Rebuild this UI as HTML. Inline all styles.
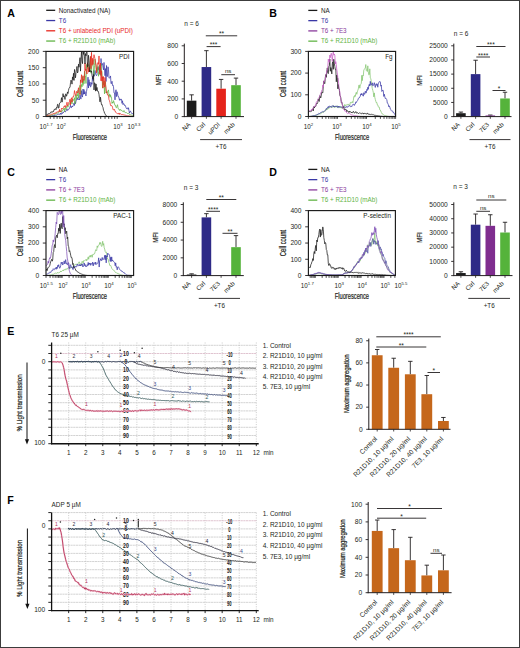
<!DOCTYPE html>
<html><head><meta charset="utf-8"><style>
html,body{margin:0;padding:0;background:#fff;}
svg{display:block;}
text{font-family:"Liberation Sans", sans-serif;}
</style></head><body>
<svg width="520" height="648" viewBox="0 0 520 648">
<rect x="0" y="0" width="520" height="648" fill="#fff"/>
<text x="7.3" y="17.2" font-size="10.6" text-anchor="start" fill="#000" font-weight="bold">A</text>
<line x1="46.2" y1="10.3" x2="55.2" y2="10.3" stroke="#1a1a1a" stroke-width="1.3"/>
<text x="58.8" y="12.6" font-size="6.3" text-anchor="start" fill="#1a1a1a" font-weight="normal">Nonactivated (NA)</text>
<line x1="46.2" y1="20.55" x2="55.2" y2="20.55" stroke="#3a38a6" stroke-width="1.3"/>
<text x="58.8" y="22.85" font-size="6.3" text-anchor="start" fill="#3a38a6" font-weight="normal">T6</text>
<line x1="46.2" y1="30.8" x2="55.2" y2="30.8" stroke="#e8291f" stroke-width="1.3"/>
<text x="58.8" y="33.1" font-size="6.3" text-anchor="start" fill="#e8291f" font-weight="normal">T6 + unlabeled PDI (uPDI)</text>
<line x1="46.2" y1="41.05" x2="55.2" y2="41.05" stroke="#62b446" stroke-width="1.3"/>
<text x="58.8" y="43.35" font-size="6.3" text-anchor="start" fill="#62b446" font-weight="normal">T6 + R21D10 (mAb)</text>
<polyline points="46.5,116.18 47,116.16 47.5,116.02 48,116.05 48.5,116.19 49,116 49.5,116.01 50,115.92 50.5,115.95 51,115.78 51.5,115.88 52,115.41 52.5,115.49 53,115.47 53.5,115.66 54,115.03 54.5,115.68 55,115 55.5,115.19 56,115.21 56.5,115.14 57,115.01 57.5,114.42 58,114.35 58.5,113.92 59,114.73 59.5,114.23 60,114.03 60.5,113.11 61,114.63 61.5,113.12 62,113.5 62.5,113.52 63,111.9 63.5,112.56 64,111.91 64.5,111.05 65,111.66 65.5,111.83 66,110.4 66.5,110.35 67,108.77 67.5,110.42 68,109.97 68.5,109.63 69,109.24 69.5,107.8 70,107.12 70.5,105.19 71,107.84 71.5,107.65 72,106.07 72.5,106.99 73,105.82 73.5,104.76 74,103.09 74.5,105.48 75,101.62 75.5,103.7 76,101.22 76.5,99.57 77,99.97 77.5,97.7 78,99.8 78.5,99.41 79,98.9 79.5,99.9 80,94.79 80.5,98.27 81,99.08 81.5,90.64 82,95.46 82.5,97.09 83,89.01 83.5,94.29 84,89.56 84.5,94 85,91.55 85.5,94.85 86,95.94 86.5,91.59 87,88.68 87.5,84.01 88,77.15 88.5,88.04 89,79.65 89.5,85.47 90,82.11 90.5,86.94 91,86.51 91.5,82.7 92,84.31 92.5,76.52 93,80.6 93.5,70.54 94,76.41 94.5,75.96 95,70.41 95.5,73.06 96,74.95 96.5,75.69 97,74.63 97.5,67.49 98,69.43 98.5,69.65 99,66.88 99.5,72.35 100,65.02 100.5,74.59 101,58.53 101.5,65.4 102,64.54 102.5,63.54 103,67.23 103.5,69.86 104,62.44 104.5,68.96 105,75.7 105.5,68.61 106,81.51 106.5,65.51 107,76.46 107.5,76.42 108,66.81 108.5,69.73 109,78.13 109.5,78.12 110,77.47 110.5,75.94 111,83.68 111.5,83.49 112,81.26 112.5,85.4 113,84.92 113.5,86.86 114,92.94 114.5,92.91 115,99.89 115.5,92.19 116,89.77 116.5,96.57 117,91.72 117.5,93.13 118,96.54 118.5,96.5 119,98.01 119.5,100.29 120,98.87 120.5,100.17 121,99.26 121.5,99.31 122,103.36 122.5,100.79 123,104.64 123.5,103.63 124,103.77 124.5,105.46 125,105.08 125.5,105.94 126,107.62 126.5,108.61 127,108.49 127.5,107.79 128,109.25 128.5,107.76 129,110.84 129.5,113.08 130,111.32 130.5,111.1 131,112.45 131.5,112.85 132,113.81 132.5,113.6 133,114.32" fill="none" stroke="#3a38a6" stroke-width="0.75" stroke-linejoin="round"/>
<polyline points="46.5,115.61 47,116.05 47.5,115.77 48,115.76 48.5,115.77 49,115.5 49.5,115.7 50,115.31 50.5,115.48 51,114.79 51.5,115.09 52,115 52.5,115.02 53,114.86 53.5,114.87 54,114.35 54.5,114.34 55,114.11 55.5,113.91 56,114.14 56.5,113.84 57,113.19 57.5,113 58,112.94 58.5,112.78 59,112.03 59.5,110.69 60,112 60.5,111.74 61,110.86 61.5,112.3 62,110.62 62.5,110.57 63,109.3 63.5,109.64 64,108.21 64.5,111.55 65,108 65.5,108.95 66,109.78 66.5,107.1 67,106.04 67.5,107.01 68,107.38 68.5,105.79 69,105.06 69.5,103.35 70,102.74 70.5,103.51 71,100.25 71.5,101.78 72,104.06 72.5,99.62 73,99.06 73.5,100.42 74,100.19 74.5,97.79 75,103.95 75.5,95.09 76,94.71 76.5,99.23 77,94.71 77.5,95.82 78,90.09 78.5,98.36 79,93.99 79.5,87.63 80,85.24 80.5,94.3 81,88.22 81.5,84.59 82,86.85 82.5,76.46 83,85.47 83.5,78.91 84,83.77 84.5,71.18 85,76.89 85.5,76.36 86,83.49 86.5,64.54 87,68.4 87.5,66.89 88,64.32 88.5,66.04 89,71.55 89.5,71.45 90,71.06 90.5,56.8 91,73.18 91.5,67.19 92,65.43 92.5,61.85 93,60.15 93.5,72.29 94,75.3 94.5,65.38 95,59.09 95.5,62.26 96,66.01 96.5,70.41 97,68.04 97.5,71.3 98,65.68 98.5,76.23 99,72.08 99.5,74.29 100,71.29 100.5,75.41 101,64.26 101.5,70.12 102,72.37 102.5,88.08 103,82.11 103.5,84.78 104,80.89 104.5,93.87 105,81.48 105.5,82.16 106,93.02 106.5,91.73 107,93.25 107.5,91.36 108,91.34 108.5,89.9 109,96.07 109.5,94.26 110,97.32 110.5,94.76 111,97.13 111.5,97.3 112,103.45 112.5,102.05 113,103.12 113.5,100.65 114,102.12 114.5,103.97 115,105.53 115.5,105.43 116,107.59 116.5,107.71 117,106.09 117.5,104.7 118,107.89 118.5,109.06 119,109.62 119.5,110.44 120,109.05 120.5,109.6 121,110.73 121.5,110.24 122,110.96 122.5,111.14 123,111.82 123.5,111.69 124,110.5 124.5,112 125,112.6 125.5,112.56 126,112.68 126.5,112.66 127,112.95 127.5,113.53 128,113.89 128.5,113.32 129,113.51 129.5,114.46 130,114.24 130.5,114.87 131,114.62 131.5,115.06 132,115.17 132.5,115.38 133,115.83" fill="none" stroke="#62b446" stroke-width="0.75" stroke-linejoin="round"/>
<polyline points="46.5,115.42 47,115.49 47.5,115.61 48,115.64 48.5,115.05 49,114.79 49.5,114.95 50,114.84 50.5,114.78 51,114.7 51.5,114.23 52,114.11 52.5,114.08 53,114.25 53.5,113.51 54,114.08 54.5,113.15 55,113.27 55.5,113.05 56,113.43 56.5,112.06 57,111.67 57.5,111.87 58,112.01 58.5,111.62 59,111.51 59.5,109.38 60,112.05 60.5,111.16 61,111.53 61.5,108.18 62,108.86 62.5,108.52 63,108.5 63.5,107.75 64,106.44 64.5,107.1 65,105.49 65.5,107.66 66,105.92 66.5,104.8 67,102.23 67.5,106.02 68,105 68.5,103.68 69,102 69.5,101.68 70,99.17 70.5,104.94 71,99.5 71.5,97.75 72,102.12 72.5,98.83 73,96.42 73.5,96.8 74,94.78 74.5,90.57 75,93.32 75.5,94.34 76,95.48 76.5,91.43 77,92.45 77.5,92.97 78,90.69 78.5,87.75 79,92.66 79.5,93.38 80,94.58 80.5,79.83 81,82.61 81.5,74.71 82,80.41 82.5,82.47 83,75.68 83.5,76.31 84,80.54 84.5,78.22 85,63.07 85.5,70.5 86,68.99 86.5,72.18 87,74.04 87.5,62.81 88,68.27 88.5,72.18 89,67.7 89.5,71.22 90,64.27 90.5,56.38 91,68.7 91.5,52.3 92,65.36 92.5,58.33 93,64.44 93.5,58.71 94,54.69 94.5,56.91 95,58.96 95.5,62.12 96,65.87 96.5,72.8 97,66.5 97.5,63.37 98,62.51 98.5,64.36 99,55.95 99.5,69.98 100,74.17 100.5,63 101,80.8 101.5,70.78 102,81.14 102.5,76.74 103,88.15 103.5,76.57 104,81.98 104.5,86.97 105,77.47 105.5,84.44 106,88.14 106.5,92.96 107,92.42 107.5,95.02 108,94.72 108.5,95.75 109,99.87 109.5,100.71 110,102.6 110.5,105.31 111,106.06 111.5,105.47 112,105.81 112.5,107.16 113,109.76 113.5,109.73 114,109.98 114.5,109.35 115,111.5 115.5,111.49 116,112.65 116.5,113.15 117,113.17 117.5,113.61 118,113.6 118.5,113.95 119,112.94 119.5,114.42 120,113.34 120.5,114.04 121,114 121.5,114.6 122,114.44 122.5,114.53 123,114.82 123.5,114.74 124,114.88 124.5,115.03 125,115.23 125.5,115.25 126,115.37 126.5,115.71 127,115.72 127.5,115.84 128,116.01 128.5,115.85 129,116.03 129.5,116.04 130,116.13 130.5,116.23 131,116.32 131.5,116.36 132,116.41 132.5,116.45 133,116.5" fill="none" stroke="#e8291f" stroke-width="0.75" stroke-linejoin="round"/>
<polyline points="46.5,114.72 47,114.12 47.5,114.31 48,114.68 48.5,113.56 49,113.31 49.5,113.56 50,113 50.5,113.08 51,111.7 51.5,112.01 52,112.02 52.5,112.19 53,111.11 53.5,111.59 54,109.61 54.5,109.82 55,108.78 55.5,108.84 56,109.66 56.5,107.51 57,108.03 57.5,104.36 58,104.45 58.5,108.23 59,107.47 59.5,103.13 60,102.74 60.5,102.6 61,101.16 61.5,97.65 62,102.18 62.5,100.71 63,93.64 63.5,96.9 64,95.66 64.5,97.04 65,99.48 65.5,94.24 66,93.76 66.5,96.26 67,94.7 67.5,91.96 68,93.51 68.5,90.26 69,88.39 69.5,87.46 70,87.38 70.5,82.73 71,80.11 71.5,81.09 72,84.13 72.5,76.91 73,79.81 73.5,73.28 74,80.47 74.5,69.46 75,72.54 75.5,77.79 76,72.79 76.5,68.59 77,66.42 77.5,72.99 78,71.72 78.5,64.15 79,67.22 79.5,61.6 80,57.65 80.5,71.13 81,59.51 81.5,51.4 82,60.73 82.5,63.64 83,51.51 83.5,54.37 84,51.4 84.5,56.82 85,63.88 85.5,53.61 86,55.85 86.5,51.4 87,51.92 87.5,66.73 88,65.58 88.5,55.26 89,60.74 89.5,71.85 90,70.31 90.5,71 91,72.02 91.5,70.91 92,75.54 92.5,77.45 93,79.23 93.5,74.5 94,89.93 94.5,82.84 95,83.2 95.5,91.14 96,83.93 96.5,90.46 97,87.44 97.5,91.09 98,90.93 98.5,92.04 99,94.49 99.5,98.62 100,101.87 100.5,97.17 101,101.61 101.5,104.61 102,104.3 102.5,106.46 103,107.55 103.5,110.31 104,111.29 104.5,113.17 105,113.45 105.5,114.9 106,115.42 106.5,116.17 107,116.5 107.5,116.5 108,116.5 108.5,116.5 109,116.5 109.5,116.5 110,116.5 110.5,116.5 111,116.5 111.5,116.5 112,116.5 112.5,116.5 113,116.5 113.5,116.5 114,116.5 114.5,116.5 115,116.5 115.5,116.5 116,116.5 116.5,116.5 117,116.5 117.5,116.5 118,116.5 118.5,116.5 119,116.5 119.5,116.5 120,116.5 120.5,116.5 121,116.5 121.5,116.5 122,116.5 122.5,116.5 123,116.5 123.5,116.5 124,116.5 124.5,116.5 125,116.5 125.5,116.5 126,116.5 126.5,116.5 127,116.5 127.5,116.5 128,116.5 128.5,116.5 129,116.5 129.5,116.5 130,116.5 130.5,116.5 131,116.5 131.5,116.5 132,116.5 132.5,116.5 133,116.5" fill="none" stroke="#1a1a1a" stroke-width="0.75" stroke-linejoin="round"/>
<rect x="46" y="51.4" width="87.6" height="65.1" fill="none" stroke="#1a1a1a" stroke-width="1.15"/>
<line x1="42.8" y1="116.5" x2="46" y2="116.5" stroke="#231f20" stroke-width="0.9"/>
<text x="39.1" y="118.8" font-size="6.65" text-anchor="end" fill="#231f20" font-weight="normal">0</text>
<line x1="42.8" y1="100.22" x2="46" y2="100.22" stroke="#231f20" stroke-width="0.9"/>
<text x="39.1" y="102.52" font-size="6.65" text-anchor="end" fill="#231f20" font-weight="normal">50</text>
<line x1="42.8" y1="83.95" x2="46" y2="83.95" stroke="#231f20" stroke-width="0.9"/>
<text x="39.1" y="86.25" font-size="6.65" text-anchor="end" fill="#231f20" font-weight="normal">100</text>
<line x1="42.8" y1="67.68" x2="46" y2="67.68" stroke="#231f20" stroke-width="0.9"/>
<text x="39.1" y="69.98" font-size="6.65" text-anchor="end" fill="#231f20" font-weight="normal">150</text>
<line x1="42.8" y1="51.4" x2="46" y2="51.4" stroke="#231f20" stroke-width="0.9"/>
<text x="39.1" y="53.7" font-size="6.65" text-anchor="end" fill="#231f20" font-weight="normal">200</text>
<line x1="50.28" y1="116.5" x2="50.28" y2="118.9" stroke="#111" stroke-width="0.75"/>
<line x1="53.94" y1="116.5" x2="53.94" y2="118.9" stroke="#111" stroke-width="0.75"/>
<line x1="57.12" y1="116.5" x2="57.12" y2="118.9" stroke="#111" stroke-width="0.75"/>
<line x1="59.92" y1="116.5" x2="59.92" y2="118.9" stroke="#111" stroke-width="0.75"/>
<line x1="62.43" y1="116.5" x2="62.43" y2="118.9" stroke="#111" stroke-width="0.75"/>
<line x1="78.91" y1="116.5" x2="78.91" y2="118.9" stroke="#111" stroke-width="0.75"/>
<line x1="88.55" y1="116.5" x2="88.55" y2="118.9" stroke="#111" stroke-width="0.75"/>
<line x1="95.39" y1="116.5" x2="95.39" y2="118.9" stroke="#111" stroke-width="0.75"/>
<line x1="100.69" y1="116.5" x2="100.69" y2="118.9" stroke="#111" stroke-width="0.75"/>
<line x1="105.03" y1="116.5" x2="105.03" y2="118.9" stroke="#111" stroke-width="0.75"/>
<line x1="108.69" y1="116.5" x2="108.69" y2="118.9" stroke="#111" stroke-width="0.75"/>
<line x1="111.87" y1="116.5" x2="111.87" y2="118.9" stroke="#111" stroke-width="0.75"/>
<line x1="114.67" y1="116.5" x2="114.67" y2="118.9" stroke="#111" stroke-width="0.75"/>
<line x1="117.18" y1="116.5" x2="117.18" y2="118.9" stroke="#111" stroke-width="0.75"/>
<text x="39.6" y="128.8" font-size="6.3" fill="#231f20">10<tspan font-size="4.3" dy="-2.4">1.7</tspan></text>
<text x="56.5" y="128.8" font-size="6.3" fill="#231f20">10<tspan font-size="4.3" dy="-2.4">2</tspan></text>
<text x="113.2" y="128.8" font-size="6.3" fill="#231f20">10<tspan font-size="4.3" dy="-2.4">3</tspan></text>
<text x="127.5" y="128.8" font-size="6.3" fill="#231f20">10<tspan font-size="4.3" dy="-2.4">3.3</tspan></text>
<text x="129.5" y="59" font-size="6.3" text-anchor="end" fill="#231f20" font-weight="normal">PDI</text>
<text x="0" y="0" font-size="8.4" text-anchor="middle" fill="#231f20" font-weight="normal" transform="translate(89.8 140.2) scale(0.68 1)" stroke="#231f20" stroke-width="0.22">Fluorescence</text>
<text x="0" y="0" font-size="8.2" text-anchor="middle" fill="#231f20" font-weight="normal" transform="translate(22.8 83.95) rotate(-90) scale(0.72 1)" stroke="#231f20" stroke-width="0.22">Cell count</text>
<line x1="191.6" y1="100.67" x2="191.6" y2="94.83" stroke="#231f20" stroke-width="0.9"/>
<line x1="189.4" y1="94.83" x2="193.8" y2="94.83" stroke="#231f20" stroke-width="0.9"/>
<rect x="186.8" y="100.67" width="9.6" height="15.93" fill="#1c1c1c"/>
<line x1="206.4" y1="67.04" x2="206.4" y2="50.67" stroke="#231f20" stroke-width="0.9"/>
<line x1="204.2" y1="50.67" x2="208.6" y2="50.67" stroke="#231f20" stroke-width="0.9"/>
<rect x="201.6" y="67.04" width="9.6" height="49.56" fill="#2e2a87"/>
<line x1="221.1" y1="88.72" x2="221.1" y2="79.43" stroke="#231f20" stroke-width="0.9"/>
<line x1="218.9" y1="79.43" x2="223.3" y2="79.43" stroke="#231f20" stroke-width="0.9"/>
<rect x="216.3" y="88.72" width="9.6" height="27.88" fill="#e5231b"/>
<line x1="236" y1="85.18" x2="236" y2="78.1" stroke="#231f20" stroke-width="0.9"/>
<line x1="233.8" y1="78.1" x2="238.2" y2="78.1" stroke="#231f20" stroke-width="0.9"/>
<rect x="231.2" y="85.18" width="9.6" height="31.42" fill="#55b33b"/>
<line x1="184.3" y1="117.05" x2="184.3" y2="43.6" stroke="#231f20" stroke-width="1"/>
<line x1="183.8" y1="116.6" x2="244" y2="116.6" stroke="#231f20" stroke-width="1"/>
<line x1="181.7" y1="116.6" x2="184.3" y2="116.6" stroke="#231f20" stroke-width="0.9"/>
<text x="178.3" y="118.9" font-size="6.65" text-anchor="end" fill="#231f20" font-weight="normal">0</text>
<line x1="181.7" y1="98.9" x2="184.3" y2="98.9" stroke="#231f20" stroke-width="0.9"/>
<text x="178.3" y="101.2" font-size="6.65" text-anchor="end" fill="#231f20" font-weight="normal">200</text>
<line x1="181.7" y1="81.2" x2="184.3" y2="81.2" stroke="#231f20" stroke-width="0.9"/>
<text x="178.3" y="83.5" font-size="6.65" text-anchor="end" fill="#231f20" font-weight="normal">400</text>
<line x1="181.7" y1="63.5" x2="184.3" y2="63.5" stroke="#231f20" stroke-width="0.9"/>
<text x="178.3" y="65.8" font-size="6.65" text-anchor="end" fill="#231f20" font-weight="normal">600</text>
<line x1="181.7" y1="45.8" x2="184.3" y2="45.8" stroke="#231f20" stroke-width="0.9"/>
<text x="178.3" y="48.1" font-size="6.65" text-anchor="end" fill="#231f20" font-weight="normal">800</text>
<line x1="191.6" y1="116.6" x2="191.6" y2="118.8" stroke="#231f20" stroke-width="0.8"/>
<line x1="206.4" y1="116.6" x2="206.4" y2="118.8" stroke="#231f20" stroke-width="0.8"/>
<line x1="221.1" y1="116.6" x2="221.1" y2="118.8" stroke="#231f20" stroke-width="0.8"/>
<line x1="236" y1="116.6" x2="236" y2="118.8" stroke="#231f20" stroke-width="0.8"/>
<line x1="205.8" y1="35.8" x2="237.2" y2="35.8" stroke="#231f20" stroke-width="0.9"/>
<text x="221.5" y="36.4" font-size="6.6" text-anchor="middle" fill="#231f20" font-weight="normal">**</text>
<line x1="206.6" y1="46.6" x2="220.6" y2="46.6" stroke="#231f20" stroke-width="0.9"/>
<text x="213.6" y="47.2" font-size="6.6" text-anchor="middle" fill="#231f20" font-weight="normal">***</text>
<line x1="221.3" y1="74.7" x2="235" y2="74.7" stroke="#231f20" stroke-width="0.9"/>
<text x="228.15" y="73.1" font-size="6.2" text-anchor="middle" fill="#231f20" font-weight="normal">ns</text>
<text x="184.3" y="25.8" font-size="6.5" text-anchor="start" fill="#231f20" font-weight="normal">n = 6</text>
<text x="0" y="0" font-size="8.1" text-anchor="middle" fill="#231f20" font-weight="normal" transform="translate(160.6 80) rotate(-90) scale(0.75 1)" stroke="#231f20" stroke-width="0.22">MFI</text>
<text x="0" y="0" font-size="6.3" text-anchor="end" fill="#231f20" font-weight="normal" transform="translate(190.9 125.1) rotate(-45)">NA</text>
<text x="0" y="0" font-size="6.3" text-anchor="end" fill="#231f20" font-weight="normal" transform="translate(205.7 125.1) rotate(-45)">Ctrl</text>
<text x="0" y="0" font-size="6.3" text-anchor="end" fill="#231f20" font-weight="normal" transform="translate(220.4 125.1) rotate(-45)">uPDI</text>
<text x="0" y="0" font-size="6.3" text-anchor="end" fill="#231f20" font-weight="normal" transform="translate(235.3 125.1) rotate(-45)">mAb</text>
<line x1="200.1" y1="139.6" x2="242" y2="139.6" stroke="#231f20" stroke-width="0.9"/>
<text x="221.05" y="148.8" font-size="6.3" text-anchor="middle" fill="#231f20" font-weight="normal">+T6</text>
<text x="269.3" y="17.2" font-size="10.6" text-anchor="start" fill="#000" font-weight="bold">B</text>
<line x1="308.3" y1="10.4" x2="317.3" y2="10.4" stroke="#1a1a1a" stroke-width="1.3"/>
<text x="320.9" y="12.7" font-size="6.3" text-anchor="start" fill="#1a1a1a" font-weight="normal">NA</text>
<line x1="308.3" y1="20.65" x2="317.3" y2="20.65" stroke="#3a38a6" stroke-width="1.3"/>
<text x="320.9" y="22.95" font-size="6.3" text-anchor="start" fill="#3a38a6" font-weight="normal">T6</text>
<line x1="308.3" y1="30.9" x2="317.3" y2="30.9" stroke="#8a3b9c" stroke-width="1.3"/>
<text x="320.9" y="33.2" font-size="6.3" text-anchor="start" fill="#8a3b9c" font-weight="normal">T6 + 7E3</text>
<line x1="308.3" y1="41.15" x2="317.3" y2="41.15" stroke="#62b446" stroke-width="1.3"/>
<text x="320.9" y="43.45" font-size="6.3" text-anchor="start" fill="#62b446" font-weight="normal">T6 + R21D10 (mAb)</text>
<polyline points="308.8,116.5 309.3,116.49 309.8,116.46 310.3,116.42 310.8,116.36 311.3,116.27 311.8,116.19 312.3,116.14 312.8,116.03 313.3,115.95 313.8,115.92 314.3,115.91 314.8,115.61 315.3,115.48 315.8,115.32 316.3,115.34 316.8,115.09 317.3,114.84 317.8,114.46 318.3,114.66 318.8,114.13 319.3,113.68 319.8,113.68 320.3,113.84 320.8,113.78 321.3,113.08 321.8,112.76 322.3,112.16 322.8,112.83 323.3,112.24 323.8,111.33 324.3,111.28 324.8,111.29 325.3,111.01 325.8,110.63 326.3,108.8 326.8,109.72 327.3,108.93 327.8,109.33 328.3,107.4 328.8,108.47 329.3,107.53 329.8,107.43 330.3,106.66 330.8,106.65 331.3,107.27 331.8,106.58 332.3,107.48 332.8,106.57 333.3,105.67 333.8,106.62 334.3,105.95 334.8,107.76 335.3,106.68 335.8,106.29 336.3,106.89 336.8,106.94 337.3,105.67 337.8,107.12 338.3,107.77 338.8,107.5 339.3,106.82 339.8,107.7 340.3,107.76 340.8,106.86 341.3,107.04 341.8,106.67 342.3,108.72 342.8,107.08 343.3,106.93 343.8,107.22 344.3,106.01 344.8,104.44 345.3,105.75 345.8,105.59 346.3,104.77 346.8,105 347.3,104.64 347.8,105.06 348.3,103.96 348.8,104.55 349.3,105.4 349.8,105.48 350.3,102.57 350.8,102.17 351.3,102.99 351.8,102.69 352.3,101.57 352.8,102.77 353.3,100.56 353.8,96.61 354.3,97.16 354.8,95.32 355.3,96.44 355.8,93.41 356.3,92.32 356.8,94.29 357.3,91.88 357.8,90.35 358.3,88.91 358.8,85.22 359.3,84.94 359.8,88.23 360.3,84.95 360.8,84.47 361.3,83.23 361.8,75.32 362.3,80.65 362.8,75.23 363.3,75.86 363.8,70.16 364.3,69.3 364.8,68.55 365.3,68.04 365.8,64.52 366.3,70.35 366.8,69.79 367.3,71.53 367.8,65.84 368.3,71.72 368.8,74.87 369.3,74.53 369.8,68.82 370.3,77.94 370.8,78.71 371.3,81.75 371.8,85.73 372.3,88.53 372.8,90.32 373.3,92.42 373.8,96.87 374.3,92.88 374.8,97.32 375.3,99.43 375.8,101.27 376.3,102.77 376.8,102.39 377.3,104.82 377.8,104.86 378.3,106.83 378.8,107.26 379.3,107.12 379.8,109.9 380.3,110.18 380.8,110.98 381.3,112.55 381.8,113.04 382.3,114.01 382.8,114.22 383.3,114.49 383.8,115.05 384.3,115.28 384.8,115.64 385.3,115.57 385.8,115.82 386.3,115.87 386.8,116.05 387.3,116.13 387.8,116.27 388.3,116.36 388.8,116.43 389.3,116.48 389.8,116.5 390.3,116.5 390.8,116.5 391.3,116.5 391.8,116.5 392.3,116.5 392.8,116.5 393.3,116.5 393.8,116.5 394.3,116.5 394.8,116.5" fill="none" stroke="#86c672" stroke-width="0.75" stroke-linejoin="round"/>
<polyline points="308.8,116.5 309.3,116.48 309.8,116.44 310.3,116.4 310.8,116.33 311.3,116.25 311.8,116.19 312.3,116.03 312.8,115.86 313.3,115.81 313.8,115.59 314.3,115.7 314.8,115.47 315.3,115.27 315.8,115.34 316.3,114.86 316.8,114.88 317.3,114.49 317.8,114.66 318.3,113.95 318.8,113.29 319.3,113.73 319.8,113.48 320.3,113.19 320.8,112.39 321.3,112.18 321.8,112.26 322.3,111.74 322.8,111.58 323.3,112.07 323.8,111.58 324.3,110.92 324.8,110.8 325.3,110.44 325.8,110.1 326.3,108.55 326.8,108.93 327.3,107.73 327.8,107.99 328.3,106.51 328.8,107.54 329.3,105.99 329.8,106.09 330.3,106.66 330.8,106.62 331.3,107.47 331.8,106.27 332.3,105.63 332.8,106.29 333.3,105.72 333.8,107.13 334.3,106.01 334.8,106.58 335.3,106.1 335.8,106.92 336.3,106.4 336.8,105.95 337.3,107.39 337.8,107.35 338.3,106.04 338.8,107.37 339.3,107.28 339.8,106.16 340.3,106.85 340.8,107.18 341.3,106.97 341.8,107.64 342.3,107.5 342.8,107.09 343.3,106.82 343.8,106.72 344.3,106.66 344.8,107.54 345.3,107.08 345.8,107.61 346.3,106.53 346.8,106.8 347.3,107.4 347.8,106.4 348.3,106.66 348.8,105.75 349.3,105.54 349.8,106.31 350.3,106.69 350.8,105.9 351.3,106.33 351.8,106.69 352.3,105.21 352.8,104.41 353.3,104.35 353.8,104.3 354.3,105.46 354.8,104.16 355.3,104.02 355.8,101.9 356.3,102.52 356.8,101.44 357.3,100.79 357.8,100.36 358.3,98.4 358.8,98.01 359.3,97.87 359.8,96.88 360.3,96.16 360.8,93.85 361.3,95 361.8,93.32 362.3,95.12 362.8,94.78 363.3,96.2 363.8,92.7 364.3,94.15 364.8,94.29 365.3,91.18 365.8,92.83 366.3,92.85 366.8,89.45 367.3,90.38 367.8,87.25 368.3,89.33 368.8,85.59 369.3,84.25 369.8,86.02 370.3,81.34 370.8,85.01 371.3,84.82 371.8,84.54 372.3,82.81 372.8,85.96 373.3,85.5 373.8,84.23 374.3,82.7 374.8,85.5 375.3,87.41 375.8,84.18 376.3,83.63 376.8,85.47 377.3,84.23 377.8,87.24 378.3,82.99 378.8,82.59 379.3,81.59 379.8,81.77 380.3,81.77 380.8,86.17 381.3,85.15 381.8,91.48 382.3,90.84 382.8,89.96 383.3,91.05 383.8,96.47 384.3,94.23 384.8,96.6 385.3,98.6 385.8,98.24 386.3,99.05 386.8,99.46 387.3,103.09 387.8,103.28 388.3,104.57 388.8,106.8 389.3,105.85 389.8,106.98 390.3,109 390.8,109.41 391.3,110.65 391.8,111.15 392.3,110.95 392.8,111.26 393.3,112.81 393.8,112.56 394.3,113.45 394.8,114.05 395.3,115.55" fill="none" stroke="#3a38a6" stroke-width="0.75" stroke-linejoin="round"/>
<polyline points="308.8,112.04 309.3,111.3 309.8,111.25 310.3,112.07 310.8,111.56 311.3,111.43 311.8,110.01 312.3,110.06 312.8,108.72 313.3,110.88 313.8,106.6 314.3,108 314.8,106.53 315.3,106.55 315.8,106.29 316.3,104.2 316.8,103.03 317.3,103.6 317.8,102.34 318.3,98.96 318.8,100.92 319.3,101.41 319.8,95.68 320.3,97.23 320.8,97.97 321.3,95.01 321.8,92.06 322.3,92.73 322.8,92.92 323.3,85.83 323.8,80.85 324.3,83.36 324.8,83.77 325.3,77.39 325.8,74.56 326.3,77.36 326.8,72.22 327.3,67.91 327.8,72.74 328.3,73.63 328.8,66.38 329.3,65.59 329.8,59.07 330.3,71.28 330.8,67.53 331.3,69.02 331.8,73.91 332.3,63.82 332.8,61.75 333.3,69.32 333.8,59.22 334.3,63.06 334.8,66.35 335.3,69.44 335.8,69.18 336.3,81.8 336.8,75.13 337.3,77.3 337.8,88.77 338.3,84.44 338.8,88.86 339.3,89.04 339.8,95.33 340.3,96.08 340.8,97.74 341.3,102.53 341.8,101.94 342.3,104.52 342.8,105.62 343.3,108.18 343.8,107.35 344.3,108.74 344.8,110.06 345.3,109.45 345.8,109.17 346.3,109.89 346.8,111.84 347.3,110.58 347.8,111.11 348.3,111.48 348.8,112.56 349.3,111.19 349.8,112.08 350.3,111.67 350.8,111.84 351.3,112.84 351.8,112.07 352.3,112.84 352.8,112.45 353.3,111.26 353.8,111.92 354.3,113.11 354.8,112.76 355.3,112.58 355.8,111.53 356.3,112.34 356.8,113.33 357.3,112.46 357.8,112.96 358.3,113.5 358.8,113.46 359.3,112.87 359.8,112.89 360.3,113.23 360.8,113.38 361.3,113.71 361.8,113.65 362.3,112.82 362.8,113.56 363.3,113.97 363.8,113.06 364.3,113.69 364.8,113.15 365.3,113.35 365.8,113.79 366.3,114.25 366.8,113.33 367.3,113.17 367.8,114.06 368.3,114.24 368.8,113.78 369.3,114.58 369.8,113.98 370.3,114.41 370.8,114.54 371.3,114.21 371.8,114.58 372.3,114.42 372.8,114.96 373.3,114.71 373.8,114.88 374.3,115.42 374.8,115.02 375.3,115.4 375.8,115.33 376.3,115.61 376.8,115.59 377.3,115.64 377.8,115.75 378.3,115.82 378.8,116.03 379.3,116.05 379.8,116.02 380.3,116.22 380.8,116.25 381.3,116.27 381.8,116.32 382.3,116.37 382.8,116.43 383.3,116.45 383.8,116.47 384.3,116.49 384.8,116.5 385.3,116.5 385.8,116.5 386.3,116.5 386.8,116.5 387.3,116.5 387.8,116.5 388.3,116.5 388.8,116.5 389.3,116.5 389.8,116.5 390.3,116.5 390.8,116.5 391.3,116.5 391.8,116.5 392.3,116.5 392.8,116.5 393.3,116.5 393.8,116.5 394.3,116.5 394.8,116.5" fill="none" stroke="#1a1a1a" stroke-width="0.75" stroke-linejoin="round"/>
<polyline points="308.8,110.81 309.3,110.91 309.8,110.56 310.3,110.56 310.8,110.44 311.3,110.92 311.8,109.04 312.3,109.92 312.8,109.2 313.3,107.51 313.8,106.75 314.3,106.31 314.8,107.01 315.3,105.24 315.8,105.24 316.3,102.04 316.8,101.92 317.3,101.07 317.8,100.5 318.3,98.53 318.8,97.55 319.3,97.15 319.8,95.96 320.3,94.34 320.8,93 321.3,92 321.8,90.15 322.3,89.63 322.8,85.11 323.3,86.87 323.8,81.1 324.3,81.72 324.8,79.95 325.3,79.73 325.8,74.93 326.3,73.8 326.8,70.63 327.3,70.54 327.8,66.6 328.3,59.1 328.8,61.39 329.3,62.34 329.8,55.12 330.3,57.67 330.8,54.43 331.3,53.23 331.8,56.34 332.3,61.38 332.8,54.58 333.3,51.61 333.8,55.17 334.3,54.06 334.8,55.01 335.3,64 335.8,61.66 336.3,64.73 336.8,69.99 337.3,72.61 337.8,77.57 338.3,78.25 338.8,85.76 339.3,89.39 339.8,91.67 340.3,96.46 340.8,99.81 341.3,101.08 341.8,103.17 342.3,104.39 342.8,107.05 343.3,108.82 343.8,109.67 344.3,110.18 344.8,111.1 345.3,110.91 345.8,111.03 346.3,112.15 346.8,113.02 347.3,113.2 347.8,113.66 348.3,113.26 348.8,113.22 349.3,113.73 349.8,113.65 350.3,113.94 350.8,114.27 351.3,114.97 351.8,114.87 352.3,115.09 352.8,114.96 353.3,115.36 353.8,115.2 354.3,115.52 354.8,115.76 355.3,115.67 355.8,115.73 356.3,115.87 356.8,115.98 357.3,116.08 357.8,116.14 358.3,116.22 358.8,116.32 359.3,116.35 359.8,116.36 360.3,116.43 360.8,116.47 361.3,116.49 361.8,116.5 362.3,116.5 362.8,116.5 363.3,116.5 363.8,116.5 364.3,116.5 364.8,116.5 365.3,116.5 365.8,116.5 366.3,116.5 366.8,116.5 367.3,116.5 367.8,116.5 368.3,116.5 368.8,116.5 369.3,116.5 369.8,116.5 370.3,116.5 370.8,116.5 371.3,116.5 371.8,116.5 372.3,116.5 372.8,116.5 373.3,116.5 373.8,116.5 374.3,116.5 374.8,116.5 375.3,116.5 375.8,116.5 376.3,116.5 376.8,116.5 377.3,116.5 377.8,116.5 378.3,116.5 378.8,116.5 379.3,116.5 379.8,116.5 380.3,116.5 380.8,116.5 381.3,116.5 381.8,116.5 382.3,116.5 382.8,116.5 383.3,116.5 383.8,116.5 384.3,116.5 384.8,116.5 385.3,116.5 385.8,116.5 386.3,116.5 386.8,116.5 387.3,116.5 387.8,116.5 388.3,116.5 388.8,116.5 389.3,116.5 389.8,116.5 390.3,116.5 390.8,116.5 391.3,116.5 391.8,116.5 392.3,116.5 392.8,116.5 393.3,116.5 393.8,116.5 394.3,116.5 394.8,116.5" fill="none" stroke="#c65cc4" stroke-width="0.75" stroke-linejoin="round"/>
<rect x="308.4" y="51.4" width="87.2" height="65.1" fill="none" stroke="#1a1a1a" stroke-width="1.15"/>
<line x1="305.2" y1="116.5" x2="308.4" y2="116.5" stroke="#231f20" stroke-width="0.9"/>
<text x="301.5" y="118.8" font-size="6.65" text-anchor="end" fill="#231f20" font-weight="normal">0</text>
<line x1="305.2" y1="94.8" x2="308.4" y2="94.8" stroke="#231f20" stroke-width="0.9"/>
<text x="301.5" y="97.1" font-size="6.65" text-anchor="end" fill="#231f20" font-weight="normal">100</text>
<line x1="305.2" y1="73.1" x2="308.4" y2="73.1" stroke="#231f20" stroke-width="0.9"/>
<text x="301.5" y="75.4" font-size="6.65" text-anchor="end" fill="#231f20" font-weight="normal">200</text>
<line x1="305.2" y1="51.4" x2="308.4" y2="51.4" stroke="#231f20" stroke-width="0.9"/>
<text x="301.5" y="53.7" font-size="6.65" text-anchor="end" fill="#231f20" font-weight="normal">300</text>
<line x1="308.4" y1="116.5" x2="308.4" y2="118.9" stroke="#111" stroke-width="0.75"/>
<line x1="317.15" y1="116.5" x2="317.15" y2="118.9" stroke="#111" stroke-width="0.75"/>
<line x1="322.27" y1="116.5" x2="322.27" y2="118.9" stroke="#111" stroke-width="0.75"/>
<line x1="325.9" y1="116.5" x2="325.9" y2="118.9" stroke="#111" stroke-width="0.75"/>
<line x1="328.72" y1="116.5" x2="328.72" y2="118.9" stroke="#111" stroke-width="0.75"/>
<line x1="331.02" y1="116.5" x2="331.02" y2="118.9" stroke="#111" stroke-width="0.75"/>
<line x1="332.96" y1="116.5" x2="332.96" y2="118.9" stroke="#111" stroke-width="0.75"/>
<line x1="334.65" y1="116.5" x2="334.65" y2="118.9" stroke="#111" stroke-width="0.75"/>
<line x1="336.14" y1="116.5" x2="336.14" y2="118.9" stroke="#111" stroke-width="0.75"/>
<line x1="337.47" y1="116.5" x2="337.47" y2="118.9" stroke="#111" stroke-width="0.75"/>
<line x1="346.22" y1="116.5" x2="346.22" y2="118.9" stroke="#111" stroke-width="0.75"/>
<line x1="351.33" y1="116.5" x2="351.33" y2="118.9" stroke="#111" stroke-width="0.75"/>
<line x1="354.97" y1="116.5" x2="354.97" y2="118.9" stroke="#111" stroke-width="0.75"/>
<line x1="357.78" y1="116.5" x2="357.78" y2="118.9" stroke="#111" stroke-width="0.75"/>
<line x1="360.08" y1="116.5" x2="360.08" y2="118.9" stroke="#111" stroke-width="0.75"/>
<line x1="362.03" y1="116.5" x2="362.03" y2="118.9" stroke="#111" stroke-width="0.75"/>
<line x1="363.72" y1="116.5" x2="363.72" y2="118.9" stroke="#111" stroke-width="0.75"/>
<line x1="365.2" y1="116.5" x2="365.2" y2="118.9" stroke="#111" stroke-width="0.75"/>
<line x1="366.53" y1="116.5" x2="366.53" y2="118.9" stroke="#111" stroke-width="0.75"/>
<line x1="375.28" y1="116.5" x2="375.28" y2="118.9" stroke="#111" stroke-width="0.75"/>
<line x1="380.4" y1="116.5" x2="380.4" y2="118.9" stroke="#111" stroke-width="0.75"/>
<line x1="384.03" y1="116.5" x2="384.03" y2="118.9" stroke="#111" stroke-width="0.75"/>
<line x1="386.85" y1="116.5" x2="386.85" y2="118.9" stroke="#111" stroke-width="0.75"/>
<line x1="389.15" y1="116.5" x2="389.15" y2="118.9" stroke="#111" stroke-width="0.75"/>
<line x1="391.1" y1="116.5" x2="391.1" y2="118.9" stroke="#111" stroke-width="0.75"/>
<line x1="392.78" y1="116.5" x2="392.78" y2="118.9" stroke="#111" stroke-width="0.75"/>
<line x1="394.27" y1="116.5" x2="394.27" y2="118.9" stroke="#111" stroke-width="0.75"/>
<line x1="395.6" y1="116.5" x2="395.6" y2="118.9" stroke="#111" stroke-width="0.75"/>
<text x="303.8" y="128.8" font-size="6.3" fill="#231f20">10<tspan font-size="4.3" dy="-2.4">2</tspan></text>
<text x="332.3" y="128.8" font-size="6.3" fill="#231f20">10<tspan font-size="4.3" dy="-2.4">3</tspan></text>
<text x="362.3" y="128.8" font-size="6.3" fill="#231f20">10<tspan font-size="4.3" dy="-2.4">4</tspan></text>
<text x="391.3" y="128.8" font-size="6.3" fill="#231f20">10<tspan font-size="4.3" dy="-2.4">5</tspan></text>
<text x="392.5" y="59" font-size="6.3" text-anchor="end" fill="#231f20" font-weight="normal">Fg</text>
<text x="0" y="0" font-size="8.4" text-anchor="middle" fill="#231f20" font-weight="normal" transform="translate(352 140.2) scale(0.68 1)" stroke="#231f20" stroke-width="0.22">Fluorescence</text>
<text x="0" y="0" font-size="8.2" text-anchor="middle" fill="#231f20" font-weight="normal" transform="translate(285.6 83.95) rotate(-90) scale(0.72 1)" stroke="#231f20" stroke-width="0.22">Cell count</text>
<line x1="460.9" y1="113.2" x2="460.9" y2="112.07" stroke="#231f20" stroke-width="0.9"/>
<line x1="458.7" y1="112.07" x2="463.1" y2="112.07" stroke="#231f20" stroke-width="0.9"/>
<rect x="456.1" y="113.2" width="9.6" height="3.4" fill="#1c1c1c"/>
<line x1="475.6" y1="74.12" x2="475.6" y2="60.24" stroke="#231f20" stroke-width="0.9"/>
<line x1="473.4" y1="60.24" x2="477.8" y2="60.24" stroke="#231f20" stroke-width="0.9"/>
<rect x="470.8" y="74.12" width="9.6" height="42.48" fill="#2e2a87"/>
<line x1="490.3" y1="115.47" x2="490.3" y2="115.04" stroke="#231f20" stroke-width="0.9"/>
<line x1="488.1" y1="115.04" x2="492.5" y2="115.04" stroke="#231f20" stroke-width="0.9"/>
<rect x="485.5" y="115.47" width="9.6" height="1.13" fill="#7f2d8f"/>
<line x1="505" y1="98.48" x2="505" y2="92.24" stroke="#231f20" stroke-width="0.9"/>
<line x1="502.8" y1="92.24" x2="507.2" y2="92.24" stroke="#231f20" stroke-width="0.9"/>
<rect x="500.2" y="98.48" width="9.6" height="18.12" fill="#55b33b"/>
<line x1="453.8" y1="117.05" x2="453.8" y2="43.6" stroke="#231f20" stroke-width="1"/>
<line x1="453.3" y1="116.6" x2="511.5" y2="116.6" stroke="#231f20" stroke-width="1"/>
<line x1="451.2" y1="116.6" x2="453.8" y2="116.6" stroke="#231f20" stroke-width="0.9"/>
<text x="447.8" y="118.9" font-size="6.65" text-anchor="end" fill="#231f20" font-weight="normal">0</text>
<line x1="451.2" y1="102.44" x2="453.8" y2="102.44" stroke="#231f20" stroke-width="0.9"/>
<text x="447.8" y="104.74" font-size="6.65" text-anchor="end" fill="#231f20" font-weight="normal">5000</text>
<line x1="451.2" y1="88.28" x2="453.8" y2="88.28" stroke="#231f20" stroke-width="0.9"/>
<text x="447.8" y="90.58" font-size="6.65" text-anchor="end" fill="#231f20" font-weight="normal">10000</text>
<line x1="451.2" y1="74.12" x2="453.8" y2="74.12" stroke="#231f20" stroke-width="0.9"/>
<text x="447.8" y="76.42" font-size="6.65" text-anchor="end" fill="#231f20" font-weight="normal">15000</text>
<line x1="451.2" y1="59.96" x2="453.8" y2="59.96" stroke="#231f20" stroke-width="0.9"/>
<text x="447.8" y="62.26" font-size="6.65" text-anchor="end" fill="#231f20" font-weight="normal">20000</text>
<line x1="451.2" y1="45.8" x2="453.8" y2="45.8" stroke="#231f20" stroke-width="0.9"/>
<text x="447.8" y="48.1" font-size="6.65" text-anchor="end" fill="#231f20" font-weight="normal">25000</text>
<line x1="460.9" y1="116.6" x2="460.9" y2="118.8" stroke="#231f20" stroke-width="0.8"/>
<line x1="475.6" y1="116.6" x2="475.6" y2="118.8" stroke="#231f20" stroke-width="0.8"/>
<line x1="490.3" y1="116.6" x2="490.3" y2="118.8" stroke="#231f20" stroke-width="0.8"/>
<line x1="505" y1="116.6" x2="505" y2="118.8" stroke="#231f20" stroke-width="0.8"/>
<line x1="476.3" y1="46.5" x2="505.5" y2="46.5" stroke="#231f20" stroke-width="0.9"/>
<text x="490.9" y="47.1" font-size="6.6" text-anchor="middle" fill="#231f20" font-weight="normal">***</text>
<line x1="476.3" y1="57" x2="490" y2="57" stroke="#231f20" stroke-width="0.9"/>
<text x="483.15" y="57.6" font-size="6.6" text-anchor="middle" fill="#231f20" font-weight="normal">****</text>
<line x1="492.5" y1="90.5" x2="505.5" y2="90.5" stroke="#231f20" stroke-width="0.9"/>
<text x="499" y="91.1" font-size="6.6" text-anchor="middle" fill="#231f20" font-weight="normal">*</text>
<text x="453.8" y="36.3" font-size="6.5" text-anchor="start" fill="#231f20" font-weight="normal">n = 6</text>
<text x="0" y="0" font-size="8.1" text-anchor="middle" fill="#231f20" font-weight="normal" transform="translate(421.5 80.5) rotate(-90) scale(0.75 1)" stroke="#231f20" stroke-width="0.22">MFI</text>
<text x="0" y="0" font-size="6.3" text-anchor="end" fill="#231f20" font-weight="normal" transform="translate(460.2 125.1) rotate(-45)">NA</text>
<text x="0" y="0" font-size="6.3" text-anchor="end" fill="#231f20" font-weight="normal" transform="translate(474.9 125.1) rotate(-45)">Ctrl</text>
<text x="0" y="0" font-size="6.3" text-anchor="end" fill="#231f20" font-weight="normal" transform="translate(489.6 125.1) rotate(-45)">7E3</text>
<text x="0" y="0" font-size="6.3" text-anchor="end" fill="#231f20" font-weight="normal" transform="translate(504.3 125.1) rotate(-45)">mAb</text>
<line x1="469.5" y1="139.6" x2="510.5" y2="139.6" stroke="#231f20" stroke-width="0.9"/>
<text x="490" y="148.8" font-size="6.3" text-anchor="middle" fill="#231f20" font-weight="normal">+T6</text>
<text x="7.3" y="176" font-size="10.6" text-anchor="start" fill="#000" font-weight="bold">C</text>
<line x1="46.2" y1="169.4" x2="55.2" y2="169.4" stroke="#1a1a1a" stroke-width="1.3"/>
<text x="58.8" y="171.7" font-size="6.3" text-anchor="start" fill="#1a1a1a" font-weight="normal">NA</text>
<line x1="46.2" y1="179.65" x2="55.2" y2="179.65" stroke="#3a38a6" stroke-width="1.3"/>
<text x="58.8" y="181.95" font-size="6.3" text-anchor="start" fill="#3a38a6" font-weight="normal">T6</text>
<line x1="46.2" y1="189.9" x2="55.2" y2="189.9" stroke="#8a3b9c" stroke-width="1.3"/>
<text x="58.8" y="192.2" font-size="6.3" text-anchor="start" fill="#8a3b9c" font-weight="normal">T6 + 7E3</text>
<line x1="46.2" y1="200.15" x2="55.2" y2="200.15" stroke="#62b446" stroke-width="1.3"/>
<text x="58.8" y="202.45" font-size="6.3" text-anchor="start" fill="#62b446" font-weight="normal">T6 + R21D10 (mAb)</text>
<polyline points="46.2,275.5 46.7,275.49 47.2,275.47 47.7,275.45 48.2,275.39 48.7,275.35 49.2,275.25 49.7,275.2 50.2,275.12 50.7,275.01 51.2,274.93 51.7,274.75 52.2,274.51 52.7,274.28 53.2,274.08 53.7,274.3 54.2,273.88 54.7,273.4 55.2,273.33 55.7,273.01 56.2,273.16 56.7,273.28 57.2,273.06 57.7,272.4 58.2,273.22 58.7,272.65 59.2,272.44 59.7,272.4 60.2,272.04 60.7,270.94 61.2,271.93 61.7,271.23 62.2,270.91 62.7,270.26 63.2,269.99 63.7,270.85 64.2,269.6 64.7,269.08 65.2,269.59 65.7,270.13 66.2,268.57 66.7,269.27 67.2,268.76 67.7,268.95 68.2,267.61 68.7,267.4 69.2,268.34 69.7,267.87 70.2,267.31 70.7,268.17 71.2,267.41 71.7,267.14 72.2,267.73 72.7,267.44 73.2,267.04 73.7,266.13 74.2,265.91 74.7,264.66 75.2,264.85 75.7,264.29 76.2,264.73 76.7,263.96 77.2,264.27 77.7,264.66 78.2,263.12 78.7,262.89 79.2,261.79 79.7,263.44 80.2,263.25 80.7,263.99 81.2,265.43 81.7,262.92 82.2,261.19 82.7,262.46 83.2,263.39 83.7,260.59 84.2,260.82 84.7,260.5 85.2,260.39 85.7,260.11 86.2,259.23 86.7,260.84 87.2,259.18 87.7,259.18 88.2,256.9 88.7,259.29 89.2,256.25 89.7,256.73 90.2,255.22 90.7,257.18 91.2,255.18 91.7,255.07 92.2,257.31 92.7,254.43 93.2,254.36 93.7,254.72 94.2,253.49 94.7,253.52 95.2,251.49 95.7,249.69 96.2,250.33 96.7,250.65 97.2,245.91 97.7,247.47 98.2,245.75 98.7,245.14 99.2,244.98 99.7,242.5 100.2,243.8 100.7,242.49 101.2,245.61 101.7,246.5 102.2,244.75 102.7,241.27 103.2,245.26 103.7,243.6 104.2,247.82 104.7,249.06 105.2,251.55 105.7,252.4 106.2,251.88 106.7,253.9 107.2,257.48 107.7,259.1 108.2,259.27 108.7,262.17 109.2,262.94 109.7,265.41 110.2,265.58 110.7,265.43 111.2,266.67 111.7,268.3 112.2,268.91 112.7,269.63 113.2,270 113.7,270.04 114.2,270.62 114.7,271.4 115.2,272.23 115.7,272.51 116.2,273.01 116.7,272.78 117.2,273.41 117.7,273.27 118.2,273.38 118.7,274.17 119.2,274.24 119.7,274.29 120.2,274.63 120.7,274.85 121.2,274.97 121.7,275.06 122.2,275.24 122.7,275.34 123.2,275.45 123.7,275.49 124.2,275.5 124.7,275.5 125.2,275.5 125.7,275.5 126.2,275.5 126.7,275.5 127.2,275.5 127.7,275.5 128.2,275.5 128.7,275.5 129.2,275.5 129.7,275.5 130.2,275.5 130.7,275.5 131.2,275.5 131.7,275.5 132.2,275.5 132.7,275.5" fill="none" stroke="#86c672" stroke-width="0.75" stroke-linejoin="round"/>
<polyline points="46.2,274.49 46.7,274.21 47.2,274.25 47.7,273.94 48.2,273.22 48.7,273.13 49.2,273.16 49.7,272.8 50.2,271.82 50.7,272.5 51.2,271.7 51.7,270.59 52.2,270.5 52.7,270.67 53.2,268.74 53.7,269.29 54.2,269.76 54.7,268.67 55.2,268.77 55.7,267.63 56.2,269.29 56.7,267.05 57.2,268.57 57.7,265.38 58.2,266.54 58.7,264.69 59.2,266.98 59.7,268.28 60.2,267.49 60.7,265.84 61.2,262.31 61.7,263.56 62.2,262.05 62.7,265.06 63.2,264.06 63.7,263.36 64.2,260.83 64.7,263.96 65.2,262.98 65.7,259.62 66.2,263.6 66.7,262.93 67.2,264.82 67.7,264.58 68.2,262.53 68.7,263.01 69.2,266.63 69.7,268.67 70.2,265.56 70.7,264.65 71.2,267.53 71.7,267.06 72.2,266.87 72.7,269.32 73.2,269.61 73.7,266.87 74.2,266 74.7,267.84 75.2,266.58 75.7,266.44 76.2,266.99 76.7,266.91 77.2,264.23 77.7,265.36 78.2,265.73 78.7,265.54 79.2,264.31 79.7,265.9 80.2,264.82 80.7,266.01 81.2,264.45 81.7,265.16 82.2,263.83 82.7,266.93 83.2,266.38 83.7,266.31 84.2,262.93 84.7,265.65 85.2,264.57 85.7,266.62 86.2,265.93 86.7,266.6 87.2,264.65 87.7,265.63 88.2,262.42 88.7,265.21 89.2,262.98 89.7,264.26 90.2,262.99 90.7,265.35 91.2,263.65 91.7,263.67 92.2,264.39 92.7,262.09 93.2,265.99 93.7,263.2 94.2,263.32 94.7,262.62 95.2,264.57 95.7,262.06 96.2,264.37 96.7,263.96 97.2,263.9 97.7,263.38 98.2,261.85 98.7,257.84 99.2,267.04 99.7,260.66 100.2,260.4 100.7,258.7 101.2,260.85 101.7,260.35 102.2,257.43 102.7,259.78 103.2,259.32 103.7,259.32 104.2,258.05 104.7,255.31 105.2,259.89 105.7,255.15 106.2,262.88 106.7,255.88 107.2,257.04 107.7,253.2 108.2,254.07 108.7,254 109.2,254.72 109.7,255.74 110.2,261.45 110.7,257.23 111.2,261.52 111.7,256.88 112.2,260.91 112.7,260.07 113.2,261.45 113.7,261.66 114.2,262.22 114.7,262.38 115.2,265.81 115.7,262.9 116.2,267.19 116.7,266.56 117.2,269.86 117.7,267.16 118.2,266.72 118.7,267.15 119.2,268.41 119.7,269.46 120.2,270.06 120.7,270.29 121.2,270.96 121.7,270.82 122.2,271.9 122.7,271.65 123.2,272.26 123.7,272.59 124.2,272.48 124.7,273.54 125.2,273.65 125.7,274.19 126.2,274.56 126.7,275.04 127.2,275.17 127.7,275.28 128.2,275.25 128.7,275.38 129.2,275.37 129.7,275.41 130.2,275.44 130.7,275.46 131.2,275.48 131.7,275.49 132.2,275.5 132.7,275.5" fill="none" stroke="#3a38a6" stroke-width="0.75" stroke-linejoin="round"/>
<polyline points="46.2,270.52 46.7,269.08 47.2,270.58 47.7,267.83 48.2,267.91 48.7,267.46 49.2,266.6 49.7,265.81 50.2,263.77 50.7,261.51 51.2,260.54 51.7,259.29 52.2,261.23 52.7,260.04 53.2,252.56 53.7,251.75 54.2,246.05 54.7,244.55 55.2,247.81 55.7,237.54 56.2,236.16 56.7,235.16 57.2,237.81 57.7,233.52 58.2,233.63 58.7,228.21 59.2,231.1 59.7,224.19 60.2,233.46 60.7,226.04 61.2,223.17 61.7,227.93 62.2,228.79 62.7,216.6 63.2,220.12 63.7,225.09 64.2,223.78 64.7,230.23 65.2,227.67 65.7,233.7 66.2,232.83 66.7,231.12 67.2,238.81 67.7,237.09 68.2,246.06 68.7,246.44 69.2,251.57 69.7,250.66 70.2,252.62 70.7,255.22 71.2,257.57 71.7,257.33 72.2,259.07 72.7,264.48 73.2,263.41 73.7,267.48 74.2,267.39 74.7,268.28 75.2,268.61 75.7,270.07 76.2,271.01 76.7,270.91 77.2,271.31 77.7,272.21 78.2,272.24 78.7,272.36 79.2,273.11 79.7,273.31 80.2,273.29 80.7,273.7 81.2,273.85 81.7,274.13 82.2,274.24 82.7,274.49 83.2,274.7 83.7,274.87 84.2,275 84.7,275.06 85.2,275.22 85.7,275.29 86.2,275.35 86.7,275.42 87.2,275.47 87.7,275.5 88.2,275.5 88.7,275.5 89.2,275.5 89.7,275.5 90.2,275.5 90.7,275.5 91.2,275.5 91.7,275.5 92.2,275.5 92.7,275.5 93.2,275.5 93.7,275.5 94.2,275.5 94.7,275.5 95.2,275.5 95.7,275.5 96.2,275.5 96.7,275.5 97.2,275.5 97.7,275.5 98.2,275.5 98.7,275.5 99.2,275.5 99.7,275.5 100.2,275.5 100.7,275.5 101.2,275.5 101.7,275.5 102.2,275.5 102.7,275.5 103.2,275.5 103.7,275.5 104.2,275.5 104.7,275.5 105.2,275.5 105.7,275.5 106.2,275.5 106.7,275.5 107.2,275.5 107.7,275.5 108.2,275.5 108.7,275.5 109.2,275.5 109.7,275.5 110.2,275.5 110.7,275.5 111.2,275.5 111.7,275.5 112.2,275.5 112.7,275.5 113.2,275.5 113.7,275.5 114.2,275.5 114.7,275.5 115.2,275.5 115.7,275.5 116.2,275.5 116.7,275.5 117.2,275.5 117.7,275.5 118.2,275.5 118.7,275.5 119.2,275.5 119.7,275.5 120.2,275.5 120.7,275.5 121.2,275.5 121.7,275.5 122.2,275.5 122.7,275.5 123.2,275.5 123.7,275.5 124.2,275.5 124.7,275.5 125.2,275.5 125.7,275.5 126.2,275.5 126.7,275.5 127.2,275.5 127.7,275.5 128.2,275.5 128.7,275.5 129.2,275.5 129.7,275.5 130.2,275.5 130.7,275.5 131.2,275.5 131.7,275.5 132.2,275.5 132.7,275.5" fill="none" stroke="#1a1a1a" stroke-width="0.75" stroke-linejoin="round"/>
<polyline points="46.2,265.75 46.7,265.1 47.2,264.78 47.7,263.9 48.2,261.16 48.7,263.1 49.2,259.37 49.7,257.73 50.2,258.46 50.7,256.98 51.2,253.82 51.7,250.15 52.2,245.18 52.7,244.99 53.2,239.98 53.7,242.04 54.2,239.73 54.7,238.3 55.2,233.24 55.7,227.35 56.2,222.01 56.7,223.93 57.2,212.32 57.7,213.36 58.2,214.65 58.7,214.57 59.2,210.6 59.7,210.6 60.2,213.91 60.7,214.54 61.2,210.6 61.7,213.61 62.2,210.6 62.7,210.6 63.2,227.01 63.7,215.56 64.2,226.27 64.7,234.33 65.2,237.97 65.7,240.21 66.2,246.34 66.7,251.52 67.2,257.99 67.7,260.04 68.2,264.05 68.7,266.7 69.2,270.13 69.7,271.76 70.2,273.29 70.7,274.2 71.2,274.64 71.7,274.98 72.2,275.32 72.7,275.47 73.2,275.5 73.7,275.5 74.2,275.5 74.7,275.5 75.2,275.5 75.7,275.5 76.2,275.5 76.7,275.5 77.2,275.5 77.7,275.5 78.2,275.5 78.7,275.5 79.2,275.5 79.7,275.5 80.2,275.5 80.7,275.5 81.2,275.5 81.7,275.5 82.2,275.5 82.7,275.5 83.2,275.5 83.7,275.5 84.2,275.5 84.7,275.5 85.2,275.5 85.7,275.5 86.2,275.5 86.7,275.5 87.2,275.5 87.7,275.5 88.2,275.5 88.7,275.5 89.2,275.5 89.7,275.5 90.2,275.5 90.7,275.5 91.2,275.5 91.7,275.5 92.2,275.5 92.7,275.5 93.2,275.5 93.7,275.5 94.2,275.5 94.7,275.5 95.2,275.5 95.7,275.5 96.2,275.5 96.7,275.5 97.2,275.5 97.7,275.5 98.2,275.5 98.7,275.5 99.2,275.5 99.7,275.5 100.2,275.5 100.7,275.5 101.2,275.5 101.7,275.5 102.2,275.5 102.7,275.5 103.2,275.5 103.7,275.5 104.2,275.5 104.7,275.5 105.2,275.5 105.7,275.5 106.2,275.5 106.7,275.5 107.2,275.5 107.7,275.5 108.2,275.5 108.7,275.5 109.2,275.5 109.7,275.5 110.2,275.5 110.7,275.5 111.2,275.5 111.7,275.5 112.2,275.5 112.7,275.5 113.2,275.5 113.7,275.5 114.2,275.5 114.7,275.5 115.2,275.5 115.7,275.5 116.2,275.5 116.7,275.5 117.2,275.5 117.7,275.5 118.2,275.5 118.7,275.5 119.2,275.5 119.7,275.5 120.2,275.5 120.7,275.5 121.2,275.5 121.7,275.5 122.2,275.5 122.7,275.5 123.2,275.5 123.7,275.5 124.2,275.5 124.7,275.5 125.2,275.5 125.7,275.5 126.2,275.5 126.7,275.5 127.2,275.5 127.7,275.5 128.2,275.5 128.7,275.5 129.2,275.5 129.7,275.5 130.2,275.5 130.7,275.5 131.2,275.5 131.7,275.5 132.2,275.5 132.7,275.5" fill="none" stroke="#7d4fb4" stroke-width="0.75" stroke-linejoin="round"/>
<rect x="46" y="210.6" width="87.6" height="64.9" fill="none" stroke="#1a1a1a" stroke-width="1.15"/>
<line x1="42.8" y1="275.5" x2="46" y2="275.5" stroke="#231f20" stroke-width="0.9"/>
<text x="39.1" y="277.8" font-size="6.65" text-anchor="end" fill="#231f20" font-weight="normal">0</text>
<line x1="42.8" y1="259.27" x2="46" y2="259.27" stroke="#231f20" stroke-width="0.9"/>
<text x="39.1" y="261.57" font-size="6.65" text-anchor="end" fill="#231f20" font-weight="normal">100</text>
<line x1="42.8" y1="243.05" x2="46" y2="243.05" stroke="#231f20" stroke-width="0.9"/>
<text x="39.1" y="245.35" font-size="6.65" text-anchor="end" fill="#231f20" font-weight="normal">200</text>
<line x1="42.8" y1="226.82" x2="46" y2="226.82" stroke="#231f20" stroke-width="0.9"/>
<text x="39.1" y="229.12" font-size="6.65" text-anchor="end" fill="#231f20" font-weight="normal">300</text>
<line x1="42.8" y1="210.6" x2="46" y2="210.6" stroke="#231f20" stroke-width="0.9"/>
<text x="39.1" y="212.9" font-size="6.65" text-anchor="end" fill="#231f20" font-weight="normal">400</text>
<line x1="46.02" y1="275.5" x2="46.02" y2="277.9" stroke="#111" stroke-width="0.75"/>
<line x1="50.08" y1="275.5" x2="50.08" y2="277.9" stroke="#111" stroke-width="0.75"/>
<line x1="52.96" y1="275.5" x2="52.96" y2="277.9" stroke="#111" stroke-width="0.75"/>
<line x1="55.2" y1="275.5" x2="55.2" y2="277.9" stroke="#111" stroke-width="0.75"/>
<line x1="57.02" y1="275.5" x2="57.02" y2="277.9" stroke="#111" stroke-width="0.75"/>
<line x1="58.57" y1="275.5" x2="58.57" y2="277.9" stroke="#111" stroke-width="0.75"/>
<line x1="59.9" y1="275.5" x2="59.9" y2="277.9" stroke="#111" stroke-width="0.75"/>
<line x1="61.08" y1="275.5" x2="61.08" y2="277.9" stroke="#111" stroke-width="0.75"/>
<line x1="62.14" y1="275.5" x2="62.14" y2="277.9" stroke="#111" stroke-width="0.75"/>
<line x1="69.08" y1="275.5" x2="69.08" y2="277.9" stroke="#111" stroke-width="0.75"/>
<line x1="73.14" y1="275.5" x2="73.14" y2="277.9" stroke="#111" stroke-width="0.75"/>
<line x1="76.02" y1="275.5" x2="76.02" y2="277.9" stroke="#111" stroke-width="0.75"/>
<line x1="78.25" y1="275.5" x2="78.25" y2="277.9" stroke="#111" stroke-width="0.75"/>
<line x1="80.08" y1="275.5" x2="80.08" y2="277.9" stroke="#111" stroke-width="0.75"/>
<line x1="81.62" y1="275.5" x2="81.62" y2="277.9" stroke="#111" stroke-width="0.75"/>
<line x1="82.96" y1="275.5" x2="82.96" y2="277.9" stroke="#111" stroke-width="0.75"/>
<line x1="84.13" y1="275.5" x2="84.13" y2="277.9" stroke="#111" stroke-width="0.75"/>
<line x1="85.19" y1="275.5" x2="85.19" y2="277.9" stroke="#111" stroke-width="0.75"/>
<line x1="92.13" y1="275.5" x2="92.13" y2="277.9" stroke="#111" stroke-width="0.75"/>
<line x1="96.19" y1="275.5" x2="96.19" y2="277.9" stroke="#111" stroke-width="0.75"/>
<line x1="99.07" y1="275.5" x2="99.07" y2="277.9" stroke="#111" stroke-width="0.75"/>
<line x1="101.3" y1="275.5" x2="101.3" y2="277.9" stroke="#111" stroke-width="0.75"/>
<line x1="103.13" y1="275.5" x2="103.13" y2="277.9" stroke="#111" stroke-width="0.75"/>
<line x1="104.67" y1="275.5" x2="104.67" y2="277.9" stroke="#111" stroke-width="0.75"/>
<line x1="106.01" y1="275.5" x2="106.01" y2="277.9" stroke="#111" stroke-width="0.75"/>
<line x1="107.19" y1="275.5" x2="107.19" y2="277.9" stroke="#111" stroke-width="0.75"/>
<line x1="108.24" y1="275.5" x2="108.24" y2="277.9" stroke="#111" stroke-width="0.75"/>
<line x1="115.18" y1="275.5" x2="115.18" y2="277.9" stroke="#111" stroke-width="0.75"/>
<line x1="119.24" y1="275.5" x2="119.24" y2="277.9" stroke="#111" stroke-width="0.75"/>
<line x1="122.12" y1="275.5" x2="122.12" y2="277.9" stroke="#111" stroke-width="0.75"/>
<line x1="124.36" y1="275.5" x2="124.36" y2="277.9" stroke="#111" stroke-width="0.75"/>
<line x1="126.18" y1="275.5" x2="126.18" y2="277.9" stroke="#111" stroke-width="0.75"/>
<line x1="127.72" y1="275.5" x2="127.72" y2="277.9" stroke="#111" stroke-width="0.75"/>
<line x1="129.06" y1="275.5" x2="129.06" y2="277.9" stroke="#111" stroke-width="0.75"/>
<line x1="130.24" y1="275.5" x2="130.24" y2="277.9" stroke="#111" stroke-width="0.75"/>
<line x1="131.29" y1="275.5" x2="131.29" y2="277.9" stroke="#111" stroke-width="0.75"/>
<text x="39.8" y="287.8" font-size="6.3" fill="#231f20">10<tspan font-size="4.3" dy="-2.4">1.5</tspan></text>
<text x="58.2" y="287.8" font-size="6.3" fill="#231f20">10<tspan font-size="4.3" dy="-2.4">2</tspan></text>
<text x="81.3" y="287.8" font-size="6.3" fill="#231f20">10<tspan font-size="4.3" dy="-2.4">3</tspan></text>
<text x="104.3" y="287.8" font-size="6.3" fill="#231f20">10<tspan font-size="4.3" dy="-2.4">4</tspan></text>
<text x="127.3" y="287.8" font-size="6.3" fill="#231f20">10<tspan font-size="4.3" dy="-2.4">5</tspan></text>
<text x="131.3" y="218.2" font-size="6.3" text-anchor="end" fill="#231f20" font-weight="normal">PAC-1</text>
<text x="0" y="0" font-size="8.4" text-anchor="middle" fill="#231f20" font-weight="normal" transform="translate(89.8 299.2) scale(0.68 1)" stroke="#231f20" stroke-width="0.22">Fluorescence</text>
<text x="0" y="0" font-size="8.2" text-anchor="middle" fill="#231f20" font-weight="normal" transform="translate(22.8 243.05) rotate(-90) scale(0.72 1)" stroke="#231f20" stroke-width="0.22">Cell count</text>
<line x1="191.6" y1="274.53" x2="191.6" y2="273.82" stroke="#231f20" stroke-width="0.9"/>
<line x1="189.4" y1="273.82" x2="193.8" y2="273.82" stroke="#231f20" stroke-width="0.9"/>
<rect x="186.8" y="274.53" width="9.6" height="1.07" fill="#1c1c1c"/>
<line x1="206.4" y1="217.39" x2="206.4" y2="213.65" stroke="#231f20" stroke-width="0.9"/>
<line x1="204.2" y1="213.65" x2="208.6" y2="213.65" stroke="#231f20" stroke-width="0.9"/>
<rect x="201.6" y="217.39" width="9.6" height="58.21" fill="#2e2a87"/>
<rect x="216.3" y="275.33" width="9.6" height="0.27" fill="#7f2d8f"/>
<line x1="236" y1="247.16" x2="236" y2="235.61" stroke="#231f20" stroke-width="0.9"/>
<line x1="233.8" y1="235.61" x2="238.2" y2="235.61" stroke="#231f20" stroke-width="0.9"/>
<rect x="231.2" y="247.16" width="9.6" height="28.44" fill="#55b33b"/>
<line x1="183.3" y1="276.05" x2="183.3" y2="202.3" stroke="#231f20" stroke-width="1"/>
<line x1="182.8" y1="275.6" x2="243.8" y2="275.6" stroke="#231f20" stroke-width="1"/>
<line x1="180.7" y1="275.6" x2="183.3" y2="275.6" stroke="#231f20" stroke-width="0.9"/>
<text x="177.3" y="277.9" font-size="6.65" text-anchor="end" fill="#231f20" font-weight="normal">0</text>
<line x1="180.7" y1="257.83" x2="183.3" y2="257.83" stroke="#231f20" stroke-width="0.9"/>
<text x="177.3" y="260.13" font-size="6.65" text-anchor="end" fill="#231f20" font-weight="normal">2000</text>
<line x1="180.7" y1="240.05" x2="183.3" y2="240.05" stroke="#231f20" stroke-width="0.9"/>
<text x="177.3" y="242.35" font-size="6.65" text-anchor="end" fill="#231f20" font-weight="normal">4000</text>
<line x1="180.7" y1="222.28" x2="183.3" y2="222.28" stroke="#231f20" stroke-width="0.9"/>
<text x="177.3" y="224.58" font-size="6.65" text-anchor="end" fill="#231f20" font-weight="normal">6000</text>
<line x1="180.7" y1="204.5" x2="183.3" y2="204.5" stroke="#231f20" stroke-width="0.9"/>
<text x="177.3" y="206.8" font-size="6.65" text-anchor="end" fill="#231f20" font-weight="normal">8000</text>
<line x1="191.6" y1="275.6" x2="191.6" y2="277.8" stroke="#231f20" stroke-width="0.8"/>
<line x1="206.4" y1="275.6" x2="206.4" y2="277.8" stroke="#231f20" stroke-width="0.8"/>
<line x1="221.1" y1="275.6" x2="221.1" y2="277.8" stroke="#231f20" stroke-width="0.8"/>
<line x1="236" y1="275.6" x2="236" y2="277.8" stroke="#231f20" stroke-width="0.8"/>
<line x1="206.3" y1="199.5" x2="236.3" y2="199.5" stroke="#231f20" stroke-width="0.9"/>
<text x="221.3" y="200.1" font-size="6.6" text-anchor="middle" fill="#231f20" font-weight="normal">**</text>
<line x1="206.3" y1="211.3" x2="220" y2="211.3" stroke="#231f20" stroke-width="0.9"/>
<text x="213.15" y="211.9" font-size="6.6" text-anchor="middle" fill="#231f20" font-weight="normal">****</text>
<line x1="222.5" y1="233.3" x2="237.5" y2="233.3" stroke="#231f20" stroke-width="0.9"/>
<text x="230" y="233.9" font-size="6.6" text-anchor="middle" fill="#231f20" font-weight="normal">**</text>
<text x="183.8" y="190.2" font-size="6.5" text-anchor="start" fill="#231f20" font-weight="normal">n = 3</text>
<text x="0" y="0" font-size="8.1" text-anchor="middle" fill="#231f20" font-weight="normal" transform="translate(157.5 237.5) rotate(-90) scale(0.75 1)" stroke="#231f20" stroke-width="0.22">MFI</text>
<text x="0" y="0" font-size="6.3" text-anchor="end" fill="#231f20" font-weight="normal" transform="translate(190.9 284.1) rotate(-45)">NA</text>
<text x="0" y="0" font-size="6.3" text-anchor="end" fill="#231f20" font-weight="normal" transform="translate(205.7 284.1) rotate(-45)">Ctrl</text>
<text x="0" y="0" font-size="6.3" text-anchor="end" fill="#231f20" font-weight="normal" transform="translate(220.4 284.1) rotate(-45)">7E3</text>
<text x="0" y="0" font-size="6.3" text-anchor="end" fill="#231f20" font-weight="normal" transform="translate(235.3 284.1) rotate(-45)">mAb</text>
<line x1="198.8" y1="298.4" x2="240" y2="298.4" stroke="#231f20" stroke-width="0.9"/>
<text x="219.4" y="307.6" font-size="6.3" text-anchor="middle" fill="#231f20" font-weight="normal">+T6</text>
<text x="269.3" y="176.3" font-size="10.6" text-anchor="start" fill="#000" font-weight="bold">D</text>
<line x1="308.3" y1="169.4" x2="317.3" y2="169.4" stroke="#1a1a1a" stroke-width="1.3"/>
<text x="320.9" y="171.7" font-size="6.3" text-anchor="start" fill="#1a1a1a" font-weight="normal">NA</text>
<line x1="308.3" y1="179.65" x2="317.3" y2="179.65" stroke="#3a38a6" stroke-width="1.3"/>
<text x="320.9" y="181.95" font-size="6.3" text-anchor="start" fill="#3a38a6" font-weight="normal">T6</text>
<line x1="308.3" y1="189.9" x2="317.3" y2="189.9" stroke="#8a3b9c" stroke-width="1.3"/>
<text x="320.9" y="192.2" font-size="6.3" text-anchor="start" fill="#8a3b9c" font-weight="normal">T6 + 7E3</text>
<line x1="308.3" y1="200.15" x2="317.3" y2="200.15" stroke="#62b446" stroke-width="1.3"/>
<text x="320.9" y="202.45" font-size="6.3" text-anchor="start" fill="#62b446" font-weight="normal">T6 + R21D10 (mAb)</text>
<polyline points="308.8,275.5 309.3,275.4 309.8,275.31 310.3,275.16 310.8,275.1 311.3,274.95 311.8,274.89 312.3,274.76 312.8,274.63 313.3,274.46 313.8,274.39 314.3,274.27 314.8,274.06 315.3,274.16 315.8,274.01 316.3,273.85 316.8,273.99 317.3,273.43 317.8,273.46 318.3,273.25 318.8,273.41 319.3,272.93 319.8,273.23 320.3,273.31 320.8,273.3 321.3,273.75 321.8,274.02 322.3,274.02 322.8,273.8 323.3,274.05 323.8,274.22 324.3,273.97 324.8,274.39 325.3,274.46 325.8,274.48 326.3,274.36 326.8,274.51 327.3,274.74 327.8,274.58 328.3,274.77 328.8,274.72 329.3,274.76 329.8,274.87 330.3,274.82 330.8,274.94 331.3,274.95 331.8,274.9 332.3,274.96 332.8,275.03 333.3,274.91 333.8,274.91 334.3,274.97 334.8,274.94 335.3,275.04 335.8,275.02 336.3,275.02 336.8,275.12 337.3,274.93 337.8,274.95 338.3,274.85 338.8,275.01 339.3,274.88 339.8,274.84 340.3,274.94 340.8,274.76 341.3,274.74 341.8,274.7 342.3,274.54 342.8,274.49 343.3,274.15 343.8,273.67 344.3,273.41 344.8,273.04 345.3,273.13 345.8,272.8 346.3,273.01 346.8,272.61 347.3,272.77 347.8,272.67 348.3,272.33 348.8,272.96 349.3,272.23 349.8,272.15 350.3,271.43 350.8,272.17 351.3,270.96 351.8,270.53 352.3,269.78 352.8,270 353.3,268.93 353.8,268.21 354.3,266.58 354.8,266.73 355.3,264.98 355.8,264.73 356.3,264.12 356.8,263.71 357.3,262.03 357.8,261.22 358.3,262.08 358.8,262.13 359.3,260.98 359.8,260.74 360.3,260.9 360.8,258.91 361.3,258.54 361.8,256.69 362.3,256.46 362.8,255.14 363.3,254.54 363.8,255.47 364.3,254.69 364.8,253.95 365.3,252.76 365.8,250.36 366.3,250.99 366.8,250.53 367.3,250.1 367.8,244.74 368.3,246.51 368.8,245.38 369.3,245.2 369.8,242.28 370.3,243.98 370.8,243.71 371.3,245.49 371.8,244.73 372.3,240.55 372.8,238.76 373.3,243.77 373.8,239.01 374.3,239.29 374.8,232.8 375.3,242.08 375.8,242 376.3,244.14 376.8,241.55 377.3,242.65 377.8,246.13 378.3,244.32 378.8,244.43 379.3,250.29 379.8,249.55 380.3,252.34 380.8,254.44 381.3,255.32 381.8,255.85 382.3,258.66 382.8,258.31 383.3,259.17 383.8,261.41 384.3,261.99 384.8,263.37 385.3,263.36 385.8,265.12 386.3,265.63 386.8,267.17 387.3,268.05 387.8,268.04 388.3,269.07 388.8,269.64 389.3,270.21 389.8,272.33 390.3,272.25 390.8,272.71 391.3,273.16 391.8,273.54 392.3,273.62 392.8,273.86 393.3,274.22 393.8,274.5 394.3,274.86 394.8,275.33" fill="none" stroke="#86c672" stroke-width="0.75" stroke-linejoin="round"/>
<polyline points="308.8,275.5 309.3,275.4 309.8,275.24 310.3,275.09 310.8,274.99 311.3,274.87 311.8,274.76 312.3,274.7 312.8,274.5 313.3,274.4 313.8,274.2 314.3,273.95 314.8,274 315.3,273.73 315.8,274.04 316.3,273.6 316.8,273.31 317.3,273.12 317.8,272.67 318.3,273.05 318.8,272.73 319.3,273.05 319.8,272.92 320.3,272.9 320.8,273.15 321.3,273.27 321.8,273.32 322.3,273.64 322.8,273.46 323.3,273.79 323.8,273.87 324.3,274.18 324.8,274.08 325.3,274.34 325.8,274.36 326.3,274.51 326.8,274.61 327.3,274.56 327.8,274.63 328.3,274.81 328.8,274.74 329.3,274.7 329.8,274.84 330.3,274.75 330.8,274.88 331.3,274.85 331.8,274.95 332.3,274.93 332.8,275.06 333.3,274.94 333.8,275.02 334.3,275.01 334.8,275.1 335.3,275.01 335.8,275 336.3,275.01 336.8,274.98 337.3,274.98 337.8,274.97 338.3,274.92 338.8,274.81 339.3,274.93 339.8,274.92 340.3,274.82 340.8,274.95 341.3,274.96 341.8,274.79 342.3,274.65 342.8,274.41 343.3,274.09 343.8,274.28 344.3,273.04 344.8,273.34 345.3,273.24 345.8,272.78 346.3,272.87 346.8,273.06 347.3,272.66 347.8,272.14 348.3,272.67 348.8,272.66 349.3,272.56 349.8,272.97 350.3,271.78 350.8,271.5 351.3,271.11 351.8,270.33 352.3,270.1 352.8,268.93 353.3,268.42 353.8,266.78 354.3,267.45 354.8,266.11 355.3,265.64 355.8,265.45 356.3,264.94 356.8,263.4 357.3,262.7 357.8,262.86 358.3,261.65 358.8,263 359.3,258.64 359.8,259.06 360.3,259.35 360.8,257.56 361.3,258 361.8,258.02 362.3,257.61 362.8,256.83 363.3,255.9 363.8,252.34 364.3,254.59 364.8,250.7 365.3,251.47 365.8,248 366.3,251.71 366.8,251.7 367.3,250.34 367.8,253.28 368.3,246.39 368.8,246.06 369.3,246.02 369.8,245.08 370.3,242.49 370.8,246.53 371.3,242.65 371.8,242.22 372.3,240.54 372.8,238.57 373.3,240.33 373.8,244.19 374.3,240.31 374.8,242.16 375.3,241.3 375.8,244.44 376.3,243.26 376.8,243.26 377.3,244.37 377.8,243.04 378.3,240.66 378.8,246.32 379.3,249.1 379.8,248.52 380.3,246.87 380.8,249.78 381.3,248.88 381.8,252.01 382.3,252.09 382.8,255.9 383.3,254.33 383.8,257.02 384.3,257.56 384.8,258.06 385.3,263.41 385.8,260.6 386.3,261.11 386.8,264.89 387.3,265.7 387.8,266.61 388.3,266.8 388.8,268.63 389.3,269.98 389.8,270.49 390.3,271.59 390.8,272.06 391.3,272.59 391.8,273.34 392.3,273.16 392.8,273.92 393.3,273.89 393.8,274.52 394.3,274.8 394.8,275.02" fill="none" stroke="#5a5aa8" stroke-width="0.75" stroke-linejoin="round"/>
<polyline points="308.8,275.5 309.3,275.37 309.8,275.28 310.3,275.12 310.8,275.01 311.3,274.92 311.8,274.6 312.3,274.65 312.8,274.58 313.3,274.44 313.8,274.31 314.3,273.95 314.8,273.87 315.3,273.47 315.8,274 316.3,273.16 316.8,273.3 317.3,273.23 317.8,272.87 318.3,272.8 318.8,272.17 319.3,272.36 319.8,272.84 320.3,272.96 320.8,273.1 321.3,273.31 321.8,273.47 322.3,273.31 322.8,273.65 323.3,274.07 323.8,273.74 324.3,274.06 324.8,274.17 325.3,274.26 325.8,274.36 326.3,274.43 326.8,274.61 327.3,274.59 327.8,274.69 328.3,274.61 328.8,274.66 329.3,274.85 329.8,274.88 330.3,274.85 330.8,274.85 331.3,274.94 331.8,274.83 332.3,274.97 332.8,274.97 333.3,275 333.8,274.99 334.3,275.01 334.8,274.99 335.3,275.06 335.8,274.99 336.3,274.94 336.8,275.04 337.3,274.96 337.8,274.95 338.3,274.93 338.8,274.94 339.3,274.91 339.8,274.85 340.3,274.74 340.8,274.82 341.3,274.86 341.8,274.77 342.3,274.57 342.8,274.38 343.3,273.86 343.8,273.84 344.3,273.48 344.8,273.33 345.3,273.25 345.8,272.84 346.3,272.77 346.8,273.07 347.3,273.12 347.8,272.78 348.3,272.47 348.8,272.1 349.3,272.03 349.8,272.31 350.3,271.92 350.8,271.68 351.3,271.38 351.8,270.96 352.3,270.26 352.8,268.96 353.3,268.52 353.8,267.56 354.3,266.57 354.8,265.95 355.3,266.25 355.8,264.86 356.3,264.85 356.8,263.44 357.3,262.95 357.8,262.58 358.3,261.5 358.8,261.71 359.3,261.05 359.8,260.05 360.3,259.05 360.8,258.7 361.3,257.03 361.8,258.26 362.3,254.65 362.8,255.06 363.3,253.89 363.8,255.39 364.3,253.39 364.8,252.25 365.3,249.73 365.8,250.56 366.3,248.05 366.8,249.51 367.3,245.49 367.8,247.18 368.3,247.43 368.8,246.95 369.3,241.58 369.8,240.87 370.3,238.96 370.8,238.58 371.3,236.32 371.8,232.6 372.3,235.23 372.8,233.13 373.3,232.67 373.8,234.59 374.3,230.68 374.8,226.71 375.3,232.43 375.8,228.24 376.3,234.4 376.8,237.33 377.3,239.15 377.8,243.16 378.3,244.95 378.8,244.56 379.3,249.13 379.8,250.32 380.3,253.21 380.8,252.76 381.3,251.27 381.8,255.07 382.3,258.58 382.8,260.29 383.3,260.12 383.8,260.89 384.3,262.88 384.8,262.56 385.3,264.35 385.8,265.83 386.3,265.92 386.8,267.05 387.3,269.11 387.8,269.83 388.3,269.37 388.8,270.89 389.3,271.18 389.8,271.82 390.3,272.59 390.8,272.17 391.3,272.25 391.8,273.19 392.3,273.47 392.8,273.99 393.3,274.18 393.8,274.6 394.3,274.87 394.8,275.3" fill="none" stroke="#7d4fb4" stroke-width="0.75" stroke-linejoin="round"/>
<polyline points="308.8,268 309.3,267.7 309.8,266.9 310.3,267.48 310.8,264.7 311.3,263.98 311.8,262.07 312.3,261.18 312.8,258.62 313.3,260.46 313.8,253.26 314.3,251.46 314.8,253.67 315.3,248.05 315.8,245.4 316.3,250.85 316.8,240.07 317.3,241.83 317.8,237.6 318.3,237.49 318.8,234.69 319.3,230.77 319.8,229.09 320.3,237.05 320.8,229.69 321.3,235.36 321.8,234.7 322.3,231.46 322.8,226.92 323.3,229.66 323.8,237.57 324.3,240.36 324.8,243.92 325.3,242.5 325.8,243.55 326.3,249.59 326.8,250.4 327.3,254.87 327.8,254.78 328.3,263.36 328.8,265.5 329.3,263.64 329.8,263.98 330.3,265.88 330.8,265.88 331.3,268.11 331.8,268.18 332.3,268.23 332.8,267.13 333.3,267.37 333.8,268.66 334.3,268.27 334.8,269.49 335.3,268.5 335.8,269.54 336.3,268.28 336.8,268.97 337.3,267.85 337.8,268.38 338.3,268.49 338.8,267.48 339.3,268.29 339.8,267.4 340.3,268 340.8,267.61 341.3,268.69 341.8,267.77 342.3,267.72 342.8,269.36 343.3,268.13 343.8,268.29 344.3,269.75 344.8,271.11 345.3,271.6 345.8,271.15 346.3,270.21 346.8,271.33 347.3,271.7 347.8,271.88 348.3,271.97 348.8,271.95 349.3,272.3 349.8,272.11 350.3,272.27 350.8,272.17 351.3,272.15 351.8,272.34 352.3,272.83 352.8,272.09 353.3,272.84 353.8,273.04 354.3,272.52 354.8,272.39 355.3,272.47 355.8,272.37 356.3,272.34 356.8,272.48 357.3,272.32 357.8,272.85 358.3,273.43 358.8,272.32 359.3,272.78 359.8,272.86 360.3,272.78 360.8,273.18 361.3,273.53 361.8,272.6 362.3,272.79 362.8,272.78 363.3,272.96 363.8,273 364.3,273.07 364.8,273.28 365.3,273.5 365.8,273.67 366.3,273.54 366.8,273.09 367.3,273.93 367.8,273.65 368.3,273.66 368.8,274.05 369.3,273.55 369.8,273.95 370.3,273.94 370.8,274.22 371.3,274.25 371.8,273.6 372.3,273.84 372.8,273.76 373.3,274.39 373.8,274.15 374.3,274.29 374.8,274.39 375.3,274.37 375.8,274.22 376.3,274.42 376.8,274.63 377.3,274.66 377.8,274.45 378.3,274.64 378.8,274.66 379.3,274.53 379.8,274.61 380.3,274.62 380.8,274.73 381.3,274.48 381.8,274.93 382.3,274.73 382.8,274.73 383.3,274.88 383.8,274.92 384.3,274.82 384.8,274.99 385.3,275.02 385.8,274.98 386.3,275.19 386.8,275.17 387.3,275.22 387.8,275.26 388.3,275.29 388.8,275.35 389.3,275.36 389.8,275.42 390.3,275.44 390.8,275.47 391.3,275.49 391.8,275.5 392.3,275.5 392.8,275.5 393.3,275.5 393.8,275.5 394.3,275.5 394.8,275.5" fill="none" stroke="#1a1a1a" stroke-width="0.75" stroke-linejoin="round"/>
<rect x="308.4" y="210.6" width="87" height="64.9" fill="none" stroke="#1a1a1a" stroke-width="1.15"/>
<line x1="305.2" y1="275.5" x2="308.4" y2="275.5" stroke="#231f20" stroke-width="0.9"/>
<text x="301.5" y="277.8" font-size="6.65" text-anchor="end" fill="#231f20" font-weight="normal">0</text>
<line x1="305.2" y1="259.27" x2="308.4" y2="259.27" stroke="#231f20" stroke-width="0.9"/>
<text x="301.5" y="261.57" font-size="6.65" text-anchor="end" fill="#231f20" font-weight="normal">100</text>
<line x1="305.2" y1="243.05" x2="308.4" y2="243.05" stroke="#231f20" stroke-width="0.9"/>
<text x="301.5" y="245.35" font-size="6.65" text-anchor="end" fill="#231f20" font-weight="normal">200</text>
<line x1="305.2" y1="226.82" x2="308.4" y2="226.82" stroke="#231f20" stroke-width="0.9"/>
<text x="301.5" y="229.12" font-size="6.65" text-anchor="end" fill="#231f20" font-weight="normal">300</text>
<line x1="305.2" y1="210.6" x2="308.4" y2="210.6" stroke="#231f20" stroke-width="0.9"/>
<text x="301.5" y="212.9" font-size="6.65" text-anchor="end" fill="#231f20" font-weight="normal">400</text>
<line x1="310.19" y1="275.5" x2="310.19" y2="277.9" stroke="#111" stroke-width="0.75"/>
<line x1="311.72" y1="275.5" x2="311.72" y2="277.9" stroke="#111" stroke-width="0.75"/>
<line x1="313.05" y1="275.5" x2="313.05" y2="277.9" stroke="#111" stroke-width="0.75"/>
<line x1="314.22" y1="275.5" x2="314.22" y2="277.9" stroke="#111" stroke-width="0.75"/>
<line x1="315.27" y1="275.5" x2="315.27" y2="277.9" stroke="#111" stroke-width="0.75"/>
<line x1="322.16" y1="275.5" x2="322.16" y2="277.9" stroke="#111" stroke-width="0.75"/>
<line x1="326.19" y1="275.5" x2="326.19" y2="277.9" stroke="#111" stroke-width="0.75"/>
<line x1="329.05" y1="275.5" x2="329.05" y2="277.9" stroke="#111" stroke-width="0.75"/>
<line x1="331.27" y1="275.5" x2="331.27" y2="277.9" stroke="#111" stroke-width="0.75"/>
<line x1="333.08" y1="275.5" x2="333.08" y2="277.9" stroke="#111" stroke-width="0.75"/>
<line x1="334.62" y1="275.5" x2="334.62" y2="277.9" stroke="#111" stroke-width="0.75"/>
<line x1="335.94" y1="275.5" x2="335.94" y2="277.9" stroke="#111" stroke-width="0.75"/>
<line x1="337.12" y1="275.5" x2="337.12" y2="277.9" stroke="#111" stroke-width="0.75"/>
<line x1="338.16" y1="275.5" x2="338.16" y2="277.9" stroke="#111" stroke-width="0.75"/>
<line x1="345.06" y1="275.5" x2="345.06" y2="277.9" stroke="#111" stroke-width="0.75"/>
<line x1="349.09" y1="275.5" x2="349.09" y2="277.9" stroke="#111" stroke-width="0.75"/>
<line x1="351.95" y1="275.5" x2="351.95" y2="277.9" stroke="#111" stroke-width="0.75"/>
<line x1="354.17" y1="275.5" x2="354.17" y2="277.9" stroke="#111" stroke-width="0.75"/>
<line x1="355.98" y1="275.5" x2="355.98" y2="277.9" stroke="#111" stroke-width="0.75"/>
<line x1="357.51" y1="275.5" x2="357.51" y2="277.9" stroke="#111" stroke-width="0.75"/>
<line x1="358.84" y1="275.5" x2="358.84" y2="277.9" stroke="#111" stroke-width="0.75"/>
<line x1="360.01" y1="275.5" x2="360.01" y2="277.9" stroke="#111" stroke-width="0.75"/>
<line x1="361.06" y1="275.5" x2="361.06" y2="277.9" stroke="#111" stroke-width="0.75"/>
<line x1="367.95" y1="275.5" x2="367.95" y2="277.9" stroke="#111" stroke-width="0.75"/>
<line x1="371.98" y1="275.5" x2="371.98" y2="277.9" stroke="#111" stroke-width="0.75"/>
<line x1="374.84" y1="275.5" x2="374.84" y2="277.9" stroke="#111" stroke-width="0.75"/>
<line x1="377.06" y1="275.5" x2="377.06" y2="277.9" stroke="#111" stroke-width="0.75"/>
<line x1="378.87" y1="275.5" x2="378.87" y2="277.9" stroke="#111" stroke-width="0.75"/>
<line x1="380.41" y1="275.5" x2="380.41" y2="277.9" stroke="#111" stroke-width="0.75"/>
<line x1="381.73" y1="275.5" x2="381.73" y2="277.9" stroke="#111" stroke-width="0.75"/>
<line x1="382.91" y1="275.5" x2="382.91" y2="277.9" stroke="#111" stroke-width="0.75"/>
<line x1="383.95" y1="275.5" x2="383.95" y2="277.9" stroke="#111" stroke-width="0.75"/>
<line x1="390.84" y1="275.5" x2="390.84" y2="277.9" stroke="#111" stroke-width="0.75"/>
<line x1="394.88" y1="275.5" x2="394.88" y2="277.9" stroke="#111" stroke-width="0.75"/>
<text x="300.8" y="287.8" font-size="6.3" fill="#231f20">10<tspan font-size="4.3" dy="-2.4">1.7</tspan></text>
<text x="334.5" y="287.8" font-size="6.3" fill="#231f20">10<tspan font-size="4.3" dy="-2.4">3</tspan></text>
<text x="357.5" y="287.8" font-size="6.3" fill="#231f20">10<tspan font-size="4.3" dy="-2.4">4</tspan></text>
<text x="380.5" y="287.8" font-size="6.3" fill="#231f20">10<tspan font-size="4.3" dy="-2.4">5</tspan></text>
<text x="394.5" y="287.8" font-size="6.3" fill="#231f20">10<tspan font-size="4.3" dy="-2.4">5.5</tspan></text>
<text x="391" y="218.2" font-size="6.3" text-anchor="end" fill="#231f20" font-weight="normal">P-selectin</text>
<text x="0" y="0" font-size="8.4" text-anchor="middle" fill="#231f20" font-weight="normal" transform="translate(351.9 299.2) scale(0.68 1)" stroke="#231f20" stroke-width="0.22">Fluorescence</text>
<text x="0" y="0" font-size="8.2" text-anchor="middle" fill="#231f20" font-weight="normal" transform="translate(285.6 243.05) rotate(-90) scale(0.72 1)" stroke="#231f20" stroke-width="0.22">Cell count</text>
<line x1="460.9" y1="273.04" x2="460.9" y2="271.76" stroke="#231f20" stroke-width="0.9"/>
<line x1="458.7" y1="271.76" x2="463.1" y2="271.76" stroke="#231f20" stroke-width="0.9"/>
<rect x="456.1" y="273.04" width="9.6" height="2.56" fill="#1c1c1c"/>
<line x1="475.6" y1="224.69" x2="475.6" y2="214.03" stroke="#231f20" stroke-width="0.9"/>
<line x1="473.4" y1="214.03" x2="477.8" y2="214.03" stroke="#231f20" stroke-width="0.9"/>
<rect x="470.8" y="224.69" width="9.6" height="50.91" fill="#2e2a87"/>
<line x1="490.3" y1="225.83" x2="490.3" y2="214.74" stroke="#231f20" stroke-width="0.9"/>
<line x1="488.1" y1="214.74" x2="492.5" y2="214.74" stroke="#231f20" stroke-width="0.9"/>
<rect x="485.5" y="225.83" width="9.6" height="49.77" fill="#7f2d8f"/>
<line x1="505" y1="232.51" x2="505" y2="222.28" stroke="#231f20" stroke-width="0.9"/>
<line x1="502.8" y1="222.28" x2="507.2" y2="222.28" stroke="#231f20" stroke-width="0.9"/>
<rect x="500.2" y="232.51" width="9.6" height="43.09" fill="#55b33b"/>
<line x1="453.8" y1="276.05" x2="453.8" y2="202.3" stroke="#231f20" stroke-width="1"/>
<line x1="453.3" y1="275.6" x2="512.5" y2="275.6" stroke="#231f20" stroke-width="1"/>
<line x1="451.2" y1="275.6" x2="453.8" y2="275.6" stroke="#231f20" stroke-width="0.9"/>
<text x="447.8" y="277.9" font-size="6.65" text-anchor="end" fill="#231f20" font-weight="normal">0</text>
<line x1="451.2" y1="261.38" x2="453.8" y2="261.38" stroke="#231f20" stroke-width="0.9"/>
<text x="447.8" y="263.68" font-size="6.65" text-anchor="end" fill="#231f20" font-weight="normal">10000</text>
<line x1="451.2" y1="247.16" x2="453.8" y2="247.16" stroke="#231f20" stroke-width="0.9"/>
<text x="447.8" y="249.46" font-size="6.65" text-anchor="end" fill="#231f20" font-weight="normal">20000</text>
<line x1="451.2" y1="232.94" x2="453.8" y2="232.94" stroke="#231f20" stroke-width="0.9"/>
<text x="447.8" y="235.24" font-size="6.65" text-anchor="end" fill="#231f20" font-weight="normal">30000</text>
<line x1="451.2" y1="218.72" x2="453.8" y2="218.72" stroke="#231f20" stroke-width="0.9"/>
<text x="447.8" y="221.02" font-size="6.65" text-anchor="end" fill="#231f20" font-weight="normal">40000</text>
<line x1="451.2" y1="204.5" x2="453.8" y2="204.5" stroke="#231f20" stroke-width="0.9"/>
<text x="447.8" y="206.8" font-size="6.65" text-anchor="end" fill="#231f20" font-weight="normal">50000</text>
<line x1="460.9" y1="275.6" x2="460.9" y2="277.8" stroke="#231f20" stroke-width="0.8"/>
<line x1="475.6" y1="275.6" x2="475.6" y2="277.8" stroke="#231f20" stroke-width="0.8"/>
<line x1="490.3" y1="275.6" x2="490.3" y2="277.8" stroke="#231f20" stroke-width="0.8"/>
<line x1="505" y1="275.6" x2="505" y2="277.8" stroke="#231f20" stroke-width="0.8"/>
<line x1="476.3" y1="200" x2="506.3" y2="200" stroke="#231f20" stroke-width="0.9"/>
<text x="491.3" y="198.4" font-size="6.2" text-anchor="middle" fill="#231f20" font-weight="normal">ns</text>
<line x1="476.3" y1="211.3" x2="490" y2="211.3" stroke="#231f20" stroke-width="0.9"/>
<text x="483.15" y="209.7" font-size="6.2" text-anchor="middle" fill="#231f20" font-weight="normal">ns</text>
<text x="453.3" y="189.2" font-size="6.5" text-anchor="start" fill="#231f20" font-weight="normal">n = 3</text>
<text x="0" y="0" font-size="8.1" text-anchor="middle" fill="#231f20" font-weight="normal" transform="translate(421.5 237.5) rotate(-90) scale(0.75 1)" stroke="#231f20" stroke-width="0.22">MFI</text>
<text x="0" y="0" font-size="6.3" text-anchor="end" fill="#231f20" font-weight="normal" transform="translate(460.2 284.1) rotate(-45)">NA</text>
<text x="0" y="0" font-size="6.3" text-anchor="end" fill="#231f20" font-weight="normal" transform="translate(474.9 284.1) rotate(-45)">Ctrl</text>
<text x="0" y="0" font-size="6.3" text-anchor="end" fill="#231f20" font-weight="normal" transform="translate(489.6 284.1) rotate(-45)">7E3</text>
<text x="0" y="0" font-size="6.3" text-anchor="end" fill="#231f20" font-weight="normal" transform="translate(504.3 284.1) rotate(-45)">mAb</text>
<line x1="468.3" y1="298.4" x2="510" y2="298.4" stroke="#231f20" stroke-width="0.9"/>
<text x="489.15" y="307.6" font-size="6.3" text-anchor="middle" fill="#231f20" font-weight="normal">+T6</text>
<text x="7.3" y="335.2" font-size="10.6" text-anchor="start" fill="#000" font-weight="bold">E</text>
<line x1="68.66" y1="342.5" x2="68.66" y2="443.75" stroke="#a8a8a8" stroke-width="0.6" stroke-dasharray="1 1.4"/>
<line x1="85.72" y1="342.5" x2="85.72" y2="443.75" stroke="#a8a8a8" stroke-width="0.6" stroke-dasharray="1 1.4"/>
<line x1="102.78" y1="342.5" x2="102.78" y2="443.75" stroke="#a8a8a8" stroke-width="0.6" stroke-dasharray="1 1.4"/>
<line x1="119.83" y1="342.5" x2="119.83" y2="443.75" stroke="#a8a8a8" stroke-width="0.6" stroke-dasharray="1 1.4"/>
<line x1="136.89" y1="342.5" x2="136.89" y2="443.75" stroke="#a8a8a8" stroke-width="0.6" stroke-dasharray="1 1.4"/>
<line x1="153.95" y1="342.5" x2="153.95" y2="443.75" stroke="#a8a8a8" stroke-width="0.6" stroke-dasharray="1 1.4"/>
<line x1="171.01" y1="342.5" x2="171.01" y2="443.75" stroke="#a8a8a8" stroke-width="0.6" stroke-dasharray="1 1.4"/>
<line x1="188.07" y1="342.5" x2="188.07" y2="443.75" stroke="#a8a8a8" stroke-width="0.6" stroke-dasharray="1 1.4"/>
<line x1="205.12" y1="342.5" x2="205.12" y2="443.75" stroke="#a8a8a8" stroke-width="0.6" stroke-dasharray="1 1.4"/>
<line x1="222.18" y1="342.5" x2="222.18" y2="443.75" stroke="#a8a8a8" stroke-width="0.6" stroke-dasharray="1 1.4"/>
<line x1="239.24" y1="342.5" x2="239.24" y2="443.75" stroke="#a8a8a8" stroke-width="0.6" stroke-dasharray="1 1.4"/>
<line x1="256.3" y1="342.5" x2="256.3" y2="443.75" stroke="#a8a8a8" stroke-width="0.6" stroke-dasharray="1 1.4"/>
<line x1="51.6" y1="345.3" x2="256.3" y2="345.3" stroke="#c4c4c4" stroke-width="0.75" stroke-dasharray="2.2 0.5"/>
<line x1="51.6" y1="353.5" x2="256.3" y2="353.5" stroke="#d6b0c0" stroke-width="0.75" stroke-dasharray="2.2 0.5"/>
<line x1="51.6" y1="361.7" x2="256.3" y2="361.7" stroke="#c4c4c4" stroke-width="0.75" stroke-dasharray="2.2 0.5"/>
<line x1="51.6" y1="369.9" x2="256.3" y2="369.9" stroke="#c4c4c4" stroke-width="0.75" stroke-dasharray="2.2 0.5"/>
<line x1="51.6" y1="378.1" x2="256.3" y2="378.1" stroke="#c4c4c4" stroke-width="0.75" stroke-dasharray="2.2 0.5"/>
<line x1="51.6" y1="386.3" x2="256.3" y2="386.3" stroke="#c4c4c4" stroke-width="0.75" stroke-dasharray="2.2 0.5"/>
<line x1="51.6" y1="394.5" x2="256.3" y2="394.5" stroke="#c4c4c4" stroke-width="0.75" stroke-dasharray="2.2 0.5"/>
<line x1="51.6" y1="402.7" x2="256.3" y2="402.7" stroke="#c4c4c4" stroke-width="0.75" stroke-dasharray="2.2 0.5"/>
<line x1="51.6" y1="410.9" x2="256.3" y2="410.9" stroke="#c4c4c4" stroke-width="0.75" stroke-dasharray="2.2 0.5"/>
<line x1="51.6" y1="419.1" x2="256.3" y2="419.1" stroke="#c4c4c4" stroke-width="0.75" stroke-dasharray="2.2 0.5"/>
<line x1="51.6" y1="427.3" x2="256.3" y2="427.3" stroke="#c4c4c4" stroke-width="0.75" stroke-dasharray="2.2 0.5"/>
<line x1="51.6" y1="435.5" x2="256.3" y2="435.5" stroke="#c4c4c4" stroke-width="0.75" stroke-dasharray="2.2 0.5"/>
<line x1="51.6" y1="443.7" x2="256.3" y2="443.7" stroke="#c4c4c4" stroke-width="0.75" stroke-dasharray="2.2 0.5"/>
<text x="0" y="0" font-size="6.6" text-anchor="middle" fill="#151515" font-weight="bold" transform="translate(125.9 356.05) scale(0.78 1)">10</text>
<text x="0" y="0" font-size="6.6" text-anchor="middle" fill="#151515" font-weight="bold" transform="translate(125.9 364.25) scale(0.78 1)">0</text>
<text x="0" y="0" font-size="6.6" text-anchor="middle" fill="#151515" font-weight="bold" transform="translate(125.9 372.45) scale(0.78 1)">10</text>
<text x="0" y="0" font-size="6.6" text-anchor="middle" fill="#151515" font-weight="bold" transform="translate(125.9 380.65) scale(0.78 1)">20</text>
<text x="0" y="0" font-size="6.6" text-anchor="middle" fill="#151515" font-weight="bold" transform="translate(125.9 388.85) scale(0.78 1)">30</text>
<text x="0" y="0" font-size="6.6" text-anchor="middle" fill="#151515" font-weight="bold" transform="translate(125.9 397.05) scale(0.78 1)">40</text>
<text x="0" y="0" font-size="6.6" text-anchor="middle" fill="#151515" font-weight="bold" transform="translate(125.9 405.25) scale(0.78 1)">50</text>
<text x="0" y="0" font-size="6.6" text-anchor="middle" fill="#151515" font-weight="bold" transform="translate(125.9 413.45) scale(0.78 1)">60</text>
<text x="0" y="0" font-size="6.6" text-anchor="middle" fill="#151515" font-weight="bold" transform="translate(125.9 421.65) scale(0.78 1)">70</text>
<text x="0" y="0" font-size="6.6" text-anchor="middle" fill="#151515" font-weight="bold" transform="translate(125.9 429.85) scale(0.78 1)">80</text>
<text x="0" y="0" font-size="6.6" text-anchor="middle" fill="#151515" font-weight="bold" transform="translate(125.9 438.05) scale(0.78 1)">90</text>
<text x="0" y="0" font-size="6.3" text-anchor="middle" fill="#151515" font-weight="bold" transform="translate(229.6 356.65) scale(0.66 1)">-10</text>
<text x="0" y="0" font-size="6.3" text-anchor="middle" fill="#151515" font-weight="bold" transform="translate(229.6 364.85) scale(0.66 1)">0</text>
<text x="0" y="0" font-size="6.3" text-anchor="middle" fill="#151515" font-weight="bold" transform="translate(229.6 373.05) scale(0.66 1)">10</text>
<text x="0" y="0" font-size="6.3" text-anchor="middle" fill="#151515" font-weight="bold" transform="translate(229.6 381.25) scale(0.66 1)">20</text>
<text x="0" y="0" font-size="6.3" text-anchor="middle" fill="#151515" font-weight="bold" transform="translate(229.6 389.45) scale(0.66 1)">30</text>
<text x="0" y="0" font-size="6.3" text-anchor="middle" fill="#151515" font-weight="bold" transform="translate(229.6 397.65) scale(0.66 1)">40</text>
<text x="0" y="0" font-size="6.3" text-anchor="middle" fill="#151515" font-weight="bold" transform="translate(229.6 405.85) scale(0.66 1)">50</text>
<text x="0" y="0" font-size="6.3" text-anchor="middle" fill="#151515" font-weight="bold" transform="translate(229.6 414.05) scale(0.66 1)">60</text>
<text x="0" y="0" font-size="6.3" text-anchor="middle" fill="#151515" font-weight="bold" transform="translate(229.6 422.25) scale(0.66 1)">70</text>
<text x="0" y="0" font-size="6.3" text-anchor="middle" fill="#151515" font-weight="bold" transform="translate(229.6 430.45) scale(0.66 1)">80</text>
<text x="0" y="0" font-size="6.3" text-anchor="middle" fill="#151515" font-weight="bold" transform="translate(229.6 438.65) scale(0.66 1)">90</text>
<polyline points="68.5,361.48 69,361.75 69.5,361.7 70,361.79 70.5,361.46 71,361.9 71.5,361.72 72,361.49 72.5,361.46 73,361.46 73.5,361.57 74,361.91 74.5,361.86 75,361.6 75.5,361.6 76,362.05 76.5,361.86 77,361.56 77.5,361.67 78,361.62 78.5,361.73 79,361.86 79.5,361.65 80,361.77 80.5,361.8 81,361.84 81.5,361.59 82,361.66 82.5,362.06 83,361.67 83.5,361.71 84,361.78 84.5,361.6 85,361.63 85.5,362 86,361.93 86.5,361.5 87,361.71 87.5,361.47 88,361.42 88.5,361.7 89,361.97 89.5,361.69 90,361.96 90.5,361.51 91,361.72 91.5,361.71 92,361.72 92.5,361.88 93,361.8 93.5,361.6 94,361.46 94.5,361.6 95,361.7 95.5,361.6 96,361.43 96.5,361.38 97,361.85 97.5,361.75 98,361.59 98.5,361.9 99,362.21 99.5,362.5 100,362.92 100.5,363.76 101,364.42 101.5,365.37 102,366.22 102.5,367.06 103,367.92 103.5,368.99 104,370.12 104.5,371.49 105,372.76 105.5,374.13 106,375.24 106.5,375.98 107,376.99 107.5,377.62 108,378.58 108.5,379.35 109,380.4 109.5,381.09 110,381.86 110.5,382.8 111,383.27 111.5,384.39 112,385.26 112.5,386.16 113,386.45 113.5,387.27 114,387.63 114.5,388.87 115,389.22 115.5,389.92 116,390.19 116.5,390.97 117,391.4 117.5,391.72 118,392.08 118.5,392.42 119,392.7 119.5,392.79 120,393.58 120.5,393.55 121,393.77 121.5,393.95 122,394.06 122.5,394.25 123,394.52 123.5,394.53 124,394.96 124.5,394.84 125,395.23 125.5,395 126,395.36 126.5,395.56 127,395.81 127.5,395.94 128,395.65 128.5,395.83 129,396.34 129.5,396.11 130,396.02 130.5,396.6 131,396.61 131.5,396.4 132,396.61 132.5,397.04 133,396.83 133.5,396.91 134,397.02 134.5,397.42 135,396.98 135.5,397.42 136,397.46 136.5,397.61 137,397.74 137.5,397.69 138,397.87 138.5,397.93 139,398.18 139.5,397.61 140,398.06 140.5,398.18 141,398 141.5,398.55 142,398.47 142.5,398.16 143,398.48 143.5,398.71 144,398.68 144.5,398.59 145,398.89 145.5,398.9 146,398.75 146.5,398.93 147,399.26 147.5,399.29 148,398.97 148.5,399.08 149,399.49 149.5,399.41 150,399.36 150.5,399.35 151,399.49 151.5,399.67 152,399.15 152.5,399.75 153,399.49 153.5,399.47 154,399.63 154.5,399.59 155,399.65 155.5,399.88 156,399.84 156.5,400.13 157,399.72 157.5,400.17 158,399.86 158.5,400.13 159,400.08 159.5,400.33 160,399.98 160.5,400.25 161,400.54 161.5,400.52 162,400.27 162.5,400.49 163,400.57 163.5,400.5 164,400.65 164.5,400.64 165,400.09 165.5,400.63 166,401.17 166.5,400.5 167,400.54 167.5,400.63 168,400.5 168.5,400.61 169,400.67 169.5,401.07 170,400.69 170.5,400.86 171,400.74 171.5,400.63 172,400.7 172.5,400.64 173,401.1 173.5,400.83 174,400.64 174.5,400.91 175,401.3 175.5,401 176,400.96 176.5,401.04 177,400.94 177.5,400.84 178,401.27 178.5,400.46 179,400.98 179.5,400.93 180,401.07 180.5,400.99 181,401.34 181.5,401.43 182,401.19 182.5,400.95 183,401.06 183.5,401.14 184,401.06 184.5,401.01 185,401.56 185.5,401.43 186,401.1 186.5,401.13 187,401.31 187.5,401.19 188,401.42 188.5,401.47 189,401.35 189.5,401.19 190,401.31 190.5,401.08 191,401.32 191.5,401.72 192,401.31 192.5,401.54 193,401.65 193.5,401.73 194,401.21 194.5,401.43 195,401.37 195.5,401.73 196,401.69 196.5,401.32 197,401.42 197.5,401.6 198,401.92 198.5,401.5 199,401.79 199.5,401.44 200,401.38 200.5,401.76 201,401.49 201.5,401.36 202,401.88 202.5,401.78 203,401.46 203.5,401.86 204,401.79 204.5,401.83 205,401.56 205.5,401.69 206,401.4 206.5,401.41 207,401.95 207.5,401.74 208,401.88 208.5,401.82 209,401.78 209.5,401.8" fill="none" stroke="#3b5c5e" stroke-width="0.9" stroke-linejoin="round"/>
<polyline points="120.8,361.75 121.3,361.79 121.8,362.43 122.3,362.81 122.8,362.66 123.3,363.17 123.8,363.85 124.3,364.21 124.8,364.76 125.3,365.14 125.8,366.01 126.3,366.59 126.8,367.07 127.3,367.89 127.8,368.41 128.3,368.86 128.8,369.83 129.3,370.35 129.8,371.45 130.3,372.03 130.8,372.71 131.3,373.26 131.8,374.22 132.3,374.57 132.8,375.11 133.3,375.7 133.8,376.42 134.3,376.94 134.8,377.48 135.3,378.01 135.8,378.82 136.3,378.85 136.8,379.31 137.3,379.73 137.8,380.44 138.3,380.97 138.8,381.17 139.3,381.44 139.8,381.81 140.3,382.42 140.8,382.77 141.3,383.06 141.8,383.15 142.3,383.62 142.8,383.89 143.3,384.18 143.8,384.57 144.3,384.72 144.8,385.05 145.3,385.19 145.8,385.46 146.3,385.75 146.8,385.6 147.3,386.02 147.8,386.21 148.3,386.39 148.8,386.66 149.3,387.17 149.8,386.94 150.3,387.46 150.8,387.16 151.3,387.58 151.8,387.84 152.3,388.07 152.8,388.25 153.3,388.41 153.8,388.34 154.3,388.45 154.8,388.81 155.3,388.75 155.8,388.68 156.3,388.83 156.8,388.99 157.3,389.37 157.8,389.42 158.3,389.63 158.8,389.54 159.3,389.76 159.8,389.95 160.3,389.89 160.8,390.13 161.3,390.03 161.8,390.18 162.3,390.27 162.8,390.22 163.3,390.61 163.8,390.53 164.3,390.7 164.8,390.86 165.3,390.93 165.8,391.05 166.3,390.98 166.8,390.99 167.3,391.11 167.8,390.89 168.3,390.99 168.8,391.06 169.3,391.17 169.8,391.47 170.3,391.28 170.8,391.42 171.3,391.77 171.8,391.51 172.3,391.75 172.8,391.49 173.3,391.66 173.8,391.56 174.3,391.7 174.8,391.95 175.3,391.52 175.8,391.94 176.3,391.94 176.8,391.82 177.3,391.7 177.8,392 178.3,391.92 178.8,392.09 179.3,392.08 179.8,392.39 180.3,392.09 180.8,391.98 181.3,392.23 181.8,392.26 182.3,392.5 182.8,392.43 183.3,392.38 183.8,392.61 184.3,392.17 184.8,392.3 185.3,392.28 185.8,392.42 186.3,392.27 186.8,392.67 187.3,392.56 187.8,392.37 188.3,392.49 188.8,392.77 189.3,392.9 189.8,393.15 190.3,393.35 190.8,392.94 191.3,392.73 191.8,392.56 192.3,393.03 192.8,392.88 193.3,392.99 193.8,393 194.3,393.12 194.8,393.38 195.3,393.25 195.8,393.24 196.3,393.12 196.8,393.04 197.3,393.3 197.8,393.42 198.3,393.78 198.8,393.53 199.3,393.72 199.8,393.49 200.3,393.41 200.8,393.49 201.3,393.57 201.8,394.12 202.3,393.63 202.8,393.97 203.3,393.7 203.8,394.07 204.3,394.01 204.8,393.95 205.3,394.01 205.8,393.94 206.3,394.18 206.8,394.05 207.3,393.95 207.8,393.98 208.3,394.28 208.8,394.58 209.3,394.36 209.8,394.35 210.3,394.46 210.8,394.68 211.3,394.53 211.8,394.45 212.3,394.77 212.8,394.68 213.3,394.92 213.8,394.72 214.3,394.5 214.8,394.52 215.3,395.1 215.8,395.15 216.3,394.85 216.8,394.85 217.3,395.22 217.8,394.8 218.3,394.88 218.8,395.19 219.3,395.05 219.8,395.15 220.3,395.17 220.8,395.3 221.3,395.53 221.8,395.33 222.3,395.47 222.8,395.02 223.3,395.42 223.8,395.32 224.3,395.29 224.8,395.39 225.3,395.53 225.8,395.79 226.3,395.43 226.8,395.71 227.3,395.66 227.8,395.73" fill="none" stroke="#3a4a78" stroke-width="0.9" stroke-linejoin="round"/>
<polyline points="133.4,361.74 133.9,362.11 134.4,362.21 134.9,362.46 135.4,362.57 135.9,363.28 136.4,363.38 136.9,363.63 137.4,363.68 137.9,364.15 138.4,364.26 138.9,364.23 139.4,364.29 139.9,364.44 140.4,364.49 140.9,364.71 141.4,364.72 141.9,364.99 142.4,364.94 142.9,365.02 143.4,365.39 143.9,365.14 144.4,365.09 144.9,365.47 145.4,365.18 145.9,365.62 146.4,365.82 146.9,365.77 147.4,365.84 147.9,365.61 148.4,366.08 148.9,366.14 149.4,365.98 149.9,366.51 150.4,366.12 150.9,366.12 151.4,366.18 151.9,366.52 152.4,366.64 152.9,366.73 153.4,366.68 153.9,366.68 154.4,367 154.9,366.82 155.4,366.85 155.9,367.31 156.4,367.21 156.9,367.33 157.4,367.43 157.9,367.34 158.4,367.43 158.9,367.69 159.4,367.59 159.9,367.83 160.4,367.87 160.9,367.8 161.4,368.23 161.9,368.01 162.4,368.35 162.9,368.45 163.4,368.75 163.9,368.52 164.4,368.74 164.9,368.94 165.4,369.11 165.9,369.35 166.4,369.4 166.9,369.5 167.4,369.78 167.9,370.08 168.4,369.7 168.9,370.04 169.4,370.29 169.9,370.32 170.4,370.65 170.9,370.51 171.4,370.54 171.9,370.94 172.4,370.51 172.9,370.97 173.4,371.51 173.9,371.26 174.4,371.42 174.9,371.31 175.4,371.55 175.9,371.63 176.4,372.02 176.9,371.68 177.4,371.51 177.9,372.08 178.4,372.34 178.9,372.09 179.4,372.01 179.9,372.2 180.4,372.51 180.9,372.44 181.4,372.61 181.9,372.33 182.4,372.68 182.9,372.94 183.4,372.86 183.9,372.81 184.4,373.18 184.9,373.23 185.4,373.07 185.9,373.08 186.4,373.43 186.9,373.2 187.4,373.31 187.9,373.65 188.4,373.44 188.9,373.38 189.4,373.2 189.9,373.54 190.4,373.56 190.9,373.51 191.4,373.78 191.9,373.48 192.4,373.47 192.9,373.62 193.4,373.76 193.9,373.57 194.4,373.65 194.9,373.73 195.4,373.88 195.9,373.81 196.4,374.09 196.9,373.64 197.4,374.07 197.9,373.95 198.4,374.14 198.9,374.4 199.4,374.13 199.9,374.21 200.4,374.34 200.9,374.05 201.4,374.39 201.9,374.45 202.4,374.35 202.9,374.5 203.4,374.46 203.9,374.37 204.4,374.32 204.9,374.71 205.4,374.86 205.9,374.52 206.4,374.73 206.9,374.53 207.4,374.68 207.9,374.72 208.4,374.66 208.9,374.86 209.4,375.06 209.9,375.04 210.4,374.91 210.9,375.24 211.4,375.1 211.9,375.38 212.4,374.96 212.9,375.65 213.4,375.21 213.9,375.1 214.4,375.16 214.9,375.5 215.4,375.54 215.9,375.56 216.4,375.57 216.9,375.36 217.4,375.55 217.9,375.26 218.4,375.52 218.9,375.8 219.4,375.46 219.9,376.14 220.4,376.01 220.9,375.7 221.4,376.02 221.9,376.04 222.4,375.98 222.9,376.13 223.4,376.05 223.9,376.13 224.4,376.26 224.9,376.3 225.4,376.32 225.9,376.37 226.4,376.51 226.9,376.53 227.4,376.28 227.9,376.39 228.4,376.77 228.9,376.83 229.4,376.72 229.9,376.64 230.4,376.86 230.9,376.88 231.4,376.59 231.9,376.88 232.4,376.71 232.9,376.9 233.4,377.02 233.9,377.32 234.4,376.79 234.9,377.1 235.4,377.31 235.9,377.35 236.4,377.43 236.9,377.2 237.4,377.38 237.9,377.38 238.4,377.69 238.9,377.53 239.4,377.6 239.9,377.67 240.4,377.5 240.9,377.82 241.4,377.63 241.9,377.87 242.4,377.79 242.9,378.13 243.4,378 243.9,378.34 244.4,377.76 244.9,378.35 245.4,378.33" fill="none" stroke="#2c2c3c" stroke-width="0.9" stroke-linejoin="round"/>
<polyline points="141.5,361.87 142,362 142.5,362.31 143,362.69 143.5,362.92 144,363.15 144.5,363.28 145,363.44 145.5,363.83 146,363.94 146.5,364.3 147,364.42 147.5,364.5 148,364.81 148.5,365.04 149,365.15 149.5,365.2 150,365.49 150.5,365.65 151,365.85 151.5,365.96 152,365.89 152.5,366.06 153,366.31 153.5,366.14 154,366.56 154.5,366.47 155,366.63 155.5,366.96 156,366.88 156.5,366.94 157,367.1 157.5,367.13 158,367.14 158.5,367.31 159,367.58 159.5,367.48 160,367.45 160.5,367.46 161,367.54 161.5,367.55 162,367.39 162.5,367.57 163,367.54 163.5,367.76 164,367.55 164.5,367.74 165,367.47 165.5,367.67 166,367.56 166.5,367.56 167,367.77 167.5,367.57 168,367.69 168.5,367.64 169,367.78 169.5,367.78 170,367.5 170.5,367.85 171,367.71 171.5,368.03 172,367.91 172.5,367.93 173,367.54 173.5,368.04 174,367.85 174.5,367.69 175,367.89 175.5,368.01 176,367.68 176.5,368 177,367.84 177.5,367.82 178,367.84 178.5,367.8 179,367.92 179.5,367.93 180,368.02 180.5,368.07 181,367.87 181.5,368.04 182,367.78 182.5,367.99 183,367.79 183.5,367.86 184,367.99 184.5,367.84 185,367.99 185.5,367.76 186,367.85 186.5,368 187,368.11 187.5,367.81 188,368.13 188.5,367.98 189,368.21 189.5,367.92 190,367.89 190.5,367.99 191,367.83 191.5,367.97 192,367.95 192.5,368.12 193,368.01 193.5,367.82 194,367.82 194.5,367.86 195,367.74 195.5,367.73 196,368.23 196.5,367.88 197,368.13 197.5,367.9 198,367.94 198.5,367.79 199,368.14 199.5,367.95 200,368.19 200.5,367.92 201,368.15 201.5,368.18 202,367.83 202.5,368.06 203,367.89 203.5,367.87 204,368.03 204.5,368.11 205,368.17 205.5,367.98 206,368.13 206.5,368.09 207,368.02 207.5,367.91 208,368.03 208.5,368.44 209,367.92 209.5,368.01 210,367.92 210.5,368.19 211,368.25 211.5,368.19 212,368.27 212.5,368.03 213,368.24 213.5,367.94 214,368.23 214.5,368.22 215,367.97 215.5,368.16 216,367.92 216.5,367.88 217,367.88 217.5,367.92 218,367.92 218.5,368.04 219,368.26 219.5,368.02 220,367.96 220.5,368.14 221,368.03 221.5,368.07 222,368.11 222.5,368.11 223,367.98 223.5,368.03 224,368.18 224.5,368.02 225,368.04 225.5,368.1 226,368.12 226.5,368.03 227,368.14 227.5,368.07 228,367.92 228.5,368.15 229,367.97 229.5,368.44 230,368.11 230.5,368.04 231,368.18 231.5,368.25 232,368.26 232.5,368.12 233,368.21 233.5,368.17 234,368.09 234.5,367.9 235,368.09 235.5,367.78 236,367.98 236.5,368.25 237,368.11 237.5,368.08 238,367.98 238.5,367.99 239,368.01 239.5,367.92 240,367.82 240.5,368.21 241,368.29 241.5,368.02 242,368.18 242.5,367.94 243,368.14 243.5,367.93 244,368.2 244.5,368.1 245,367.94 245.5,368.16 246,368.29 246.5,368.1 247,368.09 247.5,368.1 248,368.11 248.5,368.25 249,368.25 249.5,367.84 250,368.24 250.5,368.07 251,368.3 251.5,368.15 252,368.21 252.5,368.04 253,367.94 253.5,368.13 254,368.21 254.5,368.19 255,368.19 255.5,368.13 256,368.18" fill="none" stroke="#3a3a3a" stroke-width="0.9" stroke-linejoin="round"/>
<polyline points="68.5,361.59 69.1,361.54 69.7,361.73 70.3,361.91 70.9,361.66 71.5,361.77 72.1,361.83 72.7,361.87 73.3,361.48 73.9,361.82 74.5,361.7 75.1,361.55 75.7,361.53 76.3,361.64 76.9,361.45 77.5,361.34 78.1,361.72 78.7,361.89 79.3,361.64 79.9,361.89 80.5,361.6 81.1,361.45 81.7,361.32 82.3,361.49 82.9,362.06 83.5,361.64 84.1,361.25 84.7,361.7 85.3,361.6 85.9,361.58 86.5,361.54 87.1,361.49 87.7,361.61 88.3,361.25 88.9,361.41 89.5,361.62 90.1,361.89 90.7,361.81 91.3,362.16 91.9,362 92.5,361.23 93.1,361.83 93.7,361.94 94.3,361.76 94.9,361.24 95.5,361.61 96.1,361.5 96.7,361.79 97.3,361.99 97.9,361.86 98.5,361.44 99.1,361.9 99.7,361.7 100.3,361.95 100.9,361.62 101.5,361.75 102.1,361.68 102.7,361.64 103.3,362.07 103.9,361.92 104.5,361.8 105.1,361.35 105.7,361.52 106.3,361.7 106.9,361.84 107.5,361.26 108.1,361.9 108.7,361.41 109.3,361.38 109.9,361.95 110.5,361.54 111.1,361.77 111.7,361.93 112.3,361.84 112.9,361.41 113.5,361.53 114.1,361.53 114.7,361.78 115.3,361.76 115.9,361.96 116.5,361.81 117.1,361.92 117.7,361.63 118.3,361.6 118.9,361.3 119.5,361.52 120.1,361.26 120.7,361.47 121.3,362.06 121.9,361.74 122.5,361.7 123.1,361.66 123.7,361.56 124.3,361.67 124.9,361.94 125.5,361.42 126.1,361.53 126.7,361.46 127.3,361.6 127.9,362.35 128.5,362.16 129.1,362.19 129.7,361.36 130.3,361.34 130.9,361.93 131.5,361.46 132.1,361.77 132.7,361.35 133.3,361.98 133.9,361.66 134.5,361.6 135.1,362.41 135.7,361.74 136.3,361.43 136.9,361.46 137.5,362 138.1,361.45 138.7,362.08 139.3,361.38 139.9,361.73 140.5,361.38 141.1,361.94 141.7,361.97" fill="none" stroke="#2a3550" stroke-width="1" stroke-linejoin="round"/>
<polyline points="51.6,361.77 52.1,362.2 52.6,361.83 53.1,362.08 53.6,361.61 54.1,361.54 54.6,361.89 55.1,361.79 55.6,361.92 56.1,362.03 56.6,361.98 57.1,361.81 57.6,361.67 58.1,361.64 58.6,361.96 59.1,362.33 59.6,361.9 60.1,361.6 60.6,361.86 61.1,362.11 61.6,362.32 62.1,362.72 62.6,364.07 63.1,365.4 63.6,367.51 64.1,369.56 64.6,372.87 65.1,375.57 65.6,377.98 66.1,379.73 66.6,381.09 67.1,383.67 67.6,385.63 68.1,388.1 68.6,390.33 69.1,392.44 69.6,394.5 70.1,395.41 70.6,397.26 71.1,398.24 71.6,399.44 72.1,400.38 72.6,400.98 73.1,401.94 73.6,402.79 74.1,402.85 74.6,404.06 75.1,404.41 75.6,405.26 76.1,404.87 76.6,405.86 77.1,406.19 77.6,406.54 78.1,406.59 78.6,407.34 79.1,407.66 79.6,407.76 80.1,408.1 80.6,408.8 81.1,408.82 81.6,409.34 82.1,409.83 82.6,409.48 83.1,409.62 83.6,409.37 84.1,409.39 84.6,409.96 85.1,409.96 85.6,410.41 86.1,410.59 86.6,410.37 87.1,410.59 87.6,410.34 88.1,410.68 88.6,410.22 89.1,410.76 89.6,410.96 90.1,410.19 90.6,410.52 91.1,410.93 91.6,410.91 92.1,410.93 92.6,410.6 93.1,411.26 93.6,411.01 94.1,410.99 94.6,411.17 95.1,411.14 95.6,411.15 96.1,410.99 96.6,410.96 97.1,410.59 97.6,411.27 98.1,411.48 98.6,410.74 99.1,411.18 99.6,411.06 100.1,410.88 100.6,410.96 101.1,410.66 101.6,411.28 102.1,411.06 102.6,411.23 103.1,411.45 103.6,411.24 104.1,410.87 104.6,411.43 105.1,411.12 105.6,411.16 106.1,410.93 106.6,411.14 107.1,411.01 107.6,410.93 108.1,410.98 108.6,411.44 109.1,411.42 109.6,410.95 110.1,410.97 110.6,411.21 111.1,410.91 111.6,410.98 112.1,411.33 112.6,411.63 113.1,411.31 113.6,411.2 114.1,411.25 114.6,411.23 115.1,411.07 115.6,411.27 116.1,411.17 116.6,411.32 117.1,411.22 117.6,411.47 118.1,411.37 118.6,411.27 119.1,411.09 119.6,411.62 120.1,411.64 120.6,411.52 121.1,411.44 121.6,410.89 122.1,411.22 122.6,411.94 123.1,411.02 123.6,410.95 124.1,411.24 124.6,410.58 125.1,411.22 125.6,411.17 126.1,410.96 126.6,411.46 127.1,410.89 127.6,411.14 128.1,410.82 128.6,410.97 129.1,411.24 129.6,410.6 130.1,411.43 130.6,410.78 131.1,411.13 131.6,411.35 132.1,411.16 132.6,410.58 133.1,411.48 133.6,411.27 134.1,411.27 134.6,410.61 135.1,410.7 135.6,410.6 136.1,410.89 136.6,410.94 137.1,410.62 137.6,411.04 138.1,410.95 138.6,410.72 139.1,410.54 139.6,409.91 140.1,410.44 140.6,410.84 141.1,409.82 141.6,410.45 142.1,410.22 142.6,410.45 143.1,410.52 143.6,410.51 144.1,409.89 144.6,410.32 145.1,410.38 145.6,410.58 146.1,410.62 146.6,410.18 147.1,410.66 147.6,410.26 148.1,410.44 148.6,410.28 149.1,410.04 149.6,410.24 150.1,410.22 150.6,410.07 151.1,410.19 151.6,409.83 152.1,410.09 152.6,410.19 153.1,409.63 153.6,409.89 154.1,410.05 154.6,410.32 155.1,409.74 155.6,409.67 156.1,410.17 156.6,409.49 157.1,409.86 157.6,409.72 158.1,410.14 158.6,409.89 159.1,409.67 159.6,409.91 160.1,409.48 160.6,409.65 161.1,409.18 161.6,409.51 162.1,409.48 162.6,409.47 163.1,409.13 163.6,409.74 164.1,409.03 164.6,409.81 165.1,409.19 165.6,409.3 166.1,409.16 166.6,409.01 167.1,409.49 167.6,409.19 168.1,409.66 168.6,408.9 169.1,408.89 169.6,409.39 170.1,408.64 170.6,409.46 171.1,409.4 171.6,408.62 172.1,409.32 172.6,409.1 173.1,408.89 173.6,409.02 174.1,409.19 174.6,408.98 175.1,409 175.6,408.91 176.1,408.93 176.6,408.71 177.1,408.94 177.6,408.94 178.1,409.08 178.6,408.78 179.1,409.11 179.6,408.93 180.1,409.12 180.6,409.28 181.1,409.17 181.6,409.83 182.1,409.76 182.6,409.92 183.1,410.08 183.6,409.53 184.1,409.95 184.6,409.99 185.1,410.07 185.6,410.2 186.1,410.07 186.6,409.99 187.1,410.29 187.6,410.46 188.1,410.69 188.6,410.99 189.1,410.88 189.6,410.98 190.1,411.36 190.6,411.49 191.1,411.88" fill="none" stroke="#f4ccd8" stroke-width="1.6" stroke-linejoin="round"/>
<polyline points="51.6,361.77 52.1,362.2 52.6,361.83 53.1,362.08 53.6,361.61 54.1,361.54 54.6,361.89 55.1,361.79 55.6,361.92 56.1,362.03 56.6,361.98 57.1,361.81 57.6,361.67 58.1,361.64 58.6,361.96 59.1,362.33 59.6,361.9 60.1,361.6 60.6,361.86 61.1,362.11 61.6,362.32 62.1,362.72 62.6,364.07 63.1,365.4 63.6,367.51 64.1,369.56 64.6,372.87 65.1,375.57 65.6,377.98 66.1,379.73 66.6,381.09 67.1,383.67 67.6,385.63 68.1,388.1 68.6,390.33 69.1,392.44 69.6,394.5 70.1,395.41 70.6,397.26 71.1,398.24 71.6,399.44 72.1,400.38 72.6,400.98 73.1,401.94 73.6,402.79 74.1,402.85 74.6,404.06 75.1,404.41 75.6,405.26 76.1,404.87 76.6,405.86 77.1,406.19 77.6,406.54 78.1,406.59 78.6,407.34 79.1,407.66 79.6,407.76 80.1,408.1 80.6,408.8 81.1,408.82 81.6,409.34 82.1,409.83 82.6,409.48 83.1,409.62 83.6,409.37 84.1,409.39 84.6,409.96 85.1,409.96 85.6,410.41 86.1,410.59 86.6,410.37 87.1,410.59 87.6,410.34 88.1,410.68 88.6,410.22 89.1,410.76 89.6,410.96 90.1,410.19 90.6,410.52 91.1,410.93 91.6,410.91 92.1,410.93 92.6,410.6 93.1,411.26 93.6,411.01 94.1,410.99 94.6,411.17 95.1,411.14 95.6,411.15 96.1,410.99 96.6,410.96 97.1,410.59 97.6,411.27 98.1,411.48 98.6,410.74 99.1,411.18 99.6,411.06 100.1,410.88 100.6,410.96 101.1,410.66 101.6,411.28 102.1,411.06 102.6,411.23 103.1,411.45 103.6,411.24 104.1,410.87 104.6,411.43 105.1,411.12 105.6,411.16 106.1,410.93 106.6,411.14 107.1,411.01 107.6,410.93 108.1,410.98 108.6,411.44 109.1,411.42 109.6,410.95 110.1,410.97 110.6,411.21 111.1,410.91 111.6,410.98 112.1,411.33 112.6,411.63 113.1,411.31 113.6,411.2 114.1,411.25 114.6,411.23 115.1,411.07 115.6,411.27 116.1,411.17 116.6,411.32 117.1,411.22 117.6,411.47 118.1,411.37 118.6,411.27 119.1,411.09 119.6,411.62 120.1,411.64 120.6,411.52 121.1,411.44 121.6,410.89 122.1,411.22 122.6,411.94 123.1,411.02 123.6,410.95 124.1,411.24 124.6,410.58 125.1,411.22 125.6,411.17 126.1,410.96 126.6,411.46 127.1,410.89 127.6,411.14 128.1,410.82 128.6,410.97 129.1,411.24 129.6,410.6 130.1,411.43 130.6,410.78 131.1,411.13 131.6,411.35 132.1,411.16 132.6,410.58 133.1,411.48 133.6,411.27 134.1,411.27 134.6,410.61 135.1,410.7 135.6,410.6 136.1,410.89 136.6,410.94 137.1,410.62 137.6,411.04 138.1,410.95 138.6,410.72 139.1,410.54 139.6,409.91 140.1,410.44 140.6,410.84 141.1,409.82 141.6,410.45 142.1,410.22 142.6,410.45 143.1,410.52 143.6,410.51 144.1,409.89 144.6,410.32 145.1,410.38 145.6,410.58 146.1,410.62 146.6,410.18 147.1,410.66 147.6,410.26 148.1,410.44 148.6,410.28 149.1,410.04 149.6,410.24 150.1,410.22 150.6,410.07 151.1,410.19 151.6,409.83 152.1,410.09 152.6,410.19 153.1,409.63 153.6,409.89 154.1,410.05 154.6,410.32 155.1,409.74 155.6,409.67 156.1,410.17 156.6,409.49 157.1,409.86 157.6,409.72 158.1,410.14 158.6,409.89 159.1,409.67 159.6,409.91 160.1,409.48 160.6,409.65 161.1,409.18 161.6,409.51 162.1,409.48 162.6,409.47 163.1,409.13 163.6,409.74 164.1,409.03 164.6,409.81 165.1,409.19 165.6,409.3 166.1,409.16 166.6,409.01 167.1,409.49 167.6,409.19 168.1,409.66 168.6,408.9 169.1,408.89 169.6,409.39 170.1,408.64 170.6,409.46 171.1,409.4 171.6,408.62 172.1,409.32 172.6,409.1 173.1,408.89 173.6,409.02 174.1,409.19 174.6,408.98 175.1,409 175.6,408.91 176.1,408.93 176.6,408.71 177.1,408.94 177.6,408.94 178.1,409.08 178.6,408.78 179.1,409.11 179.6,408.93 180.1,409.12 180.6,409.28 181.1,409.17 181.6,409.83 182.1,409.76 182.6,409.92 183.1,410.08 183.6,409.53 184.1,409.95 184.6,409.99 185.1,410.07 185.6,410.2 186.1,410.07 186.6,409.99 187.1,410.29 187.6,410.46 188.1,410.69 188.6,410.99 189.1,410.88 189.6,410.98 190.1,411.36 190.6,411.49 191.1,411.88" fill="none" stroke="#b8365a" stroke-width="0.9" stroke-linejoin="round"/>
<text x="0" y="0" font-size="6" text-anchor="middle" fill="#b8365a" font-weight="normal" transform="translate(56.5 358.2) scale(0.85 1)">1</text>
<text x="0" y="0" font-size="6" text-anchor="middle" fill="#334" font-weight="normal" transform="translate(73.8 358.2) scale(0.85 1)">2</text>
<text x="0" y="0" font-size="6" text-anchor="middle" fill="#334" font-weight="normal" transform="translate(91.2 358.2) scale(0.85 1)">3</text>
<text x="0" y="0" font-size="6" text-anchor="middle" fill="#223" font-weight="normal" transform="translate(108.7 358.3) scale(0.85 1)">4</text>
<text x="0" y="0" font-size="6" text-anchor="middle" fill="#3a3f8a" font-weight="normal" transform="translate(120.8 357.2) scale(0.85 1)">2</text>
<text x="0" y="0" font-size="6" text-anchor="middle" fill="#223" font-weight="normal" transform="translate(139.2 358.3) scale(0.85 1)">4</text>
<text x="0" y="0" font-size="6" text-anchor="middle" fill="#b8365a" font-weight="normal" transform="translate(86.3 406.4) scale(0.85 1)">1</text>
<text x="0" y="0" font-size="6" text-anchor="middle" fill="#b8365a" font-weight="normal" transform="translate(121 407.4) scale(0.85 1)">1</text>
<text x="0" y="0" font-size="6" text-anchor="middle" fill="#b8365a" font-weight="normal" transform="translate(155 406.2) scale(0.85 1)">1</text>
<text x="0" y="0" font-size="6" text-anchor="middle" fill="#b8365a" font-weight="normal" transform="translate(189.6 407.9) scale(0.85 1)">1</text>
<text x="0" y="0" font-size="6" text-anchor="middle" fill="#2f5a5c" font-weight="normal" transform="translate(138.3 394.9) scale(0.85 1)">2</text>
<text x="0" y="0" font-size="6" text-anchor="middle" fill="#2f5a5c" font-weight="normal" transform="translate(172.9 398.2) scale(0.85 1)">2</text>
<text x="0" y="0" font-size="6" text-anchor="middle" fill="#2f5a5c" font-weight="normal" transform="translate(207 398.7) scale(0.85 1)">2</text>
<text x="0" y="0" font-size="6" text-anchor="middle" fill="#3a4a88" font-weight="normal" transform="translate(155 385.5) scale(0.85 1)">3</text>
<text x="0" y="0" font-size="6" text-anchor="middle" fill="#3a4a88" font-weight="normal" transform="translate(189.6 389.8) scale(0.85 1)">3</text>
<text x="0" y="0" font-size="6" text-anchor="middle" fill="#3a4a88" font-weight="normal" transform="translate(224.2 392) scale(0.85 1)">3</text>
<text x="0" y="0" font-size="6" text-anchor="middle" fill="#223" font-weight="normal" transform="translate(173.4 368.7) scale(0.85 1)">4</text>
<text x="0" y="0" font-size="6" text-anchor="middle" fill="#223" font-weight="normal" transform="translate(207 371.8) scale(0.85 1)">4</text>
<text x="0" y="0" font-size="6" text-anchor="middle" fill="#223" font-weight="normal" transform="translate(241.5 374.7) scale(0.85 1)">4</text>
<text x="0" y="0" font-size="6" text-anchor="middle" fill="#333" font-weight="normal" transform="translate(155 364.1) scale(0.85 1)">5</text>
<text x="0" y="0" font-size="6" text-anchor="middle" fill="#333" font-weight="normal" transform="translate(189.6 364.5) scale(0.85 1)">5</text>
<text x="0" y="0" font-size="6" text-anchor="middle" fill="#333" font-weight="normal" transform="translate(224.2 364.8) scale(0.85 1)">5</text>
<circle cx="60.8" cy="353.3" r="0.75" fill="#222"/>
<circle cx="97.9" cy="351.7" r="0.75" fill="#222"/>
<circle cx="120.2" cy="350.2" r="0.75" fill="#222"/>
<circle cx="134.4" cy="352.7" r="0.75" fill="#222"/>
<circle cx="142.1" cy="348.3" r="0.75" fill="#222"/>
<line x1="51.6" y1="342.5" x2="51.6" y2="444.25" stroke="#111" stroke-width="1.3"/>
<line x1="51" y1="443.75" x2="258.7" y2="443.75" stroke="#111" stroke-width="1.3"/>
<line x1="48.3" y1="345.3" x2="51.6" y2="345.3" stroke="#111" stroke-width="0.9"/>
<line x1="48.3" y1="353.5" x2="51.6" y2="353.5" stroke="#111" stroke-width="0.9"/>
<line x1="48.3" y1="361.7" x2="51.6" y2="361.7" stroke="#111" stroke-width="0.9"/>
<line x1="48.3" y1="369.9" x2="51.6" y2="369.9" stroke="#111" stroke-width="0.9"/>
<line x1="48.3" y1="378.1" x2="51.6" y2="378.1" stroke="#111" stroke-width="0.9"/>
<line x1="48.3" y1="386.3" x2="51.6" y2="386.3" stroke="#111" stroke-width="0.9"/>
<line x1="48.3" y1="394.5" x2="51.6" y2="394.5" stroke="#111" stroke-width="0.9"/>
<line x1="48.3" y1="402.7" x2="51.6" y2="402.7" stroke="#111" stroke-width="0.9"/>
<line x1="48.3" y1="410.9" x2="51.6" y2="410.9" stroke="#111" stroke-width="0.9"/>
<line x1="48.3" y1="419.1" x2="51.6" y2="419.1" stroke="#111" stroke-width="0.9"/>
<line x1="48.3" y1="427.3" x2="51.6" y2="427.3" stroke="#111" stroke-width="0.9"/>
<line x1="48.3" y1="435.5" x2="51.6" y2="435.5" stroke="#111" stroke-width="0.9"/>
<line x1="48.3" y1="443.7" x2="51.6" y2="443.7" stroke="#111" stroke-width="0.9"/>
<line x1="68.66" y1="443.75" x2="68.66" y2="446.15" stroke="#111" stroke-width="0.9"/>
<text x="68.66" y="454.95" font-size="6.3" text-anchor="middle" fill="#231f20" font-weight="normal">1</text>
<line x1="85.72" y1="443.75" x2="85.72" y2="446.15" stroke="#111" stroke-width="0.9"/>
<text x="85.72" y="454.95" font-size="6.3" text-anchor="middle" fill="#231f20" font-weight="normal">2</text>
<line x1="102.78" y1="443.75" x2="102.78" y2="446.15" stroke="#111" stroke-width="0.9"/>
<text x="102.78" y="454.95" font-size="6.3" text-anchor="middle" fill="#231f20" font-weight="normal">3</text>
<line x1="119.83" y1="443.75" x2="119.83" y2="446.15" stroke="#111" stroke-width="0.9"/>
<text x="119.83" y="454.95" font-size="6.3" text-anchor="middle" fill="#231f20" font-weight="normal">4</text>
<line x1="136.89" y1="443.75" x2="136.89" y2="446.15" stroke="#111" stroke-width="0.9"/>
<text x="136.89" y="454.95" font-size="6.3" text-anchor="middle" fill="#231f20" font-weight="normal">5</text>
<line x1="153.95" y1="443.75" x2="153.95" y2="446.15" stroke="#111" stroke-width="0.9"/>
<text x="153.95" y="454.95" font-size="6.3" text-anchor="middle" fill="#231f20" font-weight="normal">6</text>
<line x1="171.01" y1="443.75" x2="171.01" y2="446.15" stroke="#111" stroke-width="0.9"/>
<text x="171.01" y="454.95" font-size="6.3" text-anchor="middle" fill="#231f20" font-weight="normal">7</text>
<line x1="188.07" y1="443.75" x2="188.07" y2="446.15" stroke="#111" stroke-width="0.9"/>
<text x="188.07" y="454.95" font-size="6.3" text-anchor="middle" fill="#231f20" font-weight="normal">8</text>
<line x1="205.12" y1="443.75" x2="205.12" y2="446.15" stroke="#111" stroke-width="0.9"/>
<text x="205.12" y="454.95" font-size="6.3" text-anchor="middle" fill="#231f20" font-weight="normal">9</text>
<line x1="222.18" y1="443.75" x2="222.18" y2="446.15" stroke="#111" stroke-width="0.9"/>
<text x="222.18" y="454.95" font-size="6.3" text-anchor="middle" fill="#231f20" font-weight="normal">10</text>
<line x1="239.24" y1="443.75" x2="239.24" y2="446.15" stroke="#111" stroke-width="0.9"/>
<text x="239.24" y="454.95" font-size="6.3" text-anchor="middle" fill="#231f20" font-weight="normal">11</text>
<line x1="256.3" y1="443.75" x2="256.3" y2="446.15" stroke="#111" stroke-width="0.9"/>
<text x="256.3" y="454.95" font-size="6.3" text-anchor="middle" fill="#231f20" font-weight="normal">12</text>
<text x="263.4" y="454.95" font-size="6.3" text-anchor="start" fill="#231f20" font-weight="normal">min</text>
<text x="51.6" y="337" font-size="6.4" text-anchor="start" fill="#231f20" font-weight="normal">T6 25 µM</text>
<text x="45.5" y="363.7" font-size="6.6" text-anchor="end" fill="#231f20" font-weight="normal">0</text>
<text x="45.2" y="445.3" font-size="6.6" text-anchor="end" fill="#231f20" font-weight="normal">100</text>
<line x1="27" y1="362.5" x2="27" y2="441.5" stroke="#111" stroke-width="1"/>
<path d="M24.9 439.3 L29.1 439.3 L27 444.5 Z" fill="#111"/>
<text x="0" y="0" font-size="7.3" text-anchor="middle" fill="#231f20" font-weight="normal" transform="translate(22.4 403) rotate(-90) scale(0.85 1)" stroke="#231f20" stroke-width="0.22">% Light transmission</text>
<text x="262.7" y="347.6" font-size="6.5" text-anchor="start" fill="#231f20" font-weight="normal">1. Control</text>
<text x="262.7" y="358.4" font-size="6.5" text-anchor="start" fill="#231f20" font-weight="normal">2. R21D10, 10 µg/ml</text>
<text x="262.7" y="368.8" font-size="6.5" text-anchor="start" fill="#231f20" font-weight="normal">3. R21D10, 20 µg/ml</text>
<text x="262.7" y="379.2" font-size="6.5" text-anchor="start" fill="#231f20" font-weight="normal">4. R21D10, 40 µg/ml</text>
<text x="262.7" y="389.3" font-size="6.5" text-anchor="start" fill="#231f20" font-weight="normal">5. 7E3, 10 µg/ml</text>
<line x1="377.2" y1="355.25" x2="377.2" y2="349.49" stroke="#231f20" stroke-width="0.9"/>
<line x1="375" y1="349.49" x2="379.4" y2="349.49" stroke="#231f20" stroke-width="0.9"/>
<rect x="371.8" y="355.25" width="10.8" height="74.05" fill="#c5671b"/>
<line x1="393.7" y1="367.76" x2="393.7" y2="358.24" stroke="#231f20" stroke-width="0.9"/>
<line x1="391.5" y1="358.24" x2="395.9" y2="358.24" stroke="#231f20" stroke-width="0.9"/>
<rect x="388.3" y="367.76" width="10.8" height="61.54" fill="#c5671b"/>
<line x1="410.3" y1="374.29" x2="410.3" y2="361.34" stroke="#231f20" stroke-width="0.9"/>
<line x1="408.1" y1="361.34" x2="412.5" y2="361.34" stroke="#231f20" stroke-width="0.9"/>
<rect x="404.9" y="374.29" width="10.8" height="55.01" fill="#c5671b"/>
<line x1="426.8" y1="394.21" x2="426.8" y2="375.51" stroke="#231f20" stroke-width="0.9"/>
<line x1="424.6" y1="375.51" x2="429" y2="375.51" stroke="#231f20" stroke-width="0.9"/>
<rect x="421.4" y="394.21" width="10.8" height="35.09" fill="#c5671b"/>
<line x1="443.4" y1="421" x2="443.4" y2="417.46" stroke="#231f20" stroke-width="0.9"/>
<line x1="441.2" y1="417.46" x2="445.6" y2="417.46" stroke="#231f20" stroke-width="0.9"/>
<rect x="438" y="421" width="10.8" height="8.3" fill="#c5671b"/>
<line x1="368.8" y1="429.75" x2="368.8" y2="338.55" stroke="#231f20" stroke-width="1"/>
<line x1="368.3" y1="429.3" x2="450.5" y2="429.3" stroke="#231f20" stroke-width="1"/>
<line x1="366.2" y1="429.3" x2="368.8" y2="429.3" stroke="#231f20" stroke-width="0.9"/>
<text x="362.8" y="431.6" font-size="6.65" text-anchor="end" fill="#231f20" font-weight="normal">0</text>
<line x1="366.2" y1="407.16" x2="368.8" y2="407.16" stroke="#231f20" stroke-width="0.9"/>
<text x="362.8" y="409.46" font-size="6.65" text-anchor="end" fill="#231f20" font-weight="normal">20</text>
<line x1="366.2" y1="385.02" x2="368.8" y2="385.02" stroke="#231f20" stroke-width="0.9"/>
<text x="362.8" y="387.32" font-size="6.65" text-anchor="end" fill="#231f20" font-weight="normal">40</text>
<line x1="366.2" y1="362.89" x2="368.8" y2="362.89" stroke="#231f20" stroke-width="0.9"/>
<text x="362.8" y="365.19" font-size="6.65" text-anchor="end" fill="#231f20" font-weight="normal">60</text>
<line x1="366.2" y1="340.75" x2="368.8" y2="340.75" stroke="#231f20" stroke-width="0.9"/>
<text x="362.8" y="343.05" font-size="6.65" text-anchor="end" fill="#231f20" font-weight="normal">80</text>
<line x1="377.2" y1="429.3" x2="377.2" y2="431.5" stroke="#231f20" stroke-width="0.8"/>
<line x1="393.7" y1="429.3" x2="393.7" y2="431.5" stroke="#231f20" stroke-width="0.8"/>
<line x1="410.3" y1="429.3" x2="410.3" y2="431.5" stroke="#231f20" stroke-width="0.8"/>
<line x1="426.8" y1="429.3" x2="426.8" y2="431.5" stroke="#231f20" stroke-width="0.8"/>
<line x1="443.4" y1="429.3" x2="443.4" y2="431.5" stroke="#231f20" stroke-width="0.8"/>
<line x1="376.3" y1="336.8" x2="440.8" y2="336.8" stroke="#231f20" stroke-width="0.9"/>
<text x="408.55" y="337.4" font-size="6.6" text-anchor="middle" fill="#231f20" font-weight="normal">****</text>
<line x1="376.3" y1="347" x2="426.3" y2="347" stroke="#231f20" stroke-width="0.9"/>
<text x="401.3" y="347.6" font-size="6.6" text-anchor="middle" fill="#231f20" font-weight="normal">**</text>
<line x1="427.5" y1="372.5" x2="440" y2="372.5" stroke="#231f20" stroke-width="0.9"/>
<text x="433.75" y="373.1" font-size="6.6" text-anchor="middle" fill="#231f20" font-weight="normal">*</text>
<text x="0" y="0" font-size="7.4" text-anchor="middle" fill="#231f20" font-weight="normal" transform="translate(348.8 383.8) rotate(-90) scale(0.8 1)" stroke="#231f20" stroke-width="0.22">Maximum aggregation</text>
<text x="0" y="0" font-size="6.7" text-anchor="end" fill="#231f20" font-weight="normal" transform="translate(377.6 439.4) rotate(-45)">Control</text>
<text x="0" y="0" font-size="6.7" text-anchor="end" fill="#231f20" font-weight="normal" transform="translate(394.1 439.4) rotate(-45)">R21D10, 10 µg/ml</text>
<text x="0" y="0" font-size="6.7" text-anchor="end" fill="#231f20" font-weight="normal" transform="translate(410.7 439.4) rotate(-45)">R21D10, 20 µg/ml</text>
<text x="0" y="0" font-size="6.7" text-anchor="end" fill="#231f20" font-weight="normal" transform="translate(427.2 439.4) rotate(-45)">R21D10, 40 µg/ml</text>
<text x="0" y="0" font-size="6.7" text-anchor="end" fill="#231f20" font-weight="normal" transform="translate(443.8 439.4) rotate(-45)">7E3, 10 µg/ml</text>
<text x="7.3" y="504.4" font-size="10.6" text-anchor="start" fill="#000" font-weight="bold">F</text>
<line x1="68.66" y1="512.7" x2="68.66" y2="610.7" stroke="#a8a8a8" stroke-width="0.6" stroke-dasharray="1 1.4"/>
<line x1="85.72" y1="512.7" x2="85.72" y2="610.7" stroke="#a8a8a8" stroke-width="0.6" stroke-dasharray="1 1.4"/>
<line x1="102.78" y1="512.7" x2="102.78" y2="610.7" stroke="#a8a8a8" stroke-width="0.6" stroke-dasharray="1 1.4"/>
<line x1="119.83" y1="512.7" x2="119.83" y2="610.7" stroke="#a8a8a8" stroke-width="0.6" stroke-dasharray="1 1.4"/>
<line x1="136.89" y1="512.7" x2="136.89" y2="610.7" stroke="#a8a8a8" stroke-width="0.6" stroke-dasharray="1 1.4"/>
<line x1="153.95" y1="512.7" x2="153.95" y2="610.7" stroke="#a8a8a8" stroke-width="0.6" stroke-dasharray="1 1.4"/>
<line x1="171.01" y1="512.7" x2="171.01" y2="610.7" stroke="#a8a8a8" stroke-width="0.6" stroke-dasharray="1 1.4"/>
<line x1="188.07" y1="512.7" x2="188.07" y2="610.7" stroke="#a8a8a8" stroke-width="0.6" stroke-dasharray="1 1.4"/>
<line x1="205.12" y1="512.7" x2="205.12" y2="610.7" stroke="#a8a8a8" stroke-width="0.6" stroke-dasharray="1 1.4"/>
<line x1="222.18" y1="512.7" x2="222.18" y2="610.7" stroke="#a8a8a8" stroke-width="0.6" stroke-dasharray="1 1.4"/>
<line x1="239.24" y1="512.7" x2="239.24" y2="610.7" stroke="#a8a8a8" stroke-width="0.6" stroke-dasharray="1 1.4"/>
<line x1="256.3" y1="512.7" x2="256.3" y2="610.7" stroke="#a8a8a8" stroke-width="0.6" stroke-dasharray="1 1.4"/>
<line x1="51.6" y1="512.58" x2="256.3" y2="512.58" stroke="#c4c4c4" stroke-width="0.75" stroke-dasharray="2.2 0.5"/>
<line x1="51.6" y1="520.74" x2="256.3" y2="520.74" stroke="#d6b0c0" stroke-width="0.75" stroke-dasharray="2.2 0.5"/>
<line x1="51.6" y1="528.9" x2="256.3" y2="528.9" stroke="#c4c4c4" stroke-width="0.75" stroke-dasharray="2.2 0.5"/>
<line x1="51.6" y1="537.06" x2="256.3" y2="537.06" stroke="#c4c4c4" stroke-width="0.75" stroke-dasharray="2.2 0.5"/>
<line x1="51.6" y1="545.22" x2="256.3" y2="545.22" stroke="#c4c4c4" stroke-width="0.75" stroke-dasharray="2.2 0.5"/>
<line x1="51.6" y1="553.38" x2="256.3" y2="553.38" stroke="#c4c4c4" stroke-width="0.75" stroke-dasharray="2.2 0.5"/>
<line x1="51.6" y1="561.54" x2="256.3" y2="561.54" stroke="#c4c4c4" stroke-width="0.75" stroke-dasharray="2.2 0.5"/>
<line x1="51.6" y1="569.7" x2="256.3" y2="569.7" stroke="#c4c4c4" stroke-width="0.75" stroke-dasharray="2.2 0.5"/>
<line x1="51.6" y1="577.86" x2="256.3" y2="577.86" stroke="#c4c4c4" stroke-width="0.75" stroke-dasharray="2.2 0.5"/>
<line x1="51.6" y1="586.02" x2="256.3" y2="586.02" stroke="#c4c4c4" stroke-width="0.75" stroke-dasharray="2.2 0.5"/>
<line x1="51.6" y1="594.18" x2="256.3" y2="594.18" stroke="#c4c4c4" stroke-width="0.75" stroke-dasharray="2.2 0.5"/>
<line x1="51.6" y1="602.34" x2="256.3" y2="602.34" stroke="#c4c4c4" stroke-width="0.75" stroke-dasharray="2.2 0.5"/>
<line x1="51.6" y1="610.5" x2="256.3" y2="610.5" stroke="#c4c4c4" stroke-width="0.75" stroke-dasharray="2.2 0.5"/>
<text x="0" y="0" font-size="6.6" text-anchor="middle" fill="#151515" font-weight="bold" transform="translate(125.9 523.09) scale(0.78 1)">10</text>
<text x="0" y="0" font-size="6.6" text-anchor="middle" fill="#151515" font-weight="bold" transform="translate(125.9 531.25) scale(0.78 1)">0</text>
<text x="0" y="0" font-size="6.6" text-anchor="middle" fill="#151515" font-weight="bold" transform="translate(125.9 539.41) scale(0.78 1)">10</text>
<text x="0" y="0" font-size="6.6" text-anchor="middle" fill="#151515" font-weight="bold" transform="translate(125.9 547.57) scale(0.78 1)">20</text>
<text x="0" y="0" font-size="6.6" text-anchor="middle" fill="#151515" font-weight="bold" transform="translate(125.9 555.73) scale(0.78 1)">30</text>
<text x="0" y="0" font-size="6.6" text-anchor="middle" fill="#151515" font-weight="bold" transform="translate(125.9 563.89) scale(0.78 1)">40</text>
<text x="0" y="0" font-size="6.6" text-anchor="middle" fill="#151515" font-weight="bold" transform="translate(125.9 572.05) scale(0.78 1)">50</text>
<text x="0" y="0" font-size="6.6" text-anchor="middle" fill="#151515" font-weight="bold" transform="translate(125.9 580.21) scale(0.78 1)">60</text>
<text x="0" y="0" font-size="6.6" text-anchor="middle" fill="#151515" font-weight="bold" transform="translate(125.9 588.37) scale(0.78 1)">70</text>
<text x="0" y="0" font-size="6.6" text-anchor="middle" fill="#151515" font-weight="bold" transform="translate(125.9 596.53) scale(0.78 1)">80</text>
<text x="0" y="0" font-size="6.6" text-anchor="middle" fill="#151515" font-weight="bold" transform="translate(125.9 604.69) scale(0.78 1)">90</text>
<text x="0" y="0" font-size="6.3" text-anchor="middle" fill="#151515" font-weight="bold" transform="translate(229.3 523.99) scale(0.66 1)">-10</text>
<text x="0" y="0" font-size="6.3" text-anchor="middle" fill="#151515" font-weight="bold" transform="translate(229.3 532.15) scale(0.66 1)">0</text>
<text x="0" y="0" font-size="6.3" text-anchor="middle" fill="#151515" font-weight="bold" transform="translate(229.3 540.31) scale(0.66 1)">10</text>
<text x="0" y="0" font-size="6.3" text-anchor="middle" fill="#151515" font-weight="bold" transform="translate(229.3 548.47) scale(0.66 1)">20</text>
<text x="0" y="0" font-size="6.3" text-anchor="middle" fill="#151515" font-weight="bold" transform="translate(229.3 556.63) scale(0.66 1)">30</text>
<text x="0" y="0" font-size="6.3" text-anchor="middle" fill="#151515" font-weight="bold" transform="translate(229.3 564.79) scale(0.66 1)">40</text>
<text x="0" y="0" font-size="6.3" text-anchor="middle" fill="#151515" font-weight="bold" transform="translate(229.3 572.95) scale(0.66 1)">50</text>
<text x="0" y="0" font-size="6.3" text-anchor="middle" fill="#151515" font-weight="bold" transform="translate(229.3 581.11) scale(0.66 1)">60</text>
<text x="0" y="0" font-size="6.3" text-anchor="middle" fill="#151515" font-weight="bold" transform="translate(229.3 589.27) scale(0.66 1)">70</text>
<text x="0" y="0" font-size="6.3" text-anchor="middle" fill="#151515" font-weight="bold" transform="translate(229.3 597.43) scale(0.66 1)">80</text>
<text x="0" y="0" font-size="6.3" text-anchor="middle" fill="#151515" font-weight="bold" transform="translate(229.3 605.59) scale(0.66 1)">90</text>
<polyline points="68,528.8 68.5,528.79 69,528.91 69.5,529.13 70,528.84 70.5,528.7 71,528.76 71.5,529.22 72,528.84 72.5,528.69 73,528.85 73.5,528.95 74,528.95 74.5,529.24 75,528.87 75.5,528.62 76,529.17 76.5,528.95 77,528.95 77.5,528.78 78,528.71 78.5,529.18 79,528.63 79.5,528.79 80,528.69 80.5,529.16 81,528.96 81.5,528.77 82,529.03 82.5,529.25 83,528.73 83.5,528.74 84,528.97 84.5,528.94 85,528.7 85.5,528.79 86,528.9 86.5,529.06 87,528.63 87.5,529.02 88,528.99 88.5,529.27 89,528.47 89.5,528.84 90,528.83 90.5,529.18 91,528.69 91.5,528.8 92,528.95 92.5,529.01 93,528.99 93.5,528.67 94,529.26 94.5,528.95 95,529.62 95.5,530.38 96,530.91 96.5,531.87 97,532.22 97.5,533.19 98,533.91 98.5,534.53 99,535.49 99.5,536.17 100,537.18 100.5,537.42 101,537.84 101.5,538.61 102,539.05 102.5,539.99 103,540.14 103.5,540.06 104,540.07 104.5,540.82 105,540.59 105.5,540.34 106,540.87 106.5,540.59 107,541.28 107.5,541.25 108,541.11 108.5,541.38 109,541.26 109.5,542.21 110,542.11 110.5,542.44 111,542.79 111.5,542.69 112,542.89 112.5,543.15 113,543.55 113.5,543.58 114,543.94 114.5,544.33 115,544.57 115.5,544.72 116,544.9 116.5,545.29 117,545.82 117.5,546.26 118,546.53 118.5,546.55 119,547.05 119.5,547.31 120,547.84 120.5,547.72 121,548.43 121.5,548.61 122,548.84 122.5,549.7 123,549.92 123.5,549.61 124,550.29 124.5,550.76 125,551.19 125.5,551.1 126,551.78 126.5,552.1 127,552.27 127.5,552.93 128,553.04 128.5,553.49 129,553.67 129.5,554.3 130,554.66 130.5,554.85 131,555.1 131.5,555.61 132,556.01 132.5,556.34 133,556.61 133.5,557.2 134,557.29 134.5,557.73 135,558.38 135.5,558.27 136,558.81 136.5,559.24 137,559.41 137.5,559.68 138,560.15 138.5,560.33 139,561.17 139.5,561.59 140,562.19 140.5,562.89 141,563.03 141.5,563.53 142,564.09 142.5,564.4 143,564.71 143.5,565.38 144,566.08 144.5,566.56 145,567.08 145.5,567.46 146,568.09 146.5,568.51 147,569.02 147.5,569.26 148,569.8 148.5,570.4 149,571.12 149.5,571.26 150,571.78 150.5,572.46 151,572.56 151.5,572.86 152,572.94 152.5,573.67 153,574.37 153.5,574.32 154,574.83 154.5,575.24 155,575.67 155.5,575.77 156,576.47 156.5,576.75 157,576.74 157.5,576.67 158,577.62 158.5,577.78 159,578.02 159.5,577.9 160,578.34 160.5,578.68 161,579.01 161.5,579.17 162,579.6 162.5,579.41 163,579.6 163.5,580.04 164,580.49 164.5,580.19 165,580.36 165.5,581.17 166,580.87 166.5,581.22 167,581.65 167.5,581.35 168,581.74 168.5,581.98 169,582.01 169.5,582.13 170,582.22 170.5,582.42 171,582.85 171.5,582.36 172,583.01 172.5,583.07 173,583.22 173.5,583.35 174,583.47 174.5,583.73 175,583.35 175.5,584.01 176,584.12 176.5,584.12 177,584.21 177.5,584.53 178,584.86 178.5,584.89 179,584.95 179.5,584.45 180,585.25 180.5,585.04 181,585.01 181.5,585.29 182,585.57 182.5,585.1 183,585.69 183.5,585.53 184,585.75 184.5,585.77 185,586.07 185.5,586.03 186,585.97 186.5,586.03 187,586.18 187.5,586.49 188,586.32 188.5,586.7 189,586.87 189.5,586.77 190,586.42 190.5,586.97 191,587.08 191.5,587.23 192,587.19 192.5,587.49 193,587.59 193.5,587.4 194,587.62 194.5,587.91 195,587.75 195.5,587.79 196,588.16 196.5,587.47 197,588.2 197.5,587.94 198,587.66 198.5,588.32 199,588.49 199.5,588.27 200,588.46 200.5,588.63 201,588.41 201.5,588.62 202,588.76 202.5,588.55 203,588.73 203.5,588.64 204,588.68 204.5,588.9 205,589.06 205.5,589.08 206,589.22 206.5,589.29 207,589.34 207.5,589.15 208,589.24 208.5,589.11 209,589.7" fill="none" stroke="#3b5c5e" stroke-width="0.9" stroke-linejoin="round"/>
<polyline points="117.7,528.75 118.2,530.09 118.7,531.12 119.2,532.12 119.7,533.09 120.2,533.92 120.7,534.57 121.2,535.28 121.7,535.71 122.2,536.61 122.7,536.93 123.2,537.53 123.7,537.81 124.2,537.46 124.7,538.15 125.2,537.93 125.7,537.99 126.2,538.25 126.7,538.45 127.2,538.67 127.7,539.08 128.2,538.39 128.7,538.66 129.2,538.86 129.7,538.76 130.2,538.62 130.7,538.95 131.2,539.03 131.7,539.15 132.2,539.05 132.7,539.41 133.2,539.24 133.7,539.38 134.2,539.09 134.7,538.86 135.2,539.5 135.7,539.48 136.2,539.6 136.7,539.58 137.2,539.58 137.7,539.72 138.2,540.11 138.7,540 139.2,540.31 139.7,540.61 140.2,540.96 140.7,541.59 141.2,541.4 141.7,542.27 142.2,542.16 142.7,542.5 143.2,542.82 143.7,543.5 144.2,544.11 144.7,544.14 145.2,544.79 145.7,545.3 146.2,545.78 146.7,546.24 147.2,547.04 147.7,547.62 148.2,548.06 148.7,548.41 149.2,549.05 149.7,549.69 150.2,550.11 150.7,550.73 151.2,551.04 151.7,551.74 152.2,552.24 152.7,552.55 153.2,553.15 153.7,553.57 154.2,554.24 154.7,554.7 155.2,555.25 155.7,555.73 156.2,556.12 156.7,556.8 157.2,556.98 157.7,557.64 158.2,557.67 158.7,558.34 159.2,559.08 159.7,559.33 160.2,559.85 160.7,560.04 161.2,560.34 161.7,560.83 162.2,561.42 162.7,561.74 163.2,562.52 163.7,562.93 164.2,563.13 164.7,563.21 165.2,563.76 165.7,564.03 166.2,564.39 166.7,564.8 167.2,565.23 167.7,565.55 168.2,565.96 168.7,566.01 169.2,566.6 169.7,567.18 170.2,567.52 170.7,567.54 171.2,568.17 171.7,568.49 172.2,568.6 172.7,569.2 173.2,569.6 173.7,569.85 174.2,570.51 174.7,570.44 175.2,570.92 175.7,571.3 176.2,571.64 176.7,571.81 177.2,572.32 177.7,572.62 178.2,573.33 178.7,573.5 179.2,573.61 179.7,574.22 180.2,574.16 180.7,574.73 181.2,575.33 181.7,575.05 182.2,575.92 182.7,576.17 183.2,576.3 183.7,576.88 184.2,576.83 184.7,577.51 185.2,577.63 185.7,578.09 186.2,577.96 186.7,578.51 187.2,578.78 187.7,578.67 188.2,579.35 188.7,579.06 189.2,579.85 189.7,580.02 190.2,579.7 190.7,580.33 191.2,580.26 191.7,580.44 192.2,580.6 192.7,580.39 193.2,580.86 193.7,580.96 194.2,581.26 194.7,580.91 195.2,581.45 195.7,581.77 196.2,581.6 196.7,581.95 197.2,582.08 197.7,582.06 198.2,582.29 198.7,582.51 199.2,582.2 199.7,582.71 200.2,582.66 200.7,582.83 201.2,582.86 201.7,582.95 202.2,583.28 202.7,583.34 203.2,583.31 203.7,583.18 204.2,583.64 204.7,583.76 205.2,584.12 205.7,583.74 206.2,583.99 206.7,584 207.2,583.65 207.7,584.09 208.2,584.38 208.7,584.27 209.2,584.77 209.7,584.64 210.2,584.57 210.7,584.9 211.2,584.72 211.7,585.05 212.2,584.99 212.7,585.11 213.2,584.98 213.7,585.18 214.2,585.3 214.7,585.34 215.2,585.49 215.7,585.77 216.2,585.49 216.7,585.45 217.2,585.78 217.7,585.63 218.2,586.05 218.7,585.77 219.2,585.76 219.7,586.03 220.2,585.83 220.7,586 221.2,586.27 221.7,585.87 222.2,586.29 222.7,586.21 223.2,586.35 223.7,586.57 224.2,586.51 224.7,586.6 225.2,586.44 225.7,586.82" fill="none" stroke="#3a4a78" stroke-width="0.9" stroke-linejoin="round"/>
<polyline points="137.9,528.92 138.4,528.93 138.9,529.33 139.4,529.2 139.9,529.32 140.4,529.71 140.9,529.98 141.4,530.12 141.9,530.28 142.4,530.28 142.9,530.32 143.4,530.6 143.9,530.75 144.4,530.82 144.9,530.86 145.4,531.08 145.9,531.29 146.4,531.23 146.9,531.49 147.4,531.51 147.9,532.1 148.4,532.08 148.9,532.09 149.4,532.39 149.9,532.41 150.4,532.44 150.9,532.66 151.4,532.77 151.9,533.47 152.4,532.91 152.9,532.77 153.4,533.44 153.9,533.25 154.4,533.37 154.9,533.91 155.4,533.71 155.9,533.77 156.4,534.1 156.9,534.03 157.4,534.46 157.9,534.36 158.4,534.62 158.9,534.95 159.4,535.15 159.9,534.64 160.4,535.02 160.9,535.16 161.4,535.48 161.9,535.41 162.4,535.46 162.9,535.96 163.4,536.06 163.9,536 164.4,535.79 164.9,536.21 165.4,536.14 165.9,536.79 166.4,536.68 166.9,536.78 167.4,536.97 167.9,537.06 168.4,536.88 168.9,537.27 169.4,537.34 169.9,537 170.4,537.67 170.9,537.65 171.4,537.67 171.9,537.85 172.4,537.73 172.9,538.1 173.4,537.96 173.9,537.9 174.4,538.48 174.9,538.36 175.4,538.32 175.9,538.42 176.4,538.52 176.9,538.74 177.4,538.7 177.9,538.87 178.4,538.63 178.9,538.7 179.4,538.93 179.9,539.05 180.4,539.07 180.9,539.05 181.4,539.23 181.9,539.52 182.4,539.62 182.9,539.42 183.4,539.85 183.9,539.91 184.4,540.01 184.9,540.22 185.4,540.24 185.9,540.59 186.4,540.37 186.9,540.43 187.4,540.74 187.9,540.89 188.4,540.78 188.9,541.14 189.4,541.23 189.9,541.13 190.4,541.37 190.9,541.69 191.4,541.78 191.9,541.57 192.4,541.96 192.9,541.96 193.4,542.37 193.9,542.12 194.4,542.34 194.9,542.1 195.4,542.61 195.9,542.53 196.4,542.55 196.9,542.65 197.4,542.8 197.9,542.83 198.4,543.11 198.9,543.04 199.4,543.17 199.9,543.77 200.4,543.41 200.9,543.6 201.4,543.68 201.9,543.73 202.4,543.88 202.9,543.77 203.4,544.2 203.9,544.25 204.4,544.37 204.9,544.3 205.4,544.75 205.9,544.54 206.4,544.89 206.9,544.95 207.4,545 207.9,545.62 208.4,545.77 208.9,545.93 209.4,545.91 209.9,545.97 210.4,546.32 210.9,546.46 211.4,546.4 211.9,547.06 212.4,547.2 212.9,547.18 213.4,547.33 213.9,547.68 214.4,547.93 214.9,548.43 215.4,548.37 215.9,548.36 216.4,548.82 216.9,548.74 217.4,548.97 217.9,549.41 218.4,549.5 218.9,549.52 219.4,549.82 219.9,550.05 220.4,550.16 220.9,550.43 221.4,550.7 221.9,550.82 222.4,550.9 222.9,551.32 223.4,551.61 223.9,551.68 224.4,551.55 224.9,551.76 225.4,552.07 225.9,552.25 226.4,552.25 226.9,552.63 227.4,552.73 227.9,552.71 228.4,552.79 228.9,553.22 229.4,553.28 229.9,553.84 230.4,553.57 230.9,553.78 231.4,554.46 231.9,554.02 232.4,554.51 232.9,554.54 233.4,554.63 233.9,554.67 234.4,555.01 234.9,555.38 235.4,555.43 235.9,555.45 236.4,555.75 236.9,555.7 237.4,555.94 237.9,556.24 238.4,556.23 238.9,556.49 239.4,556.53 239.9,556.5 240.4,557.01 240.9,556.85 241.4,557.3 241.9,557.41 242.4,557.6 242.9,557.65 243.4,557.65" fill="none" stroke="#2c2c3c" stroke-width="0.9" stroke-linejoin="round"/>
<polyline points="137.9,528.38 138.4,528.48 138.9,528.65 139.4,528.71 139.9,528.44 140.4,528.66 140.9,528.43 141.4,528.51 141.9,528.63 142.4,528.46 142.9,528.78 143.4,528.2 143.9,528.46 144.4,528.4 144.9,528.47 145.4,528.51 145.9,528.31 146.4,528.64 146.9,528.35 147.4,528.57 147.9,528.62 148.4,528.36 148.9,528.64 149.4,528.53 149.9,528.46 150.4,528.6 150.9,528.7 151.4,528.69 151.9,528.59 152.4,528.54 152.9,528.55 153.4,528.75 153.9,528.72 154.4,528.69 154.9,528.73 155.4,528.76 155.9,528.85 156.4,529.06 156.9,528.97 157.4,529.02 157.9,529.15 158.4,529.2 158.9,529.28 159.4,529.6 159.9,529.81 160.4,529.68 160.9,529.84 161.4,529.91 161.9,530.17 162.4,530.14 162.9,530.5 163.4,530.87 163.9,530.8 164.4,531.12 164.9,531.37 165.4,531.55 165.9,532.01 166.4,532.15 166.9,532.63 167.4,532.73 167.9,532.94 168.4,533.2 168.9,533.48 169.4,534.05 169.9,534.3 170.4,534.89 170.9,535.09 171.4,535.54 171.9,535.94 172.4,536.13 172.9,536.78 173.4,537.14 173.9,537.43 174.4,537.9 174.9,538.37 175.4,538.75 175.9,539.15 176.4,539.53 176.9,540.02 177.4,540.25 177.9,540.63 178.4,541.05 178.9,541.54 179.4,541.83 179.9,542.16 180.4,542.57 180.9,543.26 181.4,543.52 181.9,544.04 182.4,544.31 182.9,544.62 183.4,545.16 183.9,545.46 184.4,545.88 184.9,545.79 185.4,546.15 185.9,546.54 186.4,546.52 186.9,547.05 187.4,547.13 187.9,547.4 188.4,547.57 188.9,548.08 189.4,548.25 189.9,548.27 190.4,548.48 190.9,549.07 191.4,549.33 191.9,549.44 192.4,549.95 192.9,550.02 193.4,550.27 193.9,550.62 194.4,550.73 194.9,550.93 195.4,551.41 195.9,551.52 196.4,551.76 196.9,552.17 197.4,552.28 197.9,552.33 198.4,552.77 198.9,552.85 199.4,553.07 199.9,553.22 200.4,553.61 200.9,553.63 201.4,554.03 201.9,554.09 202.4,554.15 202.9,554.53 203.4,554.7 203.9,554.69 204.4,554.78 204.9,555.07 205.4,555.2 205.9,555.19 206.4,555.82 206.9,555.53 207.4,555.96 207.9,556 208.4,556.14 208.9,556.27 209.4,556.43 209.9,556.37 210.4,556.52 210.9,557 211.4,556.96 211.9,557.3 212.4,557.27 212.9,557.36 213.4,557.47 213.9,557.6 214.4,557.59 214.9,557.84 215.4,558.07 215.9,558.16 216.4,558.12 216.9,558.4 217.4,558.41 217.9,558.51 218.4,558.21 218.9,558.6 219.4,558.72 219.9,558.75 220.4,559.03 220.9,558.78 221.4,559.1 221.9,559.18 222.4,559.41 222.9,559.25 223.4,559.43 223.9,559.42 224.4,559.57 224.9,559.69 225.4,559.67 225.9,559.8 226.4,559.89 226.9,560.1 227.4,559.86 227.9,560.16 228.4,559.99 228.9,560.12 229.4,560.15 229.9,560.44 230.4,560.3 230.9,560.71 231.4,560.54 231.9,560.68 232.4,560.61 232.9,560.81 233.4,560.61 233.9,560.86 234.4,560.86 234.9,561.18 235.4,560.85 235.9,560.62 236.4,561.27 236.9,561.1 237.4,561.08 237.9,561.3 238.4,561.29 238.9,561.22 239.4,561.13 239.9,561.47 240.4,561.38 240.9,561.29 241.4,561.45 241.9,561.57 242.4,561.52 242.9,561.61 243.4,561.89 243.9,561.74 244.4,561.95 244.9,561.93 245.4,561.7 245.9,561.96 246.4,561.95 246.9,561.75 247.4,561.96 247.9,561.93 248.4,562.37 248.9,562.03 249.4,562.24 249.9,562.29 250.4,562.21 250.9,562.29 251.4,562.2 251.9,562.4 252.4,562.64 252.9,562.49 253.4,562.57 253.9,562.32 254.4,562.59 254.9,562.46 255.4,562.51 255.9,562.56" fill="none" stroke="#3a3a3a" stroke-width="0.9" stroke-linejoin="round"/>
<polyline points="68,529.11 68.6,528.16 69.2,528.82 69.8,529.26 70.4,528.59 71,528.91 71.6,529.27 72.2,528.61 72.8,529.1 73.4,529.37 74,529.01 74.6,529.31 75.2,528.87 75.8,528.79 76.4,529.02 77,528.54 77.6,529.18 78.2,528.91 78.8,528.58 79.4,529.18 80,529.07 80.6,528.82 81.2,528.74 81.8,528.99 82.4,528.51 83,528.61 83.6,529.22 84.2,528.99 84.8,529.22 85.4,528.96 86,529.34 86.6,528.65 87.2,529.22 87.8,529.16 88.4,529.22 89,529.33 89.6,528.84 90.2,528.94 90.8,529.44 91.4,529.26 92,529.19 92.6,528.58 93.2,529.42 93.8,529.06 94.4,529.17 95,528.5 95.6,529.02 96.2,528.35 96.8,529.13 97.4,528.94 98,528.99 98.6,528.69 99.2,529.01 99.8,528.9 100.4,528.5 101,529 101.6,528.87 102.2,528.56 102.8,529.18 103.4,528.58 104,528.73 104.6,528.44 105.2,528.49 105.8,529.03 106.4,529.53 107,528.77 107.6,528.86 108.2,528.85 108.8,529.19 109.4,529.54 110,529.03 110.6,528.89 111.2,529.19 111.8,529.11 112.4,528.87 113,528.96 113.6,528.71 114.2,528.96 114.8,528.57 115.4,529.3 116,529.3 116.6,528.38 117.2,528.39 117.8,528.69 118.4,528.88 119,529.19 119.6,528.81 120.2,529.18 120.8,528.49 121.4,528.83 122,528.86 122.6,528.62 123.2,528.65 123.8,529.06 124.4,528.98 125,529.14 125.6,528.36 126.2,529.3 126.8,529.38 127.4,529.46 128,528.89 128.6,528.72 129.2,529.05 129.8,528.94 130.4,529.15 131,528.28 131.6,528.81 132.2,528.96 132.8,528.63 133.4,528.62 134,529.37 134.6,529.04 135.2,528.64 135.8,529.35 136.4,528.79 137,528.66 137.6,528.68" fill="none" stroke="#2a3550" stroke-width="1" stroke-linejoin="round"/>
<polyline points="51.6,528.32 52.1,528.84 52.6,529.51 53.1,529.1 53.6,528.87 54.1,529.37 54.6,529.03 55.1,529.64 55.6,528.1 56.1,528.76 56.6,528.94 57.1,528.4 57.6,528.71 58.1,528.22 58.6,528.09 59.1,529.25 59.6,527.71 60.1,528.96 60.6,531.01 61.1,532.6 61.6,535.57 62.1,538.48 62.6,542 63.1,546.48 63.6,550 64.1,553.03 64.6,554.99 65.1,556.96 65.6,559.31 66.1,561.18 66.6,562.6 67.1,564.07 67.6,565.67 68.1,567.17 68.6,568.46 69.1,568.85 69.6,570.22 70.1,571.77 70.6,572.53 71.1,573.44 71.6,574.82 72.1,575.24 72.6,576.41 73.1,576.41 73.6,578.48 74.1,578.17 74.6,578.99 75.1,580.94 75.6,581.16 76.1,581.37 76.6,581.59 77.1,582.15 77.6,582.19 78.1,583.11 78.6,582.7 79.1,584.56 79.6,584.87 80.1,584.72 80.6,585.62 81.1,585.23 81.6,586.14 82.1,586.87 82.6,587.48 83.1,587.52 83.6,587.3 84.1,587.75 84.6,589.04 85.1,587.63 85.6,589.29 86.1,588.02 86.6,588.72 87.1,589.68 87.6,589.35 88.1,589.25 88.6,590.14 89.1,590.34 89.6,589.74 90.1,590.29 90.6,591.16 91.1,590.4 91.6,590.67 92.1,590.75 92.6,590.88 93.1,590.95 93.6,590.76 94.1,591.2 94.6,590.69 95.1,591.1 95.6,591.04 96.1,591.35 96.6,591.74 97.1,591.29 97.6,591.52 98.1,591.99 98.6,591.44 99.1,592.05 99.6,591.5 100.1,592.48 100.6,592.19 101.1,592.09 101.6,592.1 102.1,592.08 102.6,593.32 103.1,592.24 103.6,592.81 104.1,592.79 104.6,592.45 105.1,592.31 105.6,593.16 106.1,593.26 106.6,593.16 107.1,592.35 107.6,593.04 108.1,592.86 108.6,593.28 109.1,592.9 109.6,592.63 110.1,593.24 110.6,592.74 111.1,593.87 111.6,593.26 112.1,593.53 112.6,593.87 113.1,594.46 113.6,593.69 114.1,592.89 114.6,592.9 115.1,592.99 115.6,593.77 116.1,593.48 116.6,594.14 117.1,593.58 117.6,593.31 118.1,594.43 118.6,593.88 119.1,594.18 119.6,593.63 120.1,594.11 120.6,594.68 121.1,593.99 121.6,593.65 122.1,594.77 122.6,594.5 123.1,593.77 123.6,593.51 124.1,594.24 124.6,594.78 125.1,594.69 125.6,593.97 126.1,594.33 126.6,594.69 127.1,594.52 127.6,593.89 128.1,594.27 128.6,594.93 129.1,594.97 129.6,594.28 130.1,594.53 130.6,594.54 131.1,594.66 131.6,593.57 132.1,595.03 132.6,594.8 133.1,594.11 133.6,594.94 134.1,593.92 134.6,593.86 135.1,593.87 135.6,594.85 136.1,594.36 136.6,593.91 137.1,594.95 137.6,594.52 138.1,593.84 138.6,594.07 139.1,593.89 139.6,594.46 140.1,595 140.6,595.04 141.1,594.58 141.6,594.92 142.1,594.08 142.6,594.41 143.1,594.52 143.6,595.2 144.1,594.56 144.6,595.54 145.1,594.34 145.6,594.05 146.1,593.42 146.6,594.63 147.1,594.92 147.6,594.67 148.1,594.85 148.6,594.86 149.1,594.36 149.6,594.66 150.1,595.12 150.6,594.83 151.1,594.68 151.6,593.83 152.1,594.12 152.6,594.38 153.1,594.22 153.6,593.76 154.1,594.42 154.6,595.05 155.1,595.02 155.6,594.49 156.1,594.82 156.6,595.24 157.1,594.62 157.6,594.33 158.1,594.78 158.6,594.97 159.1,594.44 159.6,595.19 160.1,594.64 160.6,594.57 161.1,594.92 161.6,594.61 162.1,594.7 162.6,594.19 163.1,594.46 163.6,594 164.1,594.89 164.6,593.24 165.1,594.06 165.6,594.47 166.1,594.18 166.6,594.38 167.1,594 167.6,595.02 168.1,593.78 168.6,594.44 169.1,594.43 169.6,594.61 170.1,594.12 170.6,594.5 171.1,593.83 171.6,594.43 172.1,594.62 172.6,593.81 173.1,594.23 173.6,594.01 174.1,594.64 174.6,594.84 175.1,595 175.6,594.58 176.1,594.28 176.6,593.69 177.1,593.88 177.6,594.85 178.1,594.17 178.6,594.09 179.1,594.11 179.6,593.94 180.1,594.16 180.6,594.38 181.1,594.18 181.6,594.71 182.1,593.61 182.6,594.35 183.1,593.82 183.6,593.71 184.1,593.2 184.6,595.08 185.1,594.11 185.6,594.09 186.1,594.05 186.6,594.17 187.1,594.99 187.6,594.81 188.1,594.39 188.6,594.25 189.1,593.76 189.6,594.73 190.1,594.2 190.6,594.95" fill="none" stroke="#f4ccd8" stroke-width="1.6" stroke-linejoin="round"/>
<polyline points="51.6,528.32 52.1,528.84 52.6,529.51 53.1,529.1 53.6,528.87 54.1,529.37 54.6,529.03 55.1,529.64 55.6,528.1 56.1,528.76 56.6,528.94 57.1,528.4 57.6,528.71 58.1,528.22 58.6,528.09 59.1,529.25 59.6,527.71 60.1,528.96 60.6,531.01 61.1,532.6 61.6,535.57 62.1,538.48 62.6,542 63.1,546.48 63.6,550 64.1,553.03 64.6,554.99 65.1,556.96 65.6,559.31 66.1,561.18 66.6,562.6 67.1,564.07 67.6,565.67 68.1,567.17 68.6,568.46 69.1,568.85 69.6,570.22 70.1,571.77 70.6,572.53 71.1,573.44 71.6,574.82 72.1,575.24 72.6,576.41 73.1,576.41 73.6,578.48 74.1,578.17 74.6,578.99 75.1,580.94 75.6,581.16 76.1,581.37 76.6,581.59 77.1,582.15 77.6,582.19 78.1,583.11 78.6,582.7 79.1,584.56 79.6,584.87 80.1,584.72 80.6,585.62 81.1,585.23 81.6,586.14 82.1,586.87 82.6,587.48 83.1,587.52 83.6,587.3 84.1,587.75 84.6,589.04 85.1,587.63 85.6,589.29 86.1,588.02 86.6,588.72 87.1,589.68 87.6,589.35 88.1,589.25 88.6,590.14 89.1,590.34 89.6,589.74 90.1,590.29 90.6,591.16 91.1,590.4 91.6,590.67 92.1,590.75 92.6,590.88 93.1,590.95 93.6,590.76 94.1,591.2 94.6,590.69 95.1,591.1 95.6,591.04 96.1,591.35 96.6,591.74 97.1,591.29 97.6,591.52 98.1,591.99 98.6,591.44 99.1,592.05 99.6,591.5 100.1,592.48 100.6,592.19 101.1,592.09 101.6,592.1 102.1,592.08 102.6,593.32 103.1,592.24 103.6,592.81 104.1,592.79 104.6,592.45 105.1,592.31 105.6,593.16 106.1,593.26 106.6,593.16 107.1,592.35 107.6,593.04 108.1,592.86 108.6,593.28 109.1,592.9 109.6,592.63 110.1,593.24 110.6,592.74 111.1,593.87 111.6,593.26 112.1,593.53 112.6,593.87 113.1,594.46 113.6,593.69 114.1,592.89 114.6,592.9 115.1,592.99 115.6,593.77 116.1,593.48 116.6,594.14 117.1,593.58 117.6,593.31 118.1,594.43 118.6,593.88 119.1,594.18 119.6,593.63 120.1,594.11 120.6,594.68 121.1,593.99 121.6,593.65 122.1,594.77 122.6,594.5 123.1,593.77 123.6,593.51 124.1,594.24 124.6,594.78 125.1,594.69 125.6,593.97 126.1,594.33 126.6,594.69 127.1,594.52 127.6,593.89 128.1,594.27 128.6,594.93 129.1,594.97 129.6,594.28 130.1,594.53 130.6,594.54 131.1,594.66 131.6,593.57 132.1,595.03 132.6,594.8 133.1,594.11 133.6,594.94 134.1,593.92 134.6,593.86 135.1,593.87 135.6,594.85 136.1,594.36 136.6,593.91 137.1,594.95 137.6,594.52 138.1,593.84 138.6,594.07 139.1,593.89 139.6,594.46 140.1,595 140.6,595.04 141.1,594.58 141.6,594.92 142.1,594.08 142.6,594.41 143.1,594.52 143.6,595.2 144.1,594.56 144.6,595.54 145.1,594.34 145.6,594.05 146.1,593.42 146.6,594.63 147.1,594.92 147.6,594.67 148.1,594.85 148.6,594.86 149.1,594.36 149.6,594.66 150.1,595.12 150.6,594.83 151.1,594.68 151.6,593.83 152.1,594.12 152.6,594.38 153.1,594.22 153.6,593.76 154.1,594.42 154.6,595.05 155.1,595.02 155.6,594.49 156.1,594.82 156.6,595.24 157.1,594.62 157.6,594.33 158.1,594.78 158.6,594.97 159.1,594.44 159.6,595.19 160.1,594.64 160.6,594.57 161.1,594.92 161.6,594.61 162.1,594.7 162.6,594.19 163.1,594.46 163.6,594 164.1,594.89 164.6,593.24 165.1,594.06 165.6,594.47 166.1,594.18 166.6,594.38 167.1,594 167.6,595.02 168.1,593.78 168.6,594.44 169.1,594.43 169.6,594.61 170.1,594.12 170.6,594.5 171.1,593.83 171.6,594.43 172.1,594.62 172.6,593.81 173.1,594.23 173.6,594.01 174.1,594.64 174.6,594.84 175.1,595 175.6,594.58 176.1,594.28 176.6,593.69 177.1,593.88 177.6,594.85 178.1,594.17 178.6,594.09 179.1,594.11 179.6,593.94 180.1,594.16 180.6,594.38 181.1,594.18 181.6,594.71 182.1,593.61 182.6,594.35 183.1,593.82 183.6,593.71 184.1,593.2 184.6,595.08 185.1,594.11 185.6,594.09 186.1,594.05 186.6,594.17 187.1,594.99 187.6,594.81 188.1,594.39 188.6,594.25 189.1,593.76 189.6,594.73 190.1,594.2 190.6,594.95" fill="none" stroke="#b8365a" stroke-width="0.9" stroke-linejoin="round"/>
<text x="0" y="0" font-size="6" text-anchor="middle" fill="#b8365a" font-weight="normal" transform="translate(56.5 526.4) scale(0.85 1)">1</text>
<text x="0" y="0" font-size="6" text-anchor="middle" fill="#334" font-weight="normal" transform="translate(73.8 526.4) scale(0.85 1)">2</text>
<text x="0" y="0" font-size="6" text-anchor="middle" fill="#334" font-weight="normal" transform="translate(90.8 526.4) scale(0.85 1)">3</text>
<text x="0" y="0" font-size="6" text-anchor="middle" fill="#223" font-weight="normal" transform="translate(107.9 526.4) scale(0.85 1)">4</text>
<text x="0" y="0" font-size="6" text-anchor="middle" fill="#223" font-weight="normal" transform="translate(125.8 526.4) scale(0.85 1)">5</text>
<text x="0" y="0" font-size="6" text-anchor="middle" fill="#b8365a" font-weight="normal" transform="translate(86.3 583.2) scale(0.85 1)">1</text>
<text x="0" y="0" font-size="6" text-anchor="middle" fill="#b8365a" font-weight="normal" transform="translate(121.2 591.8) scale(0.85 1)">1</text>
<text x="0" y="0" font-size="6" text-anchor="middle" fill="#b8365a" font-weight="normal" transform="translate(155.2 591.8) scale(0.85 1)">1</text>
<text x="0" y="0" font-size="6" text-anchor="middle" fill="#b8365a" font-weight="normal" transform="translate(189.8 591.8) scale(0.85 1)">1</text>
<text x="0" y="0" font-size="6" text-anchor="middle" fill="#2f5a5c" font-weight="normal" transform="translate(103.7 537) scale(0.85 1)">2</text>
<text x="0" y="0" font-size="6" text-anchor="middle" fill="#2f5a5c" font-weight="normal" transform="translate(137.9 558.2) scale(0.85 1)">2</text>
<text x="0" y="0" font-size="6" text-anchor="middle" fill="#2f5a5c" font-weight="normal" transform="translate(172.5 580.2) scale(0.85 1)">2</text>
<text x="0" y="0" font-size="6" text-anchor="middle" fill="#3a4a88" font-weight="normal" transform="translate(155.2 551.4) scale(0.85 1)">3</text>
<text x="0" y="0" font-size="6" text-anchor="middle" fill="#3a4a88" font-weight="normal" transform="translate(189.8 576.4) scale(0.85 1)">3</text>
<text x="0" y="0" font-size="6" text-anchor="middle" fill="#3a4a88" font-weight="normal" transform="translate(224.2 583.7) scale(0.85 1)">3</text>
<text x="0" y="0" font-size="6" text-anchor="middle" fill="#223" font-weight="normal" transform="translate(172.5 535.1) scale(0.85 1)">4</text>
<text x="0" y="0" font-size="6" text-anchor="middle" fill="#223" font-weight="normal" transform="translate(207 542.8) scale(0.85 1)">4</text>
<text x="0" y="0" font-size="6" text-anchor="middle" fill="#3a4a88" font-weight="normal" transform="translate(241.5 553.4) scale(0.85 1)">4</text>
<text x="0" y="0" font-size="6" text-anchor="middle" fill="#333" font-weight="normal" transform="translate(155.2 526.4) scale(0.85 1)">5</text>
<text x="0" y="0" font-size="6" text-anchor="middle" fill="#333" font-weight="normal" transform="translate(189.8 547.6) scale(0.85 1)">5</text>
<text x="0" y="0" font-size="6" text-anchor="middle" fill="#333" font-weight="normal" transform="translate(224.2 557.2) scale(0.85 1)">5</text>
<circle cx="60.4" cy="522" r="0.75" fill="#222"/>
<circle cx="94.6" cy="519.4" r="0.75" fill="#222"/>
<circle cx="116.5" cy="518" r="0.75" fill="#222"/>
<circle cx="133.5" cy="520.4" r="0.75" fill="#222"/>
<circle cx="138.3" cy="519.5" r="0.75" fill="#222"/>
<line x1="51.6" y1="512.7" x2="51.6" y2="611.2" stroke="#111" stroke-width="1.3"/>
<line x1="51" y1="610.7" x2="258.7" y2="610.7" stroke="#111" stroke-width="1.3"/>
<line x1="48.3" y1="512.58" x2="51.6" y2="512.58" stroke="#111" stroke-width="0.9"/>
<line x1="48.3" y1="520.74" x2="51.6" y2="520.74" stroke="#111" stroke-width="0.9"/>
<line x1="48.3" y1="528.9" x2="51.6" y2="528.9" stroke="#111" stroke-width="0.9"/>
<line x1="48.3" y1="537.06" x2="51.6" y2="537.06" stroke="#111" stroke-width="0.9"/>
<line x1="48.3" y1="545.22" x2="51.6" y2="545.22" stroke="#111" stroke-width="0.9"/>
<line x1="48.3" y1="553.38" x2="51.6" y2="553.38" stroke="#111" stroke-width="0.9"/>
<line x1="48.3" y1="561.54" x2="51.6" y2="561.54" stroke="#111" stroke-width="0.9"/>
<line x1="48.3" y1="569.7" x2="51.6" y2="569.7" stroke="#111" stroke-width="0.9"/>
<line x1="48.3" y1="577.86" x2="51.6" y2="577.86" stroke="#111" stroke-width="0.9"/>
<line x1="48.3" y1="586.02" x2="51.6" y2="586.02" stroke="#111" stroke-width="0.9"/>
<line x1="48.3" y1="594.18" x2="51.6" y2="594.18" stroke="#111" stroke-width="0.9"/>
<line x1="48.3" y1="602.34" x2="51.6" y2="602.34" stroke="#111" stroke-width="0.9"/>
<line x1="48.3" y1="610.5" x2="51.6" y2="610.5" stroke="#111" stroke-width="0.9"/>
<line x1="68.66" y1="610.7" x2="68.66" y2="613.1" stroke="#111" stroke-width="0.9"/>
<text x="68.66" y="621.9" font-size="6.3" text-anchor="middle" fill="#231f20" font-weight="normal">1</text>
<line x1="85.72" y1="610.7" x2="85.72" y2="613.1" stroke="#111" stroke-width="0.9"/>
<text x="85.72" y="621.9" font-size="6.3" text-anchor="middle" fill="#231f20" font-weight="normal">2</text>
<line x1="102.78" y1="610.7" x2="102.78" y2="613.1" stroke="#111" stroke-width="0.9"/>
<text x="102.78" y="621.9" font-size="6.3" text-anchor="middle" fill="#231f20" font-weight="normal">3</text>
<line x1="119.83" y1="610.7" x2="119.83" y2="613.1" stroke="#111" stroke-width="0.9"/>
<text x="119.83" y="621.9" font-size="6.3" text-anchor="middle" fill="#231f20" font-weight="normal">4</text>
<line x1="136.89" y1="610.7" x2="136.89" y2="613.1" stroke="#111" stroke-width="0.9"/>
<text x="136.89" y="621.9" font-size="6.3" text-anchor="middle" fill="#231f20" font-weight="normal">5</text>
<line x1="153.95" y1="610.7" x2="153.95" y2="613.1" stroke="#111" stroke-width="0.9"/>
<text x="153.95" y="621.9" font-size="6.3" text-anchor="middle" fill="#231f20" font-weight="normal">6</text>
<line x1="171.01" y1="610.7" x2="171.01" y2="613.1" stroke="#111" stroke-width="0.9"/>
<text x="171.01" y="621.9" font-size="6.3" text-anchor="middle" fill="#231f20" font-weight="normal">7</text>
<line x1="188.07" y1="610.7" x2="188.07" y2="613.1" stroke="#111" stroke-width="0.9"/>
<text x="188.07" y="621.9" font-size="6.3" text-anchor="middle" fill="#231f20" font-weight="normal">8</text>
<line x1="205.12" y1="610.7" x2="205.12" y2="613.1" stroke="#111" stroke-width="0.9"/>
<text x="205.12" y="621.9" font-size="6.3" text-anchor="middle" fill="#231f20" font-weight="normal">9</text>
<line x1="222.18" y1="610.7" x2="222.18" y2="613.1" stroke="#111" stroke-width="0.9"/>
<text x="222.18" y="621.9" font-size="6.3" text-anchor="middle" fill="#231f20" font-weight="normal">10</text>
<line x1="239.24" y1="610.7" x2="239.24" y2="613.1" stroke="#111" stroke-width="0.9"/>
<text x="239.24" y="621.9" font-size="6.3" text-anchor="middle" fill="#231f20" font-weight="normal">11</text>
<line x1="256.3" y1="610.7" x2="256.3" y2="613.1" stroke="#111" stroke-width="0.9"/>
<text x="256.3" y="621.9" font-size="6.3" text-anchor="middle" fill="#231f20" font-weight="normal">12</text>
<text x="263.4" y="621.9" font-size="6.3" text-anchor="start" fill="#231f20" font-weight="normal">min</text>
<text x="51.6" y="506.6" font-size="6.4" text-anchor="start" fill="#231f20" font-weight="normal">ADP 5 µM</text>
<text x="45.5" y="527.5" font-size="6.6" text-anchor="end" fill="#231f20" font-weight="normal">0</text>
<text x="45.2" y="611.5" font-size="6.6" text-anchor="end" fill="#231f20" font-weight="normal">100</text>
<line x1="27.4" y1="528.5" x2="27.4" y2="606" stroke="#111" stroke-width="1"/>
<path d="M25.3 603.8 L29.5 603.8 L27.4 609 Z" fill="#111"/>
<text x="0" y="0" font-size="7.3" text-anchor="middle" fill="#231f20" font-weight="normal" transform="translate(22.4 568.5) rotate(-90) scale(0.85 1)" stroke="#231f20" stroke-width="0.22">% Light transmission</text>
<line x1="138.3" y1="520.5" x2="138.3" y2="527.5" stroke="#222" stroke-width="1.1"/>
<text x="262.7" y="516.4" font-size="6.5" text-anchor="start" fill="#231f20" font-weight="normal">1. Control</text>
<text x="262.7" y="527" font-size="6.5" text-anchor="start" fill="#231f20" font-weight="normal">2. R21D10, 10 µg/ml</text>
<text x="262.7" y="537.4" font-size="6.5" text-anchor="start" fill="#231f20" font-weight="normal">3. R21D10, 20 µg/ml</text>
<text x="262.7" y="547.6" font-size="6.5" text-anchor="start" fill="#231f20" font-weight="normal">4. R21D10, 40 µg/ml</text>
<text x="262.7" y="558.7" font-size="6.5" text-anchor="start" fill="#231f20" font-weight="normal">5. 7E3, 10 µg/ml</text>
<line x1="377.2" y1="530.93" x2="377.2" y2="520.04" stroke="#231f20" stroke-width="0.9"/>
<line x1="375" y1="520.04" x2="379.4" y2="520.04" stroke="#231f20" stroke-width="0.9"/>
<rect x="371.8" y="530.93" width="10.8" height="61.77" fill="#c5671b"/>
<line x1="393.7" y1="548.18" x2="393.7" y2="529.6" stroke="#231f20" stroke-width="0.9"/>
<line x1="391.5" y1="529.6" x2="395.9" y2="529.6" stroke="#231f20" stroke-width="0.9"/>
<rect x="388.3" y="548.18" width="10.8" height="44.52" fill="#c5671b"/>
<line x1="410.3" y1="560.22" x2="410.3" y2="537.3" stroke="#231f20" stroke-width="0.9"/>
<line x1="408.1" y1="537.3" x2="412.5" y2="537.3" stroke="#231f20" stroke-width="0.9"/>
<rect x="404.9" y="560.22" width="10.8" height="32.48" fill="#c5671b"/>
<line x1="426.8" y1="575.44" x2="426.8" y2="565.18" stroke="#231f20" stroke-width="0.9"/>
<line x1="424.6" y1="565.18" x2="429" y2="565.18" stroke="#231f20" stroke-width="0.9"/>
<rect x="421.4" y="575.44" width="10.8" height="17.26" fill="#c5671b"/>
<line x1="443.4" y1="570.31" x2="443.4" y2="555" stroke="#231f20" stroke-width="0.9"/>
<line x1="441.2" y1="555" x2="445.6" y2="555" stroke="#231f20" stroke-width="0.9"/>
<rect x="438" y="570.31" width="10.8" height="22.39" fill="#c5671b"/>
<line x1="368.2" y1="593.15" x2="368.2" y2="502" stroke="#231f20" stroke-width="1"/>
<line x1="367.7" y1="592.7" x2="451.6" y2="592.7" stroke="#231f20" stroke-width="1"/>
<line x1="365.6" y1="592.7" x2="368.2" y2="592.7" stroke="#231f20" stroke-width="0.9"/>
<text x="362.2" y="595" font-size="6.65" text-anchor="end" fill="#231f20" font-weight="normal">0</text>
<line x1="365.6" y1="575" x2="368.2" y2="575" stroke="#231f20" stroke-width="0.9"/>
<text x="362.2" y="577.3" font-size="6.65" text-anchor="end" fill="#231f20" font-weight="normal">20</text>
<line x1="365.6" y1="557.3" x2="368.2" y2="557.3" stroke="#231f20" stroke-width="0.9"/>
<text x="362.2" y="559.6" font-size="6.65" text-anchor="end" fill="#231f20" font-weight="normal">40</text>
<line x1="365.6" y1="539.6" x2="368.2" y2="539.6" stroke="#231f20" stroke-width="0.9"/>
<text x="362.2" y="541.9" font-size="6.65" text-anchor="end" fill="#231f20" font-weight="normal">60</text>
<line x1="365.6" y1="521.9" x2="368.2" y2="521.9" stroke="#231f20" stroke-width="0.9"/>
<text x="362.2" y="524.2" font-size="6.65" text-anchor="end" fill="#231f20" font-weight="normal">80</text>
<line x1="365.6" y1="504.2" x2="368.2" y2="504.2" stroke="#231f20" stroke-width="0.9"/>
<text x="362.2" y="506.5" font-size="6.65" text-anchor="end" fill="#231f20" font-weight="normal">100</text>
<line x1="377.2" y1="592.7" x2="377.2" y2="594.9" stroke="#231f20" stroke-width="0.8"/>
<line x1="393.7" y1="592.7" x2="393.7" y2="594.9" stroke="#231f20" stroke-width="0.8"/>
<line x1="410.3" y1="592.7" x2="410.3" y2="594.9" stroke="#231f20" stroke-width="0.8"/>
<line x1="426.8" y1="592.7" x2="426.8" y2="594.9" stroke="#231f20" stroke-width="0.8"/>
<line x1="443.4" y1="592.7" x2="443.4" y2="594.9" stroke="#231f20" stroke-width="0.8"/>
<line x1="377" y1="508.5" x2="442" y2="508.5" stroke="#231f20" stroke-width="0.9"/>
<text x="409.5" y="509.1" font-size="6.6" text-anchor="middle" fill="#231f20" font-weight="normal">*</text>
<line x1="377" y1="518.2" x2="426.2" y2="518.2" stroke="#231f20" stroke-width="0.9"/>
<text x="401.6" y="518.8" font-size="6.6" text-anchor="middle" fill="#231f20" font-weight="normal">*</text>
<line x1="430.5" y1="553.3" x2="442" y2="553.3" stroke="#231f20" stroke-width="0.9"/>
<text x="436.25" y="551.7" font-size="6.2" text-anchor="middle" fill="#231f20" font-weight="normal">ns</text>
<text x="0" y="0" font-size="7.4" text-anchor="middle" fill="#231f20" font-weight="normal" transform="translate(345 548.7) rotate(-90) scale(0.8 1)" stroke="#231f20" stroke-width="0.22">Maximum aggregation</text>
<text x="0" y="0" font-size="6.7" text-anchor="end" fill="#231f20" font-weight="normal" transform="translate(377.6 602.8) rotate(-45)">Control</text>
<text x="0" y="0" font-size="6.7" text-anchor="end" fill="#231f20" font-weight="normal" transform="translate(394.1 602.8) rotate(-45)">R21D10, 10 µg/ml</text>
<text x="0" y="0" font-size="6.7" text-anchor="end" fill="#231f20" font-weight="normal" transform="translate(410.7 602.8) rotate(-45)">R21D10, 20 µg/ml</text>
<text x="0" y="0" font-size="6.7" text-anchor="end" fill="#231f20" font-weight="normal" transform="translate(427.2 602.8) rotate(-45)">R21D10, 40 µg/ml</text>
<text x="0" y="0" font-size="6.7" text-anchor="end" fill="#231f20" font-weight="normal" transform="translate(443.8 602.8) rotate(-45)">7E3, 10 µg/ml</text>
<rect x="0.5" y="0.5" width="519" height="647" fill="none" stroke="#3c3c3c" stroke-width="1"/>
</svg>
</body></html>
